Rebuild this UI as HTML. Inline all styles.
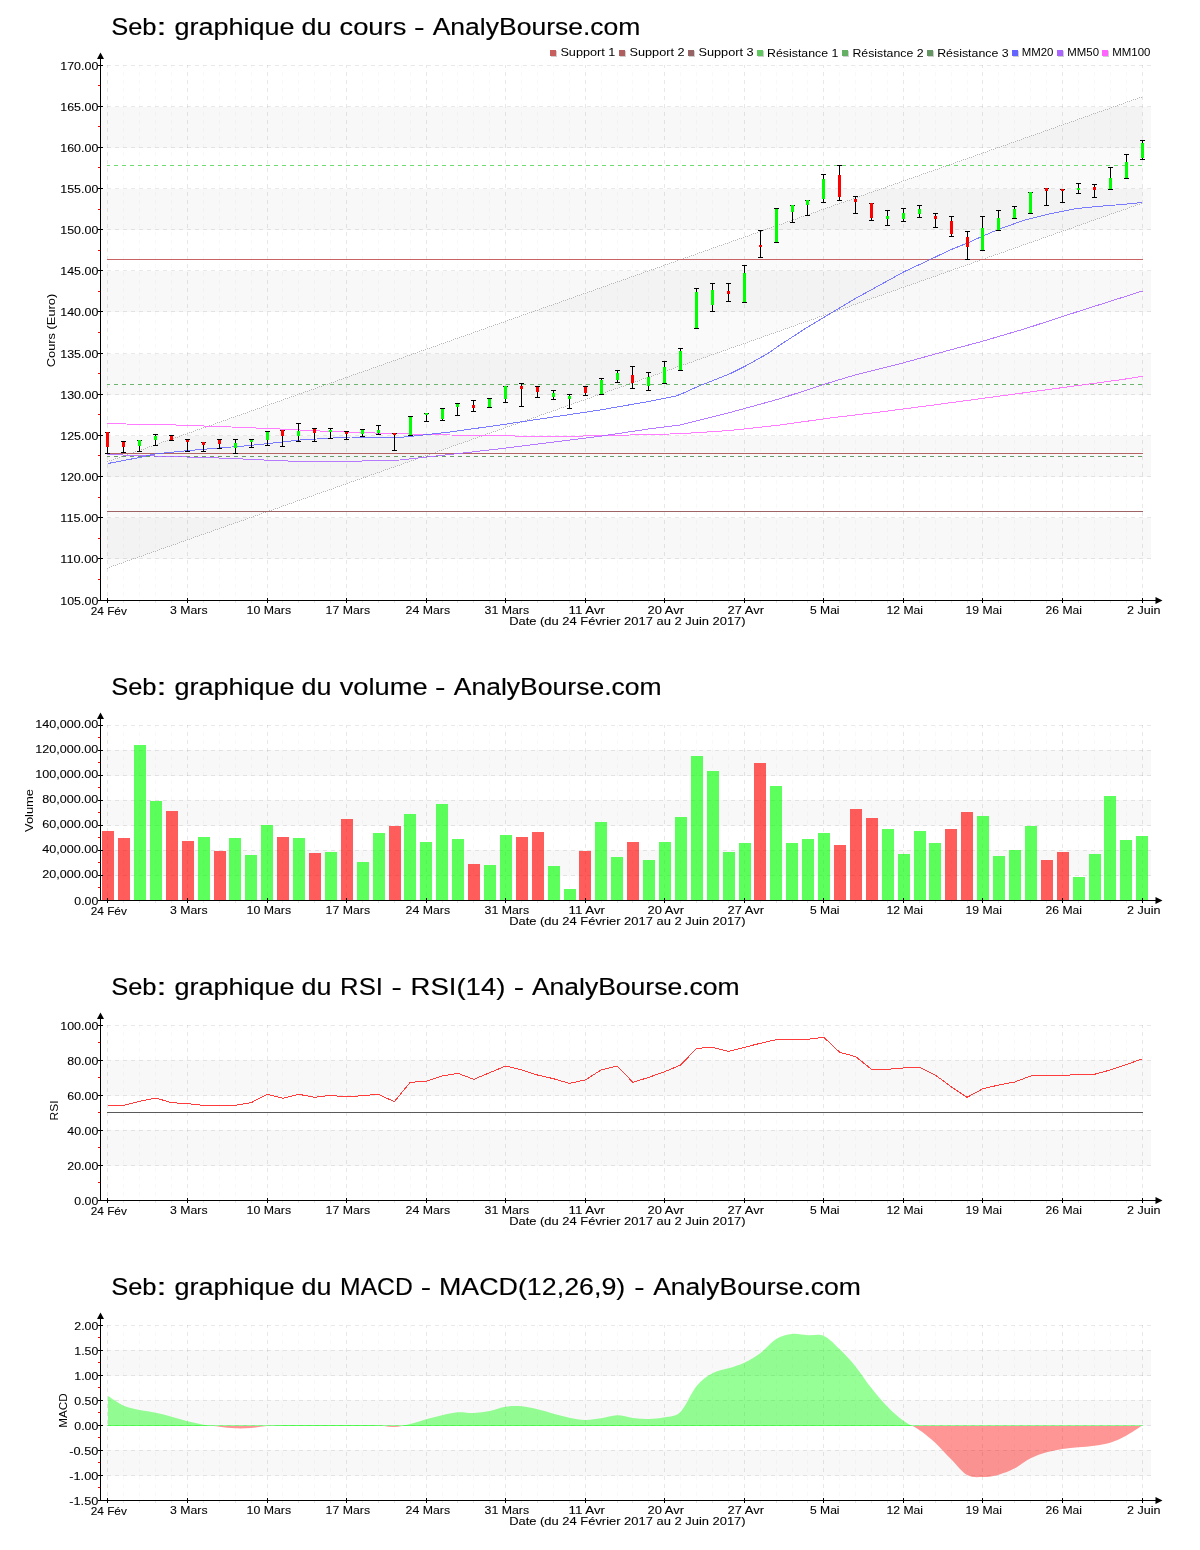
<!DOCTYPE html>
<html><head><meta charset="utf-8"><title>Seb</title>
<style>html,body{margin:0;padding:0;background:#fff}svg{display:block;will-change:transform}text{font-family:"Liberation Sans",sans-serif}</style>
</head><body>
<svg width="1200" height="1550" viewBox="0 0 1200 1550" font-family='"Liberation Sans", sans-serif'>
<rect width="1200" height="1550" fill="#fff"/>
<rect x="101" y="107" width="1050" height="41" fill="#f8f8f8" shape-rendering="crispEdges"/>
<rect x="101" y="189" width="1050" height="41" fill="#f8f8f8" shape-rendering="crispEdges"/>
<rect x="101" y="271" width="1050" height="41" fill="#f8f8f8" shape-rendering="crispEdges"/>
<rect x="101" y="354" width="1050" height="41" fill="#f8f8f8" shape-rendering="crispEdges"/>
<rect x="101" y="436" width="1050" height="41" fill="#f8f8f8" shape-rendering="crispEdges"/>
<rect x="101" y="518" width="1050" height="41" fill="#f8f8f8" shape-rendering="crispEdges"/>
<line x1="107.5" y1="65" x2="107.5" y2="600" stroke="#000" stroke-opacity="0.09" stroke-width="1" stroke-dasharray="4 4" stroke-dashoffset="1" shape-rendering="crispEdges"/>
<line x1="123.5" y1="65" x2="123.5" y2="600" stroke="#000" stroke-opacity="0.024" stroke-width="1" stroke-dasharray="4 4" stroke-dashoffset="1" shape-rendering="crispEdges"/>
<line x1="139.5" y1="65" x2="139.5" y2="600" stroke="#000" stroke-opacity="0.024" stroke-width="1" stroke-dasharray="4 4" stroke-dashoffset="1" shape-rendering="crispEdges"/>
<line x1="155.5" y1="65" x2="155.5" y2="600" stroke="#000" stroke-opacity="0.024" stroke-width="1" stroke-dasharray="4 4" stroke-dashoffset="1" shape-rendering="crispEdges"/>
<line x1="171.5" y1="65" x2="171.5" y2="600" stroke="#000" stroke-opacity="0.024" stroke-width="1" stroke-dasharray="4 4" stroke-dashoffset="1" shape-rendering="crispEdges"/>
<line x1="187.5" y1="65" x2="187.5" y2="600" stroke="#000" stroke-opacity="0.09" stroke-width="1" stroke-dasharray="4 4" stroke-dashoffset="1" shape-rendering="crispEdges"/>
<line x1="203.5" y1="65" x2="203.5" y2="600" stroke="#000" stroke-opacity="0.024" stroke-width="1" stroke-dasharray="4 4" stroke-dashoffset="1" shape-rendering="crispEdges"/>
<line x1="219.5" y1="65" x2="219.5" y2="600" stroke="#000" stroke-opacity="0.024" stroke-width="1" stroke-dasharray="4 4" stroke-dashoffset="1" shape-rendering="crispEdges"/>
<line x1="235.5" y1="65" x2="235.5" y2="600" stroke="#000" stroke-opacity="0.024" stroke-width="1" stroke-dasharray="4 4" stroke-dashoffset="1" shape-rendering="crispEdges"/>
<line x1="251.5" y1="65" x2="251.5" y2="600" stroke="#000" stroke-opacity="0.024" stroke-width="1" stroke-dasharray="4 4" stroke-dashoffset="1" shape-rendering="crispEdges"/>
<line x1="267.5" y1="65" x2="267.5" y2="600" stroke="#000" stroke-opacity="0.09" stroke-width="1" stroke-dasharray="4 4" stroke-dashoffset="1" shape-rendering="crispEdges"/>
<line x1="282.5" y1="65" x2="282.5" y2="600" stroke="#000" stroke-opacity="0.024" stroke-width="1" stroke-dasharray="4 4" stroke-dashoffset="1" shape-rendering="crispEdges"/>
<line x1="298.5" y1="65" x2="298.5" y2="600" stroke="#000" stroke-opacity="0.024" stroke-width="1" stroke-dasharray="4 4" stroke-dashoffset="1" shape-rendering="crispEdges"/>
<line x1="314.5" y1="65" x2="314.5" y2="600" stroke="#000" stroke-opacity="0.024" stroke-width="1" stroke-dasharray="4 4" stroke-dashoffset="1" shape-rendering="crispEdges"/>
<line x1="330.5" y1="65" x2="330.5" y2="600" stroke="#000" stroke-opacity="0.024" stroke-width="1" stroke-dasharray="4 4" stroke-dashoffset="1" shape-rendering="crispEdges"/>
<line x1="346.5" y1="65" x2="346.5" y2="600" stroke="#000" stroke-opacity="0.09" stroke-width="1" stroke-dasharray="4 4" stroke-dashoffset="1" shape-rendering="crispEdges"/>
<line x1="362.5" y1="65" x2="362.5" y2="600" stroke="#000" stroke-opacity="0.024" stroke-width="1" stroke-dasharray="4 4" stroke-dashoffset="1" shape-rendering="crispEdges"/>
<line x1="378.5" y1="65" x2="378.5" y2="600" stroke="#000" stroke-opacity="0.024" stroke-width="1" stroke-dasharray="4 4" stroke-dashoffset="1" shape-rendering="crispEdges"/>
<line x1="394.5" y1="65" x2="394.5" y2="600" stroke="#000" stroke-opacity="0.024" stroke-width="1" stroke-dasharray="4 4" stroke-dashoffset="1" shape-rendering="crispEdges"/>
<line x1="410.5" y1="65" x2="410.5" y2="600" stroke="#000" stroke-opacity="0.024" stroke-width="1" stroke-dasharray="4 4" stroke-dashoffset="1" shape-rendering="crispEdges"/>
<line x1="426.5" y1="65" x2="426.5" y2="600" stroke="#000" stroke-opacity="0.09" stroke-width="1" stroke-dasharray="4 4" stroke-dashoffset="1" shape-rendering="crispEdges"/>
<line x1="442.5" y1="65" x2="442.5" y2="600" stroke="#000" stroke-opacity="0.024" stroke-width="1" stroke-dasharray="4 4" stroke-dashoffset="1" shape-rendering="crispEdges"/>
<line x1="457.5" y1="65" x2="457.5" y2="600" stroke="#000" stroke-opacity="0.024" stroke-width="1" stroke-dasharray="4 4" stroke-dashoffset="1" shape-rendering="crispEdges"/>
<line x1="473.5" y1="65" x2="473.5" y2="600" stroke="#000" stroke-opacity="0.024" stroke-width="1" stroke-dasharray="4 4" stroke-dashoffset="1" shape-rendering="crispEdges"/>
<line x1="489.5" y1="65" x2="489.5" y2="600" stroke="#000" stroke-opacity="0.024" stroke-width="1" stroke-dasharray="4 4" stroke-dashoffset="1" shape-rendering="crispEdges"/>
<line x1="505.5" y1="65" x2="505.5" y2="600" stroke="#000" stroke-opacity="0.09" stroke-width="1" stroke-dasharray="4 4" stroke-dashoffset="1" shape-rendering="crispEdges"/>
<line x1="521.5" y1="65" x2="521.5" y2="600" stroke="#000" stroke-opacity="0.024" stroke-width="1" stroke-dasharray="4 4" stroke-dashoffset="1" shape-rendering="crispEdges"/>
<line x1="537.5" y1="65" x2="537.5" y2="600" stroke="#000" stroke-opacity="0.024" stroke-width="1" stroke-dasharray="4 4" stroke-dashoffset="1" shape-rendering="crispEdges"/>
<line x1="553.5" y1="65" x2="553.5" y2="600" stroke="#000" stroke-opacity="0.024" stroke-width="1" stroke-dasharray="4 4" stroke-dashoffset="1" shape-rendering="crispEdges"/>
<line x1="569.5" y1="65" x2="569.5" y2="600" stroke="#000" stroke-opacity="0.024" stroke-width="1" stroke-dasharray="4 4" stroke-dashoffset="1" shape-rendering="crispEdges"/>
<line x1="585.5" y1="65" x2="585.5" y2="600" stroke="#000" stroke-opacity="0.09" stroke-width="1" stroke-dasharray="4 4" stroke-dashoffset="1" shape-rendering="crispEdges"/>
<line x1="601.5" y1="65" x2="601.5" y2="600" stroke="#000" stroke-opacity="0.024" stroke-width="1" stroke-dasharray="4 4" stroke-dashoffset="1" shape-rendering="crispEdges"/>
<line x1="617.5" y1="65" x2="617.5" y2="600" stroke="#000" stroke-opacity="0.024" stroke-width="1" stroke-dasharray="4 4" stroke-dashoffset="1" shape-rendering="crispEdges"/>
<line x1="632.5" y1="65" x2="632.5" y2="600" stroke="#000" stroke-opacity="0.024" stroke-width="1" stroke-dasharray="4 4" stroke-dashoffset="1" shape-rendering="crispEdges"/>
<line x1="648.5" y1="65" x2="648.5" y2="600" stroke="#000" stroke-opacity="0.024" stroke-width="1" stroke-dasharray="4 4" stroke-dashoffset="1" shape-rendering="crispEdges"/>
<line x1="664.5" y1="65" x2="664.5" y2="600" stroke="#000" stroke-opacity="0.09" stroke-width="1" stroke-dasharray="4 4" stroke-dashoffset="1" shape-rendering="crispEdges"/>
<line x1="680.5" y1="65" x2="680.5" y2="600" stroke="#000" stroke-opacity="0.024" stroke-width="1" stroke-dasharray="4 4" stroke-dashoffset="1" shape-rendering="crispEdges"/>
<line x1="696.5" y1="65" x2="696.5" y2="600" stroke="#000" stroke-opacity="0.024" stroke-width="1" stroke-dasharray="4 4" stroke-dashoffset="1" shape-rendering="crispEdges"/>
<line x1="712.5" y1="65" x2="712.5" y2="600" stroke="#000" stroke-opacity="0.024" stroke-width="1" stroke-dasharray="4 4" stroke-dashoffset="1" shape-rendering="crispEdges"/>
<line x1="728.5" y1="65" x2="728.5" y2="600" stroke="#000" stroke-opacity="0.024" stroke-width="1" stroke-dasharray="4 4" stroke-dashoffset="1" shape-rendering="crispEdges"/>
<line x1="744.5" y1="65" x2="744.5" y2="600" stroke="#000" stroke-opacity="0.09" stroke-width="1" stroke-dasharray="4 4" stroke-dashoffset="1" shape-rendering="crispEdges"/>
<line x1="760.5" y1="65" x2="760.5" y2="600" stroke="#000" stroke-opacity="0.024" stroke-width="1" stroke-dasharray="4 4" stroke-dashoffset="1" shape-rendering="crispEdges"/>
<line x1="776.5" y1="65" x2="776.5" y2="600" stroke="#000" stroke-opacity="0.024" stroke-width="1" stroke-dasharray="4 4" stroke-dashoffset="1" shape-rendering="crispEdges"/>
<line x1="792.5" y1="65" x2="792.5" y2="600" stroke="#000" stroke-opacity="0.024" stroke-width="1" stroke-dasharray="4 4" stroke-dashoffset="1" shape-rendering="crispEdges"/>
<line x1="807.5" y1="65" x2="807.5" y2="600" stroke="#000" stroke-opacity="0.024" stroke-width="1" stroke-dasharray="4 4" stroke-dashoffset="1" shape-rendering="crispEdges"/>
<line x1="823.5" y1="65" x2="823.5" y2="600" stroke="#000" stroke-opacity="0.09" stroke-width="1" stroke-dasharray="4 4" stroke-dashoffset="1" shape-rendering="crispEdges"/>
<line x1="839.5" y1="65" x2="839.5" y2="600" stroke="#000" stroke-opacity="0.024" stroke-width="1" stroke-dasharray="4 4" stroke-dashoffset="1" shape-rendering="crispEdges"/>
<line x1="855.5" y1="65" x2="855.5" y2="600" stroke="#000" stroke-opacity="0.024" stroke-width="1" stroke-dasharray="4 4" stroke-dashoffset="1" shape-rendering="crispEdges"/>
<line x1="871.5" y1="65" x2="871.5" y2="600" stroke="#000" stroke-opacity="0.024" stroke-width="1" stroke-dasharray="4 4" stroke-dashoffset="1" shape-rendering="crispEdges"/>
<line x1="887.5" y1="65" x2="887.5" y2="600" stroke="#000" stroke-opacity="0.024" stroke-width="1" stroke-dasharray="4 4" stroke-dashoffset="1" shape-rendering="crispEdges"/>
<line x1="903.5" y1="65" x2="903.5" y2="600" stroke="#000" stroke-opacity="0.09" stroke-width="1" stroke-dasharray="4 4" stroke-dashoffset="1" shape-rendering="crispEdges"/>
<line x1="919.5" y1="65" x2="919.5" y2="600" stroke="#000" stroke-opacity="0.024" stroke-width="1" stroke-dasharray="4 4" stroke-dashoffset="1" shape-rendering="crispEdges"/>
<line x1="935.5" y1="65" x2="935.5" y2="600" stroke="#000" stroke-opacity="0.024" stroke-width="1" stroke-dasharray="4 4" stroke-dashoffset="1" shape-rendering="crispEdges"/>
<line x1="951.5" y1="65" x2="951.5" y2="600" stroke="#000" stroke-opacity="0.024" stroke-width="1" stroke-dasharray="4 4" stroke-dashoffset="1" shape-rendering="crispEdges"/>
<line x1="967.5" y1="65" x2="967.5" y2="600" stroke="#000" stroke-opacity="0.024" stroke-width="1" stroke-dasharray="4 4" stroke-dashoffset="1" shape-rendering="crispEdges"/>
<line x1="982.5" y1="65" x2="982.5" y2="600" stroke="#000" stroke-opacity="0.09" stroke-width="1" stroke-dasharray="4 4" stroke-dashoffset="1" shape-rendering="crispEdges"/>
<line x1="998.5" y1="65" x2="998.5" y2="600" stroke="#000" stroke-opacity="0.024" stroke-width="1" stroke-dasharray="4 4" stroke-dashoffset="1" shape-rendering="crispEdges"/>
<line x1="1014.5" y1="65" x2="1014.5" y2="600" stroke="#000" stroke-opacity="0.024" stroke-width="1" stroke-dasharray="4 4" stroke-dashoffset="1" shape-rendering="crispEdges"/>
<line x1="1030.5" y1="65" x2="1030.5" y2="600" stroke="#000" stroke-opacity="0.024" stroke-width="1" stroke-dasharray="4 4" stroke-dashoffset="1" shape-rendering="crispEdges"/>
<line x1="1046.5" y1="65" x2="1046.5" y2="600" stroke="#000" stroke-opacity="0.024" stroke-width="1" stroke-dasharray="4 4" stroke-dashoffset="1" shape-rendering="crispEdges"/>
<line x1="1062.5" y1="65" x2="1062.5" y2="600" stroke="#000" stroke-opacity="0.09" stroke-width="1" stroke-dasharray="4 4" stroke-dashoffset="1" shape-rendering="crispEdges"/>
<line x1="1078.5" y1="65" x2="1078.5" y2="600" stroke="#000" stroke-opacity="0.024" stroke-width="1" stroke-dasharray="4 4" stroke-dashoffset="1" shape-rendering="crispEdges"/>
<line x1="1094.5" y1="65" x2="1094.5" y2="600" stroke="#000" stroke-opacity="0.024" stroke-width="1" stroke-dasharray="4 4" stroke-dashoffset="1" shape-rendering="crispEdges"/>
<line x1="1110.5" y1="65" x2="1110.5" y2="600" stroke="#000" stroke-opacity="0.024" stroke-width="1" stroke-dasharray="4 4" stroke-dashoffset="1" shape-rendering="crispEdges"/>
<line x1="1126.5" y1="65" x2="1126.5" y2="600" stroke="#000" stroke-opacity="0.024" stroke-width="1" stroke-dasharray="4 4" stroke-dashoffset="1" shape-rendering="crispEdges"/>
<line x1="1142.5" y1="65" x2="1142.5" y2="600" stroke="#000" stroke-opacity="0.09" stroke-width="1" stroke-dasharray="4 4" stroke-dashoffset="1" shape-rendering="crispEdges"/>
<line x1="107" y1="65.5" x2="1151" y2="65.5" stroke="#000" stroke-opacity="0.085" stroke-width="1" stroke-dasharray="4 4" shape-rendering="crispEdges"/>
<line x1="107" y1="106.5" x2="1151" y2="106.5" stroke="#000" stroke-opacity="0.085" stroke-width="1" stroke-dasharray="4 4" shape-rendering="crispEdges"/>
<line x1="107" y1="147.5" x2="1151" y2="147.5" stroke="#000" stroke-opacity="0.085" stroke-width="1" stroke-dasharray="4 4" shape-rendering="crispEdges"/>
<line x1="107" y1="188.5" x2="1151" y2="188.5" stroke="#000" stroke-opacity="0.085" stroke-width="1" stroke-dasharray="4 4" shape-rendering="crispEdges"/>
<line x1="107" y1="229.5" x2="1151" y2="229.5" stroke="#000" stroke-opacity="0.085" stroke-width="1" stroke-dasharray="4 4" shape-rendering="crispEdges"/>
<line x1="107" y1="270.5" x2="1151" y2="270.5" stroke="#000" stroke-opacity="0.085" stroke-width="1" stroke-dasharray="4 4" shape-rendering="crispEdges"/>
<line x1="107" y1="311.5" x2="1151" y2="311.5" stroke="#000" stroke-opacity="0.085" stroke-width="1" stroke-dasharray="4 4" shape-rendering="crispEdges"/>
<line x1="107" y1="353.5" x2="1151" y2="353.5" stroke="#000" stroke-opacity="0.085" stroke-width="1" stroke-dasharray="4 4" shape-rendering="crispEdges"/>
<line x1="107" y1="394.5" x2="1151" y2="394.5" stroke="#000" stroke-opacity="0.085" stroke-width="1" stroke-dasharray="4 4" shape-rendering="crispEdges"/>
<line x1="107" y1="435.5" x2="1151" y2="435.5" stroke="#000" stroke-opacity="0.085" stroke-width="1" stroke-dasharray="4 4" shape-rendering="crispEdges"/>
<line x1="107" y1="476.5" x2="1151" y2="476.5" stroke="#000" stroke-opacity="0.085" stroke-width="1" stroke-dasharray="4 4" shape-rendering="crispEdges"/>
<line x1="107" y1="517.5" x2="1151" y2="517.5" stroke="#000" stroke-opacity="0.085" stroke-width="1" stroke-dasharray="4 4" shape-rendering="crispEdges"/>
<line x1="107" y1="558.5" x2="1151" y2="558.5" stroke="#000" stroke-opacity="0.085" stroke-width="1" stroke-dasharray="4 4" shape-rendering="crispEdges"/>
<path d="M107.5 461.70 L1142.5 96.71 L1142.5 203.01 L107.5 568.00 Z" fill="#000" fill-opacity="0.02"/>
<path d="M107 461.5h1M109 460.5h1M111 460.5h1M113 459.5h1M115 458.5h1M117 458.5h1M119 457.5h1M121 456.5h1M123 456.5h1M125 455.5h1M127 454.5h1M129 453.5h1M131 453.5h1M133 452.5h1M135 451.5h1M137 451.5h1M139 450.5h1M141 449.5h1M143 449.5h1M145 448.5h1M147 447.5h1M149 446.5h1M151 446.5h1M153 445.5h1M155 444.5h1M157 444.5h1M159 443.5h1M161 442.5h1M163 441.5h1M165 441.5h1M167 440.5h1M169 439.5h1M171 439.5h1M173 438.5h1M175 437.5h1M177 437.5h1M179 436.5h1M181 435.5h1M183 434.5h1M185 434.5h1M187 433.5h1M189 432.5h1M191 432.5h1M193 431.5h1M195 430.5h1M197 429.5h1M199 429.5h1M201 428.5h1M203 427.5h1M205 427.5h1M207 426.5h1M209 425.5h1M211 425.5h1M213 424.5h1M215 423.5h1M217 422.5h1M219 422.5h1M221 421.5h1M223 420.5h1M225 420.5h1M227 419.5h1M229 418.5h1M231 417.5h1M233 417.5h1M235 416.5h1M237 415.5h1M239 415.5h1M241 414.5h1M243 413.5h1M245 413.5h1M247 412.5h1M249 411.5h1M251 410.5h1M253 410.5h1M255 409.5h1M257 408.5h1M259 408.5h1M261 407.5h1M263 406.5h1M265 405.5h1M267 405.5h1M269 404.5h1M271 403.5h1M273 403.5h1M275 402.5h1M277 401.5h1M279 401.5h1M281 400.5h1M283 399.5h1M285 398.5h1M287 398.5h1M289 397.5h1M291 396.5h1M293 396.5h1M295 395.5h1M297 394.5h1M299 393.5h1M301 393.5h1M303 392.5h1M305 391.5h1M307 391.5h1M309 390.5h1M311 389.5h1M313 389.5h1M315 388.5h1M317 387.5h1M319 386.5h1M321 386.5h1M323 385.5h1M325 384.5h1M327 384.5h1M329 383.5h1M331 382.5h1M333 382.5h1M335 381.5h1M337 380.5h1M339 379.5h1M341 379.5h1M343 378.5h1M345 377.5h1M347 377.5h1M349 376.5h1M351 375.5h1M353 374.5h1M355 374.5h1M357 373.5h1M359 372.5h1M361 372.5h1M363 371.5h1M365 370.5h1M367 370.5h1M369 369.5h1M371 368.5h1M373 367.5h1M375 367.5h1M377 366.5h1M379 365.5h1M381 365.5h1M383 364.5h1M385 363.5h1M387 362.5h1M389 362.5h1M391 361.5h1M393 360.5h1M395 360.5h1M397 359.5h1M399 358.5h1M401 358.5h1M403 357.5h1M405 356.5h1M407 355.5h1M409 355.5h1M411 354.5h1M413 353.5h1M415 353.5h1M417 352.5h1M419 351.5h1M421 350.5h1M423 350.5h1M425 349.5h1M427 348.5h1M429 348.5h1M431 347.5h1M433 346.5h1M435 346.5h1M437 345.5h1M439 344.5h1M441 343.5h1M443 343.5h1M445 342.5h1M447 341.5h1M449 341.5h1M451 340.5h1M453 339.5h1M455 338.5h1M457 338.5h1M459 337.5h1M461 336.5h1M463 336.5h1M465 335.5h1M467 334.5h1M469 334.5h1M471 333.5h1M473 332.5h1M475 331.5h1M477 331.5h1M479 330.5h1M481 329.5h1M483 329.5h1M485 328.5h1M487 327.5h1M489 326.5h1M491 326.5h1M493 325.5h1M495 324.5h1M497 324.5h1M499 323.5h1M501 322.5h1M503 322.5h1M505 321.5h1M507 320.5h1M509 319.5h1M511 319.5h1M513 318.5h1M515 317.5h1M517 317.5h1M519 316.5h1M521 315.5h1M523 314.5h1M525 314.5h1M527 313.5h1M529 312.5h1M531 312.5h1M533 311.5h1M535 310.5h1M537 310.5h1M539 309.5h1M541 308.5h1M543 307.5h1M545 307.5h1M547 306.5h1M549 305.5h1M551 305.5h1M553 304.5h1M555 303.5h1M557 303.5h1M559 302.5h1M561 301.5h1M563 300.5h1M565 300.5h1M567 299.5h1M569 298.5h1M571 298.5h1M573 297.5h1M575 296.5h1M577 295.5h1M579 295.5h1M581 294.5h1M583 293.5h1M585 293.5h1M587 292.5h1M589 291.5h1M591 291.5h1M593 290.5h1M595 289.5h1M597 288.5h1M599 288.5h1M601 287.5h1M603 286.5h1M605 286.5h1M607 285.5h1M609 284.5h1M611 283.5h1M613 283.5h1M615 282.5h1M617 281.5h1M619 281.5h1M621 280.5h1M623 279.5h1M625 279.5h1M627 278.5h1M629 277.5h1M631 276.5h1M633 276.5h1M635 275.5h1M637 274.5h1M639 274.5h1M641 273.5h1M643 272.5h1M645 271.5h1M647 271.5h1M649 270.5h1M651 269.5h1M653 269.5h1M655 268.5h1M657 267.5h1M659 267.5h1M661 266.5h1M663 265.5h1M665 264.5h1M667 264.5h1M669 263.5h1M671 262.5h1M673 262.5h1M675 261.5h1M677 260.5h1M679 259.5h1M681 259.5h1M683 258.5h1M685 257.5h1M687 257.5h1M689 256.5h1M691 255.5h1M693 255.5h1M695 254.5h1M697 253.5h1M699 252.5h1M701 252.5h1M703 251.5h1M705 250.5h1M707 250.5h1M709 249.5h1M711 248.5h1M713 247.5h1M715 247.5h1M717 246.5h1M719 245.5h1M721 245.5h1M723 244.5h1M725 243.5h1M727 243.5h1M729 242.5h1M731 241.5h1M733 240.5h1M735 240.5h1M737 239.5h1M739 238.5h1M741 238.5h1M743 237.5h1M745 236.5h1M747 236.5h1M749 235.5h1M751 234.5h1M753 233.5h1M755 233.5h1M757 232.5h1M759 231.5h1M761 231.5h1M763 230.5h1M765 229.5h1M767 228.5h1M769 228.5h1M771 227.5h1M773 226.5h1M775 226.5h1M777 225.5h1M779 224.5h1M781 224.5h1M783 223.5h1M785 222.5h1M787 221.5h1M789 221.5h1M791 220.5h1M793 219.5h1M795 219.5h1M797 218.5h1M799 217.5h1M801 216.5h1M803 216.5h1M805 215.5h1M807 214.5h1M809 214.5h1M811 213.5h1M813 212.5h1M815 212.5h1M817 211.5h1M819 210.5h1M821 209.5h1M823 209.5h1M825 208.5h1M827 207.5h1M829 207.5h1M831 206.5h1M833 205.5h1M835 204.5h1M837 204.5h1M839 203.5h1M841 202.5h1M843 202.5h1M845 201.5h1M847 200.5h1M849 200.5h1M851 199.5h1M853 198.5h1M855 197.5h1M857 197.5h1M859 196.5h1M861 195.5h1M863 195.5h1M865 194.5h1M867 193.5h1M869 192.5h1M871 192.5h1M873 191.5h1M875 190.5h1M877 190.5h1M879 189.5h1M881 188.5h1M883 188.5h1M885 187.5h1M887 186.5h1M889 185.5h1M891 185.5h1M893 184.5h1M895 183.5h1M897 183.5h1M899 182.5h1M901 181.5h1M903 180.5h1M905 180.5h1M907 179.5h1M909 178.5h1M911 178.5h1M913 177.5h1M915 176.5h1M917 176.5h1M919 175.5h1M921 174.5h1M923 173.5h1M925 173.5h1M927 172.5h1M929 171.5h1M931 171.5h1M933 170.5h1M935 169.5h1M937 169.5h1M939 168.5h1M941 167.5h1M943 166.5h1M945 166.5h1M947 165.5h1M949 164.5h1M951 164.5h1M953 163.5h1M955 162.5h1M957 161.5h1M959 161.5h1M961 160.5h1M963 159.5h1M965 159.5h1M967 158.5h1M969 157.5h1M971 157.5h1M973 156.5h1M975 155.5h1M977 154.5h1M979 154.5h1M981 153.5h1M983 152.5h1M985 152.5h1M987 151.5h1M989 150.5h1M991 149.5h1M993 149.5h1M995 148.5h1M997 147.5h1M999 147.5h1M1001 146.5h1M1003 145.5h1M1005 145.5h1M1007 144.5h1M1009 143.5h1M1011 142.5h1M1013 142.5h1M1015 141.5h1M1017 140.5h1M1019 140.5h1M1021 139.5h1M1023 138.5h1M1025 137.5h1M1027 137.5h1M1029 136.5h1M1031 135.5h1M1033 135.5h1M1035 134.5h1M1037 133.5h1M1039 133.5h1M1041 132.5h1M1043 131.5h1M1045 130.5h1M1047 130.5h1M1049 129.5h1M1051 128.5h1M1053 128.5h1M1055 127.5h1M1057 126.5h1M1059 125.5h1M1061 125.5h1M1063 124.5h1M1065 123.5h1M1067 123.5h1M1069 122.5h1M1071 121.5h1M1073 121.5h1M1075 120.5h1M1077 119.5h1M1079 118.5h1M1081 118.5h1M1083 117.5h1M1085 116.5h1M1087 116.5h1M1089 115.5h1M1091 114.5h1M1093 113.5h1M1095 113.5h1M1097 112.5h1M1099 111.5h1M1101 111.5h1M1103 110.5h1M1105 109.5h1M1107 109.5h1M1109 108.5h1M1111 107.5h1M1113 106.5h1M1115 106.5h1M1117 105.5h1M1119 104.5h1M1121 104.5h1M1123 103.5h1M1125 102.5h1M1127 101.5h1M1129 101.5h1M1131 100.5h1M1133 99.5h1M1135 99.5h1M1137 98.5h1M1139 97.5h1M1141 97.5h1" stroke="#b6b6b6" stroke-width="1" fill="none" shape-rendering="crispEdges"/>
<path d="M107 568.5h1M109 567.5h1M111 566.5h1M113 565.5h1M115 565.5h1M117 564.5h1M119 563.5h1M121 563.5h1M123 562.5h1M125 561.5h1M127 560.5h1M129 560.5h1M131 559.5h1M133 558.5h1M135 558.5h1M137 557.5h1M139 556.5h1M141 556.5h1M143 555.5h1M145 554.5h1M147 553.5h1M149 553.5h1M151 552.5h1M153 551.5h1M155 551.5h1M157 550.5h1M159 549.5h1M161 548.5h1M163 548.5h1M165 547.5h1M167 546.5h1M169 546.5h1M171 545.5h1M173 544.5h1M175 544.5h1M177 543.5h1M179 542.5h1M181 541.5h1M183 541.5h1M185 540.5h1M187 539.5h1M189 539.5h1M191 538.5h1M193 537.5h1M195 536.5h1M197 536.5h1M199 535.5h1M201 534.5h1M203 534.5h1M205 533.5h1M207 532.5h1M209 532.5h1M211 531.5h1M213 530.5h1M215 529.5h1M217 529.5h1M219 528.5h1M221 527.5h1M223 527.5h1M225 526.5h1M227 525.5h1M229 524.5h1M231 524.5h1M233 523.5h1M235 522.5h1M237 522.5h1M239 521.5h1M241 520.5h1M243 520.5h1M245 519.5h1M247 518.5h1M249 517.5h1M251 517.5h1M253 516.5h1M255 515.5h1M257 515.5h1M259 514.5h1M261 513.5h1M263 512.5h1M265 512.5h1M267 511.5h1M269 510.5h1M271 510.5h1M273 509.5h1M275 508.5h1M277 508.5h1M279 507.5h1M281 506.5h1M283 505.5h1M285 505.5h1M287 504.5h1M289 503.5h1M291 503.5h1M293 502.5h1M295 501.5h1M297 500.5h1M299 500.5h1M301 499.5h1M303 498.5h1M305 498.5h1M307 497.5h1M309 496.5h1M311 496.5h1M313 495.5h1M315 494.5h1M317 493.5h1M319 493.5h1M321 492.5h1M323 491.5h1M325 491.5h1M327 490.5h1M329 489.5h1M331 489.5h1M333 488.5h1M335 487.5h1M337 486.5h1M339 486.5h1M341 485.5h1M343 484.5h1M345 484.5h1M347 483.5h1M349 482.5h1M351 481.5h1M353 481.5h1M355 480.5h1M357 479.5h1M359 479.5h1M361 478.5h1M363 477.5h1M365 477.5h1M367 476.5h1M369 475.5h1M371 474.5h1M373 474.5h1M375 473.5h1M377 472.5h1M379 472.5h1M381 471.5h1M383 470.5h1M385 469.5h1M387 469.5h1M389 468.5h1M391 467.5h1M393 467.5h1M395 466.5h1M397 465.5h1M399 465.5h1M401 464.5h1M403 463.5h1M405 462.5h1M407 462.5h1M409 461.5h1M411 460.5h1M413 460.5h1M415 459.5h1M417 458.5h1M419 457.5h1M421 457.5h1M423 456.5h1M425 455.5h1M427 455.5h1M429 454.5h1M431 453.5h1M433 453.5h1M435 452.5h1M437 451.5h1M439 450.5h1M441 450.5h1M443 449.5h1M445 448.5h1M447 448.5h1M449 447.5h1M451 446.5h1M453 445.5h1M455 445.5h1M457 444.5h1M459 443.5h1M461 443.5h1M463 442.5h1M465 441.5h1M467 441.5h1M469 440.5h1M471 439.5h1M473 438.5h1M475 438.5h1M477 437.5h1M479 436.5h1M481 436.5h1M483 435.5h1M485 434.5h1M487 433.5h1M489 433.5h1M491 432.5h1M493 431.5h1M495 431.5h1M497 430.5h1M499 429.5h1M501 429.5h1M503 428.5h1M505 427.5h1M507 426.5h1M509 426.5h1M511 425.5h1M513 424.5h1M515 424.5h1M517 423.5h1M519 422.5h1M521 422.5h1M523 421.5h1M525 420.5h1M527 419.5h1M529 419.5h1M531 418.5h1M533 417.5h1M535 417.5h1M537 416.5h1M539 415.5h1M541 414.5h1M543 414.5h1M545 413.5h1M547 412.5h1M549 412.5h1M551 411.5h1M553 410.5h1M555 410.5h1M557 409.5h1M559 408.5h1M561 407.5h1M563 407.5h1M565 406.5h1M567 405.5h1M569 405.5h1M571 404.5h1M573 403.5h1M575 402.5h1M577 402.5h1M579 401.5h1M581 400.5h1M583 400.5h1M585 399.5h1M587 398.5h1M589 398.5h1M591 397.5h1M593 396.5h1M595 395.5h1M597 395.5h1M599 394.5h1M601 393.5h1M603 393.5h1M605 392.5h1M607 391.5h1M609 390.5h1M611 390.5h1M613 389.5h1M615 388.5h1M617 388.5h1M619 387.5h1M621 386.5h1M623 386.5h1M625 385.5h1M627 384.5h1M629 383.5h1M631 383.5h1M633 382.5h1M635 381.5h1M637 381.5h1M639 380.5h1M641 379.5h1M643 378.5h1M645 378.5h1M647 377.5h1M649 376.5h1M651 376.5h1M653 375.5h1M655 374.5h1M657 374.5h1M659 373.5h1M661 372.5h1M663 371.5h1M665 371.5h1M667 370.5h1M669 369.5h1M671 369.5h1M673 368.5h1M675 367.5h1M677 366.5h1M679 366.5h1M681 365.5h1M683 364.5h1M685 364.5h1M687 363.5h1M689 362.5h1M691 362.5h1M693 361.5h1M695 360.5h1M697 359.5h1M699 359.5h1M701 358.5h1M703 357.5h1M705 357.5h1M707 356.5h1M709 355.5h1M711 354.5h1M713 354.5h1M715 353.5h1M717 352.5h1M719 352.5h1M721 351.5h1M723 350.5h1M725 350.5h1M727 349.5h1M729 348.5h1M731 347.5h1M733 347.5h1M735 346.5h1M737 345.5h1M739 345.5h1M741 344.5h1M743 343.5h1M745 343.5h1M747 342.5h1M749 341.5h1M751 340.5h1M753 340.5h1M755 339.5h1M757 338.5h1M759 338.5h1M761 337.5h1M763 336.5h1M765 335.5h1M767 335.5h1M769 334.5h1M771 333.5h1M773 333.5h1M775 332.5h1M777 331.5h1M779 331.5h1M781 330.5h1M783 329.5h1M785 328.5h1M787 328.5h1M789 327.5h1M791 326.5h1M793 326.5h1M795 325.5h1M797 324.5h1M799 323.5h1M801 323.5h1M803 322.5h1M805 321.5h1M807 321.5h1M809 320.5h1M811 319.5h1M813 319.5h1M815 318.5h1M817 317.5h1M819 316.5h1M821 316.5h1M823 315.5h1M825 314.5h1M827 314.5h1M829 313.5h1M831 312.5h1M833 311.5h1M835 311.5h1M837 310.5h1M839 309.5h1M841 309.5h1M843 308.5h1M845 307.5h1M847 307.5h1M849 306.5h1M851 305.5h1M853 304.5h1M855 304.5h1M857 303.5h1M859 302.5h1M861 302.5h1M863 301.5h1M865 300.5h1M867 299.5h1M869 299.5h1M871 298.5h1M873 297.5h1M875 297.5h1M877 296.5h1M879 295.5h1M881 295.5h1M883 294.5h1M885 293.5h1M887 292.5h1M889 292.5h1M891 291.5h1M893 290.5h1M895 290.5h1M897 289.5h1M899 288.5h1M901 287.5h1M903 287.5h1M905 286.5h1M907 285.5h1M909 285.5h1M911 284.5h1M913 283.5h1M915 283.5h1M917 282.5h1M919 281.5h1M921 280.5h1M923 280.5h1M925 279.5h1M927 278.5h1M929 278.5h1M931 277.5h1M933 276.5h1M935 276.5h1M937 275.5h1M939 274.5h1M941 273.5h1M943 273.5h1M945 272.5h1M947 271.5h1M949 271.5h1M951 270.5h1M953 269.5h1M955 268.5h1M957 268.5h1M959 267.5h1M961 266.5h1M963 266.5h1M965 265.5h1M967 264.5h1M969 264.5h1M971 263.5h1M973 262.5h1M975 261.5h1M977 261.5h1M979 260.5h1M981 259.5h1M983 259.5h1M985 258.5h1M987 257.5h1M989 256.5h1M991 256.5h1M993 255.5h1M995 254.5h1M997 254.5h1M999 253.5h1M1001 252.5h1M1003 252.5h1M1005 251.5h1M1007 250.5h1M1009 249.5h1M1011 249.5h1M1013 248.5h1M1015 247.5h1M1017 247.5h1M1019 246.5h1M1021 245.5h1M1023 244.5h1M1025 244.5h1M1027 243.5h1M1029 242.5h1M1031 242.5h1M1033 241.5h1M1035 240.5h1M1037 240.5h1M1039 239.5h1M1041 238.5h1M1043 237.5h1M1045 237.5h1M1047 236.5h1M1049 235.5h1M1051 235.5h1M1053 234.5h1M1055 233.5h1M1057 232.5h1M1059 232.5h1M1061 231.5h1M1063 230.5h1M1065 230.5h1M1067 229.5h1M1069 228.5h1M1071 228.5h1M1073 227.5h1M1075 226.5h1M1077 225.5h1M1079 225.5h1M1081 224.5h1M1083 223.5h1M1085 223.5h1M1087 222.5h1M1089 221.5h1M1091 220.5h1M1093 220.5h1M1095 219.5h1M1097 218.5h1M1099 218.5h1M1101 217.5h1M1103 216.5h1M1105 216.5h1M1107 215.5h1M1109 214.5h1M1111 213.5h1M1113 213.5h1M1115 212.5h1M1117 211.5h1M1119 211.5h1M1121 210.5h1M1123 209.5h1M1125 209.5h1M1127 208.5h1M1129 207.5h1M1131 206.5h1M1133 206.5h1M1135 205.5h1M1137 204.5h1M1139 204.5h1M1141 203.5h1" stroke="#b6b6b6" stroke-width="1" fill="none" shape-rendering="crispEdges"/>
<line x1="107" y1="259.5" x2="1143" y2="259.5" stroke="#c86464" stroke-width="1" shape-rendering="crispEdges"/>
<line x1="107" y1="453.5" x2="1143" y2="453.5" stroke="#b46464" stroke-width="1" shape-rendering="crispEdges"/>
<line x1="107" y1="511.5" x2="1143" y2="511.5" stroke="#9c6464" stroke-width="1" shape-rendering="crispEdges"/>
<line x1="107" y1="165.5" x2="1143" y2="165.5" stroke="#6edc6e" stroke-width="1" stroke-dasharray="4 4" stroke-dashoffset="1" shape-rendering="crispEdges"/>
<line x1="107" y1="384.5" x2="1143" y2="384.5" stroke="#6eb46e" stroke-width="1" stroke-dasharray="4 4" stroke-dashoffset="1" shape-rendering="crispEdges"/>
<line x1="107" y1="456.5" x2="1143" y2="456.5" stroke="#6a9c6a" stroke-width="1" stroke-dasharray="4 4" stroke-dashoffset="1" shape-rendering="crispEdges"/>
<path d="M107.50 423.75 L162.00 424.50 L225.00 426.75 L275.00 428.75 L325.00 431.25 L375.00 433.00 L400.00 433.75 L450.00 435.00 L500.00 435.50 L530.00 436.50 L550.00 436.50 L600.00 435.75 L650.00 434.50 L680.00 433.75 L730.00 430.50 L780.00 425.00 L830.00 418.00 L880.00 412.00 L930.00 405.50 L980.00 398.75 L1122.50 379.50 L1142.50 376.25" fill="none" stroke="#ff64ff" stroke-width="1" stroke-opacity="0.85" stroke-linejoin="round" shape-rendering="crispEdges"/>
<path d="M107.50 454.40 L130.00 455.30 L162.00 456.20 L196.00 457.30 L225.00 458.20 L275.00 460.50 L300.00 461.50 L350.00 461.50 L375.00 460.50 L400.00 460.00 L450.00 454.50 L500.00 448.75 L550.00 442.50 L600.00 436.25 L650.00 428.75 L680.00 425.00 L730.00 412.50 L780.00 398.75 L830.00 382.50 L855.00 375.00 L880.00 368.75 L900.00 363.75 L950.00 350.00 L982.50 341.25 L1025.00 328.75 L1075.00 312.50 L1142.50 291.00" fill="none" stroke="#aa64ff" stroke-width="1" stroke-opacity="0.85" stroke-linejoin="round" shape-rendering="crispEdges"/>
<path d="M107.95 463.50 L123.90 460.40 L139.80 457.50 L155.70 453.80 L171.60 452.30 L187.50 450.60 L203.40 449.30 L250.00 445.50 L300.00 440.00 L350.00 437.00 L400.00 437.50 L450.00 432.00 L500.00 425.00 L550.00 417.50 L600.00 410.00 L650.00 401.25 L675.00 396.25 L682.00 393.75 L700.00 385.50 L705.00 383.75 L730.00 373.75 L745.00 366.25 L767.50 353.75 L780.00 345.00 L805.00 328.75 L830.00 313.75 L855.00 298.75 L880.00 285.00 L905.00 271.25 L925.00 262.00 L950.00 250.00 L967.50 243.00 L982.50 236.25 L1000.00 228.75 L1025.00 220.00 L1050.00 213.75 L1075.00 208.75 L1100.00 206.25 L1125.00 204.25 L1142.50 202.50" fill="none" stroke="#6464ff" stroke-width="1" stroke-opacity="0.85" stroke-linejoin="round" shape-rendering="crispEdges"/>
<rect x="107" y="432" width="1" height="22" fill="#000" shape-rendering="crispEdges"/>
<rect x="105" y="432" width="5" height="1" fill="#000" shape-rendering="crispEdges"/>
<rect x="105" y="453" width="5" height="1" fill="#000" shape-rendering="crispEdges"/>
<rect x="106" y="432" width="3" height="15" fill="#ff0000" shape-rendering="crispEdges"/>
<rect x="123" y="441" width="1" height="12" fill="#000" shape-rendering="crispEdges"/>
<rect x="121" y="441" width="5" height="1" fill="#000" shape-rendering="crispEdges"/>
<rect x="121" y="452" width="5" height="1" fill="#000" shape-rendering="crispEdges"/>
<rect x="122" y="442" width="3" height="5" fill="#ff0000" shape-rendering="crispEdges"/>
<rect x="139" y="440" width="1" height="12" fill="#000" shape-rendering="crispEdges"/>
<rect x="137" y="440" width="5" height="1" fill="#000" shape-rendering="crispEdges"/>
<rect x="137" y="451" width="5" height="1" fill="#000" shape-rendering="crispEdges"/>
<rect x="138" y="440" width="3" height="6" fill="#00ff00" shape-rendering="crispEdges"/>
<rect x="155" y="434" width="1" height="12" fill="#000" shape-rendering="crispEdges"/>
<rect x="153" y="434" width="5" height="1" fill="#000" shape-rendering="crispEdges"/>
<rect x="153" y="445" width="5" height="1" fill="#000" shape-rendering="crispEdges"/>
<rect x="154" y="436" width="3" height="4" fill="#00ff00" shape-rendering="crispEdges"/>
<rect x="171" y="435" width="1" height="6" fill="#000" shape-rendering="crispEdges"/>
<rect x="169" y="435" width="5" height="1" fill="#000" shape-rendering="crispEdges"/>
<rect x="169" y="440" width="5" height="1" fill="#000" shape-rendering="crispEdges"/>
<rect x="170" y="436" width="3" height="4" fill="#ff0000" shape-rendering="crispEdges"/>
<rect x="187" y="439" width="1" height="13" fill="#000" shape-rendering="crispEdges"/>
<rect x="185" y="439" width="5" height="1" fill="#000" shape-rendering="crispEdges"/>
<rect x="185" y="451" width="5" height="1" fill="#000" shape-rendering="crispEdges"/>
<rect x="186" y="440" width="3" height="2" fill="#ff0000" shape-rendering="crispEdges"/>
<rect x="203" y="442" width="1" height="10" fill="#000" shape-rendering="crispEdges"/>
<rect x="201" y="442" width="5" height="1" fill="#000" shape-rendering="crispEdges"/>
<rect x="201" y="451" width="5" height="1" fill="#000" shape-rendering="crispEdges"/>
<rect x="202" y="442" width="3" height="3" fill="#ff0000" shape-rendering="crispEdges"/>
<rect x="219" y="439" width="1" height="10" fill="#000" shape-rendering="crispEdges"/>
<rect x="217" y="439" width="5" height="1" fill="#000" shape-rendering="crispEdges"/>
<rect x="217" y="448" width="5" height="1" fill="#000" shape-rendering="crispEdges"/>
<rect x="218" y="440" width="3" height="4" fill="#ff0000" shape-rendering="crispEdges"/>
<rect x="235" y="439" width="1" height="15" fill="#000" shape-rendering="crispEdges"/>
<rect x="233" y="439" width="5" height="1" fill="#000" shape-rendering="crispEdges"/>
<rect x="233" y="453" width="5" height="1" fill="#000" shape-rendering="crispEdges"/>
<rect x="234" y="443" width="3" height="5" fill="#00ff00" shape-rendering="crispEdges"/>
<rect x="251" y="439" width="1" height="9" fill="#000" shape-rendering="crispEdges"/>
<rect x="249" y="439" width="5" height="1" fill="#000" shape-rendering="crispEdges"/>
<rect x="249" y="447" width="5" height="1" fill="#000" shape-rendering="crispEdges"/>
<rect x="250" y="440" width="3" height="2" fill="#00ff00" shape-rendering="crispEdges"/>
<rect x="267" y="431" width="1" height="15" fill="#000" shape-rendering="crispEdges"/>
<rect x="265" y="431" width="5" height="1" fill="#000" shape-rendering="crispEdges"/>
<rect x="265" y="445" width="5" height="1" fill="#000" shape-rendering="crispEdges"/>
<rect x="266" y="432" width="3" height="8" fill="#00ff00" shape-rendering="crispEdges"/>
<rect x="282" y="430" width="1" height="17" fill="#000" shape-rendering="crispEdges"/>
<rect x="280" y="430" width="5" height="1" fill="#000" shape-rendering="crispEdges"/>
<rect x="280" y="446" width="5" height="1" fill="#000" shape-rendering="crispEdges"/>
<rect x="281" y="430" width="3" height="6" fill="#ff0000" shape-rendering="crispEdges"/>
<rect x="298" y="423" width="1" height="19" fill="#000" shape-rendering="crispEdges"/>
<rect x="296" y="423" width="5" height="1" fill="#000" shape-rendering="crispEdges"/>
<rect x="296" y="441" width="5" height="1" fill="#000" shape-rendering="crispEdges"/>
<rect x="297" y="431" width="3" height="5" fill="#00ff00" shape-rendering="crispEdges"/>
<rect x="314" y="428" width="1" height="14" fill="#000" shape-rendering="crispEdges"/>
<rect x="312" y="428" width="5" height="1" fill="#000" shape-rendering="crispEdges"/>
<rect x="312" y="441" width="5" height="1" fill="#000" shape-rendering="crispEdges"/>
<rect x="313" y="429" width="3" height="4" fill="#ff0000" shape-rendering="crispEdges"/>
<rect x="330" y="428" width="1" height="11" fill="#000" shape-rendering="crispEdges"/>
<rect x="328" y="428" width="5" height="1" fill="#000" shape-rendering="crispEdges"/>
<rect x="328" y="438" width="5" height="1" fill="#000" shape-rendering="crispEdges"/>
<rect x="329" y="430" width="3" height="2" fill="#00ff00" shape-rendering="crispEdges"/>
<rect x="346" y="431" width="1" height="9" fill="#000" shape-rendering="crispEdges"/>
<rect x="344" y="431" width="5" height="1" fill="#000" shape-rendering="crispEdges"/>
<rect x="344" y="439" width="5" height="1" fill="#000" shape-rendering="crispEdges"/>
<rect x="345" y="432" width="3" height="2" fill="#ff0000" shape-rendering="crispEdges"/>
<rect x="362" y="429" width="1" height="8" fill="#000" shape-rendering="crispEdges"/>
<rect x="360" y="429" width="5" height="1" fill="#000" shape-rendering="crispEdges"/>
<rect x="360" y="436" width="5" height="1" fill="#000" shape-rendering="crispEdges"/>
<rect x="361" y="430" width="3" height="4" fill="#00ff00" shape-rendering="crispEdges"/>
<rect x="378" y="425" width="1" height="10" fill="#000" shape-rendering="crispEdges"/>
<rect x="376" y="425" width="5" height="1" fill="#000" shape-rendering="crispEdges"/>
<rect x="376" y="434" width="5" height="1" fill="#000" shape-rendering="crispEdges"/>
<rect x="377" y="430" width="3" height="3" fill="#00ff00" shape-rendering="crispEdges"/>
<rect x="394" y="433" width="1" height="18" fill="#000" shape-rendering="crispEdges"/>
<rect x="392" y="433" width="5" height="1" fill="#000" shape-rendering="crispEdges"/>
<rect x="392" y="450" width="5" height="1" fill="#000" shape-rendering="crispEdges"/>
<rect x="393" y="433" width="3" height="2" fill="#ff0000" shape-rendering="crispEdges"/>
<rect x="410" y="416" width="1" height="20" fill="#000" shape-rendering="crispEdges"/>
<rect x="408" y="416" width="5" height="1" fill="#000" shape-rendering="crispEdges"/>
<rect x="408" y="435" width="5" height="1" fill="#000" shape-rendering="crispEdges"/>
<rect x="409" y="417" width="3" height="18" fill="#00ff00" shape-rendering="crispEdges"/>
<rect x="426" y="413" width="1" height="9" fill="#000" shape-rendering="crispEdges"/>
<rect x="424" y="413" width="5" height="1" fill="#000" shape-rendering="crispEdges"/>
<rect x="424" y="421" width="5" height="1" fill="#000" shape-rendering="crispEdges"/>
<rect x="425" y="413" width="3" height="2" fill="#00ff00" shape-rendering="crispEdges"/>
<rect x="442" y="408" width="1" height="13" fill="#000" shape-rendering="crispEdges"/>
<rect x="440" y="408" width="5" height="1" fill="#000" shape-rendering="crispEdges"/>
<rect x="440" y="420" width="5" height="1" fill="#000" shape-rendering="crispEdges"/>
<rect x="441" y="409" width="3" height="10" fill="#00ff00" shape-rendering="crispEdges"/>
<rect x="457" y="403" width="1" height="13" fill="#000" shape-rendering="crispEdges"/>
<rect x="455" y="403" width="5" height="1" fill="#000" shape-rendering="crispEdges"/>
<rect x="455" y="415" width="5" height="1" fill="#000" shape-rendering="crispEdges"/>
<rect x="456" y="404" width="3" height="3" fill="#00ff00" shape-rendering="crispEdges"/>
<rect x="473" y="400" width="1" height="12" fill="#000" shape-rendering="crispEdges"/>
<rect x="471" y="400" width="5" height="1" fill="#000" shape-rendering="crispEdges"/>
<rect x="471" y="411" width="5" height="1" fill="#000" shape-rendering="crispEdges"/>
<rect x="472" y="405" width="3" height="3" fill="#ff0000" shape-rendering="crispEdges"/>
<rect x="489" y="398" width="1" height="10" fill="#000" shape-rendering="crispEdges"/>
<rect x="487" y="398" width="5" height="1" fill="#000" shape-rendering="crispEdges"/>
<rect x="487" y="407" width="5" height="1" fill="#000" shape-rendering="crispEdges"/>
<rect x="488" y="399" width="3" height="8" fill="#00ff00" shape-rendering="crispEdges"/>
<rect x="505" y="386" width="1" height="17" fill="#000" shape-rendering="crispEdges"/>
<rect x="503" y="386" width="5" height="1" fill="#000" shape-rendering="crispEdges"/>
<rect x="503" y="402" width="5" height="1" fill="#000" shape-rendering="crispEdges"/>
<rect x="504" y="386" width="3" height="13" fill="#00ff00" shape-rendering="crispEdges"/>
<rect x="521" y="383" width="1" height="24" fill="#000" shape-rendering="crispEdges"/>
<rect x="519" y="383" width="5" height="1" fill="#000" shape-rendering="crispEdges"/>
<rect x="519" y="406" width="5" height="1" fill="#000" shape-rendering="crispEdges"/>
<rect x="520" y="386" width="3" height="3" fill="#ff0000" shape-rendering="crispEdges"/>
<rect x="537" y="386" width="1" height="12" fill="#000" shape-rendering="crispEdges"/>
<rect x="535" y="386" width="5" height="1" fill="#000" shape-rendering="crispEdges"/>
<rect x="535" y="397" width="5" height="1" fill="#000" shape-rendering="crispEdges"/>
<rect x="536" y="387" width="3" height="5" fill="#ff0000" shape-rendering="crispEdges"/>
<rect x="553" y="390" width="1" height="10" fill="#000" shape-rendering="crispEdges"/>
<rect x="551" y="390" width="5" height="1" fill="#000" shape-rendering="crispEdges"/>
<rect x="551" y="399" width="5" height="1" fill="#000" shape-rendering="crispEdges"/>
<rect x="552" y="393" width="3" height="4" fill="#00ff00" shape-rendering="crispEdges"/>
<rect x="569" y="394" width="1" height="15" fill="#000" shape-rendering="crispEdges"/>
<rect x="567" y="394" width="5" height="1" fill="#000" shape-rendering="crispEdges"/>
<rect x="567" y="408" width="5" height="1" fill="#000" shape-rendering="crispEdges"/>
<rect x="568" y="396" width="3" height="3" fill="#00ff00" shape-rendering="crispEdges"/>
<rect x="585" y="386" width="1" height="10" fill="#000" shape-rendering="crispEdges"/>
<rect x="583" y="386" width="5" height="1" fill="#000" shape-rendering="crispEdges"/>
<rect x="583" y="395" width="5" height="1" fill="#000" shape-rendering="crispEdges"/>
<rect x="584" y="387" width="3" height="6" fill="#ff0000" shape-rendering="crispEdges"/>
<rect x="601" y="378" width="1" height="17" fill="#000" shape-rendering="crispEdges"/>
<rect x="599" y="378" width="5" height="1" fill="#000" shape-rendering="crispEdges"/>
<rect x="599" y="394" width="5" height="1" fill="#000" shape-rendering="crispEdges"/>
<rect x="600" y="380" width="3" height="14" fill="#00ff00" shape-rendering="crispEdges"/>
<rect x="617" y="370" width="1" height="13" fill="#000" shape-rendering="crispEdges"/>
<rect x="615" y="370" width="5" height="1" fill="#000" shape-rendering="crispEdges"/>
<rect x="615" y="382" width="5" height="1" fill="#000" shape-rendering="crispEdges"/>
<rect x="616" y="373" width="3" height="7" fill="#00ff00" shape-rendering="crispEdges"/>
<rect x="632" y="366" width="1" height="23" fill="#000" shape-rendering="crispEdges"/>
<rect x="630" y="366" width="5" height="1" fill="#000" shape-rendering="crispEdges"/>
<rect x="630" y="388" width="5" height="1" fill="#000" shape-rendering="crispEdges"/>
<rect x="631" y="375" width="3" height="8" fill="#ff0000" shape-rendering="crispEdges"/>
<rect x="648" y="372" width="1" height="19" fill="#000" shape-rendering="crispEdges"/>
<rect x="646" y="372" width="5" height="1" fill="#000" shape-rendering="crispEdges"/>
<rect x="646" y="390" width="5" height="1" fill="#000" shape-rendering="crispEdges"/>
<rect x="647" y="377" width="3" height="9" fill="#00ff00" shape-rendering="crispEdges"/>
<rect x="664" y="361" width="1" height="23" fill="#000" shape-rendering="crispEdges"/>
<rect x="662" y="361" width="5" height="1" fill="#000" shape-rendering="crispEdges"/>
<rect x="662" y="383" width="5" height="1" fill="#000" shape-rendering="crispEdges"/>
<rect x="663" y="367" width="3" height="16" fill="#00ff00" shape-rendering="crispEdges"/>
<rect x="680" y="348" width="1" height="23" fill="#000" shape-rendering="crispEdges"/>
<rect x="678" y="348" width="5" height="1" fill="#000" shape-rendering="crispEdges"/>
<rect x="678" y="370" width="5" height="1" fill="#000" shape-rendering="crispEdges"/>
<rect x="679" y="351" width="3" height="19" fill="#00ff00" shape-rendering="crispEdges"/>
<rect x="696" y="288" width="1" height="41" fill="#000" shape-rendering="crispEdges"/>
<rect x="694" y="288" width="5" height="1" fill="#000" shape-rendering="crispEdges"/>
<rect x="694" y="328" width="5" height="1" fill="#000" shape-rendering="crispEdges"/>
<rect x="695" y="292" width="3" height="36" fill="#00ff00" shape-rendering="crispEdges"/>
<rect x="712" y="283" width="1" height="29" fill="#000" shape-rendering="crispEdges"/>
<rect x="710" y="283" width="5" height="1" fill="#000" shape-rendering="crispEdges"/>
<rect x="710" y="311" width="5" height="1" fill="#000" shape-rendering="crispEdges"/>
<rect x="711" y="290" width="3" height="15" fill="#00ff00" shape-rendering="crispEdges"/>
<rect x="728" y="283" width="1" height="19" fill="#000" shape-rendering="crispEdges"/>
<rect x="726" y="283" width="5" height="1" fill="#000" shape-rendering="crispEdges"/>
<rect x="726" y="301" width="5" height="1" fill="#000" shape-rendering="crispEdges"/>
<rect x="727" y="291" width="3" height="3" fill="#ff0000" shape-rendering="crispEdges"/>
<rect x="744" y="265" width="1" height="38" fill="#000" shape-rendering="crispEdges"/>
<rect x="742" y="265" width="5" height="1" fill="#000" shape-rendering="crispEdges"/>
<rect x="742" y="302" width="5" height="1" fill="#000" shape-rendering="crispEdges"/>
<rect x="743" y="273" width="3" height="29" fill="#00ff00" shape-rendering="crispEdges"/>
<rect x="760" y="230" width="1" height="28" fill="#000" shape-rendering="crispEdges"/>
<rect x="758" y="230" width="5" height="1" fill="#000" shape-rendering="crispEdges"/>
<rect x="758" y="257" width="5" height="1" fill="#000" shape-rendering="crispEdges"/>
<rect x="759" y="245" width="3" height="2" fill="#ff0000" shape-rendering="crispEdges"/>
<rect x="776" y="208" width="1" height="35" fill="#000" shape-rendering="crispEdges"/>
<rect x="774" y="208" width="5" height="1" fill="#000" shape-rendering="crispEdges"/>
<rect x="774" y="242" width="5" height="1" fill="#000" shape-rendering="crispEdges"/>
<rect x="775" y="209" width="3" height="33" fill="#00ff00" shape-rendering="crispEdges"/>
<rect x="792" y="205" width="1" height="18" fill="#000" shape-rendering="crispEdges"/>
<rect x="790" y="205" width="5" height="1" fill="#000" shape-rendering="crispEdges"/>
<rect x="790" y="222" width="5" height="1" fill="#000" shape-rendering="crispEdges"/>
<rect x="791" y="205" width="3" height="7" fill="#00ff00" shape-rendering="crispEdges"/>
<rect x="807" y="200" width="1" height="16" fill="#000" shape-rendering="crispEdges"/>
<rect x="805" y="200" width="5" height="1" fill="#000" shape-rendering="crispEdges"/>
<rect x="805" y="215" width="5" height="1" fill="#000" shape-rendering="crispEdges"/>
<rect x="806" y="200" width="3" height="5" fill="#00ff00" shape-rendering="crispEdges"/>
<rect x="823" y="174" width="1" height="29" fill="#000" shape-rendering="crispEdges"/>
<rect x="821" y="174" width="5" height="1" fill="#000" shape-rendering="crispEdges"/>
<rect x="821" y="202" width="5" height="1" fill="#000" shape-rendering="crispEdges"/>
<rect x="822" y="179" width="3" height="20" fill="#00ff00" shape-rendering="crispEdges"/>
<rect x="839" y="165" width="1" height="36" fill="#000" shape-rendering="crispEdges"/>
<rect x="837" y="165" width="5" height="1" fill="#000" shape-rendering="crispEdges"/>
<rect x="837" y="200" width="5" height="1" fill="#000" shape-rendering="crispEdges"/>
<rect x="838" y="175" width="3" height="22" fill="#ff0000" shape-rendering="crispEdges"/>
<rect x="855" y="196" width="1" height="18" fill="#000" shape-rendering="crispEdges"/>
<rect x="853" y="196" width="5" height="1" fill="#000" shape-rendering="crispEdges"/>
<rect x="853" y="213" width="5" height="1" fill="#000" shape-rendering="crispEdges"/>
<rect x="854" y="199" width="3" height="3" fill="#ff0000" shape-rendering="crispEdges"/>
<rect x="871" y="203" width="1" height="18" fill="#000" shape-rendering="crispEdges"/>
<rect x="869" y="203" width="5" height="1" fill="#000" shape-rendering="crispEdges"/>
<rect x="869" y="220" width="5" height="1" fill="#000" shape-rendering="crispEdges"/>
<rect x="870" y="203" width="3" height="15" fill="#ff0000" shape-rendering="crispEdges"/>
<rect x="887" y="210" width="1" height="16" fill="#000" shape-rendering="crispEdges"/>
<rect x="885" y="210" width="5" height="1" fill="#000" shape-rendering="crispEdges"/>
<rect x="885" y="225" width="5" height="1" fill="#000" shape-rendering="crispEdges"/>
<rect x="886" y="216" width="3" height="3" fill="#00ff00" shape-rendering="crispEdges"/>
<rect x="903" y="208" width="1" height="14" fill="#000" shape-rendering="crispEdges"/>
<rect x="901" y="208" width="5" height="1" fill="#000" shape-rendering="crispEdges"/>
<rect x="901" y="221" width="5" height="1" fill="#000" shape-rendering="crispEdges"/>
<rect x="902" y="213" width="3" height="6" fill="#00ff00" shape-rendering="crispEdges"/>
<rect x="919" y="205" width="1" height="13" fill="#000" shape-rendering="crispEdges"/>
<rect x="917" y="205" width="5" height="1" fill="#000" shape-rendering="crispEdges"/>
<rect x="917" y="217" width="5" height="1" fill="#000" shape-rendering="crispEdges"/>
<rect x="918" y="209" width="3" height="5" fill="#00ff00" shape-rendering="crispEdges"/>
<rect x="935" y="213" width="1" height="15" fill="#000" shape-rendering="crispEdges"/>
<rect x="933" y="213" width="5" height="1" fill="#000" shape-rendering="crispEdges"/>
<rect x="933" y="227" width="5" height="1" fill="#000" shape-rendering="crispEdges"/>
<rect x="934" y="216" width="3" height="3" fill="#ff0000" shape-rendering="crispEdges"/>
<rect x="951" y="216" width="1" height="21" fill="#000" shape-rendering="crispEdges"/>
<rect x="949" y="216" width="5" height="1" fill="#000" shape-rendering="crispEdges"/>
<rect x="949" y="236" width="5" height="1" fill="#000" shape-rendering="crispEdges"/>
<rect x="950" y="221" width="3" height="13" fill="#ff0000" shape-rendering="crispEdges"/>
<rect x="967" y="231" width="1" height="29" fill="#000" shape-rendering="crispEdges"/>
<rect x="965" y="231" width="5" height="1" fill="#000" shape-rendering="crispEdges"/>
<rect x="965" y="259" width="5" height="1" fill="#000" shape-rendering="crispEdges"/>
<rect x="966" y="237" width="3" height="10" fill="#ff0000" shape-rendering="crispEdges"/>
<rect x="982" y="216" width="1" height="35" fill="#000" shape-rendering="crispEdges"/>
<rect x="980" y="216" width="5" height="1" fill="#000" shape-rendering="crispEdges"/>
<rect x="980" y="250" width="5" height="1" fill="#000" shape-rendering="crispEdges"/>
<rect x="981" y="228" width="3" height="22" fill="#00ff00" shape-rendering="crispEdges"/>
<rect x="998" y="210" width="1" height="21" fill="#000" shape-rendering="crispEdges"/>
<rect x="996" y="210" width="5" height="1" fill="#000" shape-rendering="crispEdges"/>
<rect x="996" y="230" width="5" height="1" fill="#000" shape-rendering="crispEdges"/>
<rect x="997" y="218" width="3" height="12" fill="#00ff00" shape-rendering="crispEdges"/>
<rect x="1014" y="206" width="1" height="13" fill="#000" shape-rendering="crispEdges"/>
<rect x="1012" y="206" width="5" height="1" fill="#000" shape-rendering="crispEdges"/>
<rect x="1012" y="218" width="5" height="1" fill="#000" shape-rendering="crispEdges"/>
<rect x="1013" y="209" width="3" height="9" fill="#00ff00" shape-rendering="crispEdges"/>
<rect x="1030" y="192" width="1" height="22" fill="#000" shape-rendering="crispEdges"/>
<rect x="1028" y="192" width="5" height="1" fill="#000" shape-rendering="crispEdges"/>
<rect x="1028" y="213" width="5" height="1" fill="#000" shape-rendering="crispEdges"/>
<rect x="1029" y="192" width="3" height="21" fill="#00ff00" shape-rendering="crispEdges"/>
<rect x="1046" y="188" width="1" height="18" fill="#000" shape-rendering="crispEdges"/>
<rect x="1044" y="188" width="5" height="1" fill="#000" shape-rendering="crispEdges"/>
<rect x="1044" y="205" width="5" height="1" fill="#000" shape-rendering="crispEdges"/>
<rect x="1045" y="188" width="3" height="3" fill="#ff0000" shape-rendering="crispEdges"/>
<rect x="1062" y="189" width="1" height="14" fill="#000" shape-rendering="crispEdges"/>
<rect x="1060" y="189" width="5" height="1" fill="#000" shape-rendering="crispEdges"/>
<rect x="1060" y="202" width="5" height="1" fill="#000" shape-rendering="crispEdges"/>
<rect x="1061" y="189" width="3" height="2" fill="#ff0000" shape-rendering="crispEdges"/>
<rect x="1078" y="183" width="1" height="11" fill="#000" shape-rendering="crispEdges"/>
<rect x="1076" y="183" width="5" height="1" fill="#000" shape-rendering="crispEdges"/>
<rect x="1076" y="193" width="5" height="1" fill="#000" shape-rendering="crispEdges"/>
<rect x="1077" y="188" width="3" height="2" fill="#00ff00" shape-rendering="crispEdges"/>
<rect x="1094" y="184" width="1" height="14" fill="#000" shape-rendering="crispEdges"/>
<rect x="1092" y="184" width="5" height="1" fill="#000" shape-rendering="crispEdges"/>
<rect x="1092" y="197" width="5" height="1" fill="#000" shape-rendering="crispEdges"/>
<rect x="1093" y="187" width="3" height="3" fill="#ff0000" shape-rendering="crispEdges"/>
<rect x="1110" y="167" width="1" height="23" fill="#000" shape-rendering="crispEdges"/>
<rect x="1108" y="167" width="5" height="1" fill="#000" shape-rendering="crispEdges"/>
<rect x="1108" y="189" width="5" height="1" fill="#000" shape-rendering="crispEdges"/>
<rect x="1109" y="178" width="3" height="11" fill="#00ff00" shape-rendering="crispEdges"/>
<rect x="1126" y="154" width="1" height="25" fill="#000" shape-rendering="crispEdges"/>
<rect x="1124" y="154" width="5" height="1" fill="#000" shape-rendering="crispEdges"/>
<rect x="1124" y="178" width="5" height="1" fill="#000" shape-rendering="crispEdges"/>
<rect x="1125" y="162" width="3" height="16" fill="#00ff00" shape-rendering="crispEdges"/>
<rect x="1142" y="140" width="1" height="20" fill="#000" shape-rendering="crispEdges"/>
<rect x="1140" y="140" width="5" height="1" fill="#000" shape-rendering="crispEdges"/>
<rect x="1140" y="159" width="5" height="1" fill="#000" shape-rendering="crispEdges"/>
<rect x="1141" y="143" width="3" height="15" fill="#00ff00" shape-rendering="crispEdges"/>
<rect x="100" y="58" width="1" height="543" fill="#000" shape-rendering="crispEdges"/>
<rect x="98" y="600" width="1059" height="1" fill="#000" shape-rendering="crispEdges"/>
<path d="M100.5 52.5 L104 59 L97 59 Z" fill="#000"/>
<path d="M1162.5 600.5 L1155.5 597 L1155.5 604 Z" fill="#000"/>
<rect x="98" y="65" width="5" height="1" fill="#000" shape-rendering="crispEdges"/>
<rect x="98" y="85" width="2" height="1" fill="#f00" shape-rendering="crispEdges"/>
<text x="98.30" y="70.00" font-size="11.3" text-anchor="end" textLength="38.00" lengthAdjust="spacingAndGlyphs" fill="#000" stroke="#000" stroke-width="0.09">170.00</text>
<rect x="98" y="106" width="5" height="1" fill="#000" shape-rendering="crispEdges"/>
<rect x="98" y="126" width="2" height="1" fill="#f00" shape-rendering="crispEdges"/>
<text x="98.30" y="111.00" font-size="11.3" text-anchor="end" textLength="38.00" lengthAdjust="spacingAndGlyphs" fill="#000" stroke="#000" stroke-width="0.09">165.00</text>
<rect x="98" y="147" width="5" height="1" fill="#000" shape-rendering="crispEdges"/>
<rect x="98" y="167" width="2" height="1" fill="#f00" shape-rendering="crispEdges"/>
<text x="98.30" y="152.00" font-size="11.3" text-anchor="end" textLength="38.00" lengthAdjust="spacingAndGlyphs" fill="#000" stroke="#000" stroke-width="0.09">160.00</text>
<rect x="98" y="188" width="5" height="1" fill="#000" shape-rendering="crispEdges"/>
<rect x="98" y="209" width="2" height="1" fill="#f00" shape-rendering="crispEdges"/>
<text x="98.30" y="193.00" font-size="11.3" text-anchor="end" textLength="38.00" lengthAdjust="spacingAndGlyphs" fill="#000" stroke="#000" stroke-width="0.09">155.00</text>
<rect x="98" y="229" width="5" height="1" fill="#000" shape-rendering="crispEdges"/>
<rect x="98" y="250" width="2" height="1" fill="#f00" shape-rendering="crispEdges"/>
<text x="98.30" y="234.00" font-size="11.3" text-anchor="end" textLength="38.00" lengthAdjust="spacingAndGlyphs" fill="#000" stroke="#000" stroke-width="0.09">150.00</text>
<rect x="98" y="270" width="5" height="1" fill="#000" shape-rendering="crispEdges"/>
<rect x="98" y="291" width="2" height="1" fill="#f00" shape-rendering="crispEdges"/>
<text x="98.30" y="275.00" font-size="11.3" text-anchor="end" textLength="38.00" lengthAdjust="spacingAndGlyphs" fill="#000" stroke="#000" stroke-width="0.09">145.00</text>
<rect x="98" y="311" width="5" height="1" fill="#000" shape-rendering="crispEdges"/>
<rect x="98" y="332" width="2" height="1" fill="#f00" shape-rendering="crispEdges"/>
<text x="98.30" y="316.00" font-size="11.3" text-anchor="end" textLength="38.00" lengthAdjust="spacingAndGlyphs" fill="#000" stroke="#000" stroke-width="0.09">140.00</text>
<rect x="98" y="353" width="5" height="1" fill="#000" shape-rendering="crispEdges"/>
<rect x="98" y="373" width="2" height="1" fill="#f00" shape-rendering="crispEdges"/>
<text x="98.30" y="358.00" font-size="11.3" text-anchor="end" textLength="38.00" lengthAdjust="spacingAndGlyphs" fill="#000" stroke="#000" stroke-width="0.09">135.00</text>
<rect x="98" y="394" width="5" height="1" fill="#000" shape-rendering="crispEdges"/>
<rect x="98" y="414" width="2" height="1" fill="#f00" shape-rendering="crispEdges"/>
<text x="98.30" y="399.00" font-size="11.3" text-anchor="end" textLength="38.00" lengthAdjust="spacingAndGlyphs" fill="#000" stroke="#000" stroke-width="0.09">130.00</text>
<rect x="98" y="435" width="5" height="1" fill="#000" shape-rendering="crispEdges"/>
<rect x="98" y="455" width="2" height="1" fill="#f00" shape-rendering="crispEdges"/>
<text x="98.30" y="440.00" font-size="11.3" text-anchor="end" textLength="38.00" lengthAdjust="spacingAndGlyphs" fill="#000" stroke="#000" stroke-width="0.09">125.00</text>
<rect x="98" y="476" width="5" height="1" fill="#000" shape-rendering="crispEdges"/>
<rect x="98" y="497" width="2" height="1" fill="#f00" shape-rendering="crispEdges"/>
<text x="98.30" y="481.00" font-size="11.3" text-anchor="end" textLength="38.00" lengthAdjust="spacingAndGlyphs" fill="#000" stroke="#000" stroke-width="0.09">120.00</text>
<rect x="98" y="517" width="5" height="1" fill="#000" shape-rendering="crispEdges"/>
<rect x="98" y="538" width="2" height="1" fill="#f00" shape-rendering="crispEdges"/>
<text x="98.30" y="522.00" font-size="11.3" text-anchor="end" textLength="38.00" lengthAdjust="spacingAndGlyphs" fill="#000" stroke="#000" stroke-width="0.09">115.00</text>
<rect x="98" y="558" width="5" height="1" fill="#000" shape-rendering="crispEdges"/>
<rect x="98" y="579" width="2" height="1" fill="#f00" shape-rendering="crispEdges"/>
<text x="98.30" y="563.00" font-size="11.3" text-anchor="end" textLength="38.00" lengthAdjust="spacingAndGlyphs" fill="#000" stroke="#000" stroke-width="0.09">110.00</text>
<rect x="98" y="600" width="5" height="1" fill="#000" shape-rendering="crispEdges"/>
<text x="98.30" y="605.00" font-size="11.3" text-anchor="end" textLength="38.00" lengthAdjust="spacingAndGlyphs" fill="#000" stroke="#000" stroke-width="0.09">105.00</text>
<rect x="107" y="598" width="1" height="5" fill="#000" shape-rendering="crispEdges"/>
<text x="108.80" y="615.00" font-size="11.3" text-anchor="middle" textLength="36.20" lengthAdjust="spacingAndGlyphs" fill="#000" stroke="#000" stroke-width="0.09">24 Fév</text>
<rect x="123" y="601" width="1" height="2" fill="#e6e6e6" shape-rendering="crispEdges"/>
<rect x="139" y="601" width="1" height="2" fill="#e6e6e6" shape-rendering="crispEdges"/>
<rect x="155" y="601" width="1" height="2" fill="#e6e6e6" shape-rendering="crispEdges"/>
<rect x="171" y="601" width="1" height="2" fill="#e6e6e6" shape-rendering="crispEdges"/>
<rect x="187" y="598" width="1" height="5" fill="#000" shape-rendering="crispEdges"/>
<text x="188.80" y="613.60" font-size="11.3" text-anchor="middle" textLength="37.50" lengthAdjust="spacingAndGlyphs" fill="#000" stroke="#000" stroke-width="0.09">3 Mars</text>
<rect x="203" y="601" width="1" height="2" fill="#e6e6e6" shape-rendering="crispEdges"/>
<rect x="219" y="601" width="1" height="2" fill="#e6e6e6" shape-rendering="crispEdges"/>
<rect x="235" y="601" width="1" height="2" fill="#e6e6e6" shape-rendering="crispEdges"/>
<rect x="251" y="601" width="1" height="2" fill="#e6e6e6" shape-rendering="crispEdges"/>
<rect x="267" y="598" width="1" height="5" fill="#000" shape-rendering="crispEdges"/>
<text x="268.80" y="613.60" font-size="11.3" text-anchor="middle" textLength="44.50" lengthAdjust="spacingAndGlyphs" fill="#000" stroke="#000" stroke-width="0.09">10 Mars</text>
<rect x="282" y="601" width="1" height="2" fill="#e6e6e6" shape-rendering="crispEdges"/>
<rect x="298" y="601" width="1" height="2" fill="#e6e6e6" shape-rendering="crispEdges"/>
<rect x="314" y="601" width="1" height="2" fill="#e6e6e6" shape-rendering="crispEdges"/>
<rect x="330" y="601" width="1" height="2" fill="#e6e6e6" shape-rendering="crispEdges"/>
<rect x="346" y="598" width="1" height="5" fill="#000" shape-rendering="crispEdges"/>
<text x="347.80" y="613.60" font-size="11.3" text-anchor="middle" textLength="44.50" lengthAdjust="spacingAndGlyphs" fill="#000" stroke="#000" stroke-width="0.09">17 Mars</text>
<rect x="362" y="601" width="1" height="2" fill="#e6e6e6" shape-rendering="crispEdges"/>
<rect x="378" y="601" width="1" height="2" fill="#e6e6e6" shape-rendering="crispEdges"/>
<rect x="394" y="601" width="1" height="2" fill="#e6e6e6" shape-rendering="crispEdges"/>
<rect x="410" y="601" width="1" height="2" fill="#e6e6e6" shape-rendering="crispEdges"/>
<rect x="426" y="598" width="1" height="5" fill="#000" shape-rendering="crispEdges"/>
<text x="427.80" y="613.60" font-size="11.3" text-anchor="middle" textLength="44.50" lengthAdjust="spacingAndGlyphs" fill="#000" stroke="#000" stroke-width="0.09">24 Mars</text>
<rect x="442" y="601" width="1" height="2" fill="#e6e6e6" shape-rendering="crispEdges"/>
<rect x="457" y="601" width="1" height="2" fill="#e6e6e6" shape-rendering="crispEdges"/>
<rect x="473" y="601" width="1" height="2" fill="#e6e6e6" shape-rendering="crispEdges"/>
<rect x="489" y="601" width="1" height="2" fill="#e6e6e6" shape-rendering="crispEdges"/>
<rect x="505" y="598" width="1" height="5" fill="#000" shape-rendering="crispEdges"/>
<text x="506.80" y="613.60" font-size="11.3" text-anchor="middle" textLength="44.50" lengthAdjust="spacingAndGlyphs" fill="#000" stroke="#000" stroke-width="0.09">31 Mars</text>
<rect x="521" y="601" width="1" height="2" fill="#e6e6e6" shape-rendering="crispEdges"/>
<rect x="537" y="601" width="1" height="2" fill="#e6e6e6" shape-rendering="crispEdges"/>
<rect x="553" y="601" width="1" height="2" fill="#e6e6e6" shape-rendering="crispEdges"/>
<rect x="569" y="601" width="1" height="2" fill="#e6e6e6" shape-rendering="crispEdges"/>
<rect x="585" y="598" width="1" height="5" fill="#000" shape-rendering="crispEdges"/>
<text x="586.80" y="613.60" font-size="11.3" text-anchor="middle" textLength="36.50" lengthAdjust="spacingAndGlyphs" fill="#000" stroke="#000" stroke-width="0.09">11 Avr</text>
<rect x="601" y="601" width="1" height="2" fill="#e6e6e6" shape-rendering="crispEdges"/>
<rect x="617" y="601" width="1" height="2" fill="#e6e6e6" shape-rendering="crispEdges"/>
<rect x="632" y="601" width="1" height="2" fill="#e6e6e6" shape-rendering="crispEdges"/>
<rect x="648" y="601" width="1" height="2" fill="#e6e6e6" shape-rendering="crispEdges"/>
<rect x="664" y="598" width="1" height="5" fill="#000" shape-rendering="crispEdges"/>
<text x="665.80" y="613.60" font-size="11.3" text-anchor="middle" textLength="36.50" lengthAdjust="spacingAndGlyphs" fill="#000" stroke="#000" stroke-width="0.09">20 Avr</text>
<rect x="680" y="601" width="1" height="2" fill="#e6e6e6" shape-rendering="crispEdges"/>
<rect x="696" y="601" width="1" height="2" fill="#e6e6e6" shape-rendering="crispEdges"/>
<rect x="712" y="601" width="1" height="2" fill="#e6e6e6" shape-rendering="crispEdges"/>
<rect x="728" y="601" width="1" height="2" fill="#e6e6e6" shape-rendering="crispEdges"/>
<rect x="744" y="598" width="1" height="5" fill="#000" shape-rendering="crispEdges"/>
<text x="745.80" y="613.60" font-size="11.3" text-anchor="middle" textLength="36.50" lengthAdjust="spacingAndGlyphs" fill="#000" stroke="#000" stroke-width="0.09">27 Avr</text>
<rect x="760" y="601" width="1" height="2" fill="#e6e6e6" shape-rendering="crispEdges"/>
<rect x="776" y="601" width="1" height="2" fill="#e6e6e6" shape-rendering="crispEdges"/>
<rect x="792" y="601" width="1" height="2" fill="#e6e6e6" shape-rendering="crispEdges"/>
<rect x="807" y="601" width="1" height="2" fill="#e6e6e6" shape-rendering="crispEdges"/>
<rect x="823" y="598" width="1" height="5" fill="#000" shape-rendering="crispEdges"/>
<text x="824.80" y="613.60" font-size="11.3" text-anchor="middle" textLength="29.50" lengthAdjust="spacingAndGlyphs" fill="#000" stroke="#000" stroke-width="0.09">5 Mai</text>
<rect x="839" y="601" width="1" height="2" fill="#e6e6e6" shape-rendering="crispEdges"/>
<rect x="855" y="601" width="1" height="2" fill="#e6e6e6" shape-rendering="crispEdges"/>
<rect x="871" y="601" width="1" height="2" fill="#e6e6e6" shape-rendering="crispEdges"/>
<rect x="887" y="601" width="1" height="2" fill="#e6e6e6" shape-rendering="crispEdges"/>
<rect x="903" y="598" width="1" height="5" fill="#000" shape-rendering="crispEdges"/>
<text x="904.80" y="613.60" font-size="11.3" text-anchor="middle" textLength="36.50" lengthAdjust="spacingAndGlyphs" fill="#000" stroke="#000" stroke-width="0.09">12 Mai</text>
<rect x="919" y="601" width="1" height="2" fill="#e6e6e6" shape-rendering="crispEdges"/>
<rect x="935" y="601" width="1" height="2" fill="#e6e6e6" shape-rendering="crispEdges"/>
<rect x="951" y="601" width="1" height="2" fill="#e6e6e6" shape-rendering="crispEdges"/>
<rect x="967" y="601" width="1" height="2" fill="#e6e6e6" shape-rendering="crispEdges"/>
<rect x="982" y="598" width="1" height="5" fill="#000" shape-rendering="crispEdges"/>
<text x="983.80" y="613.60" font-size="11.3" text-anchor="middle" textLength="36.50" lengthAdjust="spacingAndGlyphs" fill="#000" stroke="#000" stroke-width="0.09">19 Mai</text>
<rect x="998" y="601" width="1" height="2" fill="#e6e6e6" shape-rendering="crispEdges"/>
<rect x="1014" y="601" width="1" height="2" fill="#e6e6e6" shape-rendering="crispEdges"/>
<rect x="1030" y="601" width="1" height="2" fill="#e6e6e6" shape-rendering="crispEdges"/>
<rect x="1046" y="601" width="1" height="2" fill="#e6e6e6" shape-rendering="crispEdges"/>
<rect x="1062" y="598" width="1" height="5" fill="#000" shape-rendering="crispEdges"/>
<text x="1063.80" y="613.60" font-size="11.3" text-anchor="middle" textLength="36.50" lengthAdjust="spacingAndGlyphs" fill="#000" stroke="#000" stroke-width="0.09">26 Mai</text>
<rect x="1078" y="601" width="1" height="2" fill="#e6e6e6" shape-rendering="crispEdges"/>
<rect x="1094" y="601" width="1" height="2" fill="#e6e6e6" shape-rendering="crispEdges"/>
<rect x="1110" y="601" width="1" height="2" fill="#e6e6e6" shape-rendering="crispEdges"/>
<rect x="1126" y="601" width="1" height="2" fill="#e6e6e6" shape-rendering="crispEdges"/>
<rect x="1142" y="598" width="1" height="5" fill="#000" shape-rendering="crispEdges"/>
<text x="1143.80" y="613.60" font-size="11.3" text-anchor="middle" textLength="33.50" lengthAdjust="spacingAndGlyphs" fill="#000" stroke="#000" stroke-width="0.09">2 Juin</text>
<text x="627.40" y="625.00" font-size="11.3" text-anchor="middle" textLength="236.50" lengthAdjust="spacingAndGlyphs" fill="#000" stroke="#000" stroke-width="0.09">Date (du 24 Février 2017 au 2 Juin 2017)</text>
<text transform="translate(55,330.5) rotate(-90)" font-size="11.3" text-anchor="middle" textLength="73.5" lengthAdjust="spacingAndGlyphs">Cours (Euro)</text>
<text x="111.20" y="34.7" font-size="24.3" textLength="45.30" lengthAdjust="spacingAndGlyphs" stroke="#000" stroke-width="0.15">Seb</text>
<text x="156.22" y="34.7" font-size="24.3" textLength="10.56" lengthAdjust="spacingAndGlyphs" stroke="#000" stroke-width="0.15">:</text>
<text x="174.50" y="34.7" font-size="24.3" textLength="120.00" lengthAdjust="spacingAndGlyphs" stroke="#000" stroke-width="0.15">graphique</text>
<text x="301.60" y="34.7" font-size="24.3" textLength="29.90" lengthAdjust="spacingAndGlyphs" stroke="#000" stroke-width="0.15">du</text>
<text x="339.50" y="34.7" font-size="24.3" textLength="66.80" lengthAdjust="spacingAndGlyphs" stroke="#000" stroke-width="0.15">cours</text>
<text x="414.11" y="34.7" font-size="24.3" textLength="10.57" lengthAdjust="spacingAndGlyphs" stroke="#000" stroke-width="0.15">-</text>
<text x="432.70" y="34.7" font-size="24.3" textLength="207.70" lengthAdjust="spacingAndGlyphs" stroke="#000" stroke-width="0.15">AnalyBourse.com</text>
<rect x="551" y="51" width="6" height="6" fill="#d0d0d0" shape-rendering="crispEdges"/>
<rect x="550" y="50" width="6" height="6" fill="#c85f5f" shape-rendering="crispEdges"/>
<text x="560.40" y="55.8" font-size="11.3" textLength="55.00" lengthAdjust="spacingAndGlyphs">Support 1</text>
<rect x="620" y="51" width="6" height="6" fill="#d0d0d0" shape-rendering="crispEdges"/>
<rect x="619" y="50" width="6" height="6" fill="#af5f5f" shape-rendering="crispEdges"/>
<text x="629.50" y="55.8" font-size="11.3" textLength="55.10" lengthAdjust="spacingAndGlyphs">Support 2</text>
<rect x="689" y="51" width="6" height="6" fill="#d0d0d0" shape-rendering="crispEdges"/>
<rect x="688" y="50" width="6" height="6" fill="#966464" shape-rendering="crispEdges"/>
<text x="698.45" y="55.8" font-size="11.3" textLength="55.25" lengthAdjust="spacingAndGlyphs">Support 3</text>
<rect x="758" y="51" width="6" height="6" fill="#d0d0d0" shape-rendering="crispEdges"/>
<rect x="757" y="50" width="6" height="6" fill="#5fc85f" shape-rendering="crispEdges"/>
<text x="767.10" y="57.4" font-size="11.3" textLength="71.30" lengthAdjust="spacingAndGlyphs">Résistance 1</text>
<rect x="843" y="51" width="6" height="6" fill="#d0d0d0" shape-rendering="crispEdges"/>
<rect x="842" y="50" width="6" height="6" fill="#64af64" shape-rendering="crispEdges"/>
<text x="852.40" y="57.4" font-size="11.3" textLength="71.20" lengthAdjust="spacingAndGlyphs">Résistance 2</text>
<rect x="928" y="51" width="6" height="6" fill="#d0d0d0" shape-rendering="crispEdges"/>
<rect x="927" y="50" width="6" height="6" fill="#649664" shape-rendering="crispEdges"/>
<text x="937.20" y="57.4" font-size="11.3" textLength="71.50" lengthAdjust="spacingAndGlyphs">Résistance 3</text>
<rect x="1013" y="51" width="6" height="6" fill="#d0d0d0" shape-rendering="crispEdges"/>
<rect x="1012" y="50" width="6" height="6" fill="#6464ff" shape-rendering="crispEdges"/>
<text x="1021.70" y="55.8" font-size="11.3" textLength="31.70" lengthAdjust="spacingAndGlyphs">MM20</text>
<rect x="1058" y="51" width="6" height="6" fill="#d0d0d0" shape-rendering="crispEdges"/>
<rect x="1057" y="50" width="6" height="6" fill="#aa64ff" shape-rendering="crispEdges"/>
<text x="1067.30" y="55.8" font-size="11.3" textLength="31.70" lengthAdjust="spacingAndGlyphs">MM50</text>
<rect x="1103" y="51" width="6" height="6" fill="#d0d0d0" shape-rendering="crispEdges"/>
<rect x="1102" y="50" width="6" height="6" fill="#ff64ff" shape-rendering="crispEdges"/>
<text x="1112.20" y="55.8" font-size="11.3" textLength="38.20" lengthAdjust="spacingAndGlyphs">MM100</text>
<rect x="101" y="750" width="1050" height="26" fill="#f8f8f8" shape-rendering="crispEdges"/>
<rect x="101" y="800" width="1050" height="26" fill="#f8f8f8" shape-rendering="crispEdges"/>
<rect x="101" y="850" width="1050" height="26" fill="#f8f8f8" shape-rendering="crispEdges"/>
<line x1="107.5" y1="725" x2="107.5" y2="900" stroke="#000" stroke-opacity="0.09" stroke-width="1" stroke-dasharray="4 4" stroke-dashoffset="1" shape-rendering="crispEdges"/>
<line x1="123.5" y1="725" x2="123.5" y2="900" stroke="#000" stroke-opacity="0.024" stroke-width="1" stroke-dasharray="4 4" stroke-dashoffset="1" shape-rendering="crispEdges"/>
<line x1="139.5" y1="725" x2="139.5" y2="900" stroke="#000" stroke-opacity="0.024" stroke-width="1" stroke-dasharray="4 4" stroke-dashoffset="1" shape-rendering="crispEdges"/>
<line x1="155.5" y1="725" x2="155.5" y2="900" stroke="#000" stroke-opacity="0.024" stroke-width="1" stroke-dasharray="4 4" stroke-dashoffset="1" shape-rendering="crispEdges"/>
<line x1="171.5" y1="725" x2="171.5" y2="900" stroke="#000" stroke-opacity="0.024" stroke-width="1" stroke-dasharray="4 4" stroke-dashoffset="1" shape-rendering="crispEdges"/>
<line x1="187.5" y1="725" x2="187.5" y2="900" stroke="#000" stroke-opacity="0.09" stroke-width="1" stroke-dasharray="4 4" stroke-dashoffset="1" shape-rendering="crispEdges"/>
<line x1="203.5" y1="725" x2="203.5" y2="900" stroke="#000" stroke-opacity="0.024" stroke-width="1" stroke-dasharray="4 4" stroke-dashoffset="1" shape-rendering="crispEdges"/>
<line x1="219.5" y1="725" x2="219.5" y2="900" stroke="#000" stroke-opacity="0.024" stroke-width="1" stroke-dasharray="4 4" stroke-dashoffset="1" shape-rendering="crispEdges"/>
<line x1="235.5" y1="725" x2="235.5" y2="900" stroke="#000" stroke-opacity="0.024" stroke-width="1" stroke-dasharray="4 4" stroke-dashoffset="1" shape-rendering="crispEdges"/>
<line x1="251.5" y1="725" x2="251.5" y2="900" stroke="#000" stroke-opacity="0.024" stroke-width="1" stroke-dasharray="4 4" stroke-dashoffset="1" shape-rendering="crispEdges"/>
<line x1="267.5" y1="725" x2="267.5" y2="900" stroke="#000" stroke-opacity="0.09" stroke-width="1" stroke-dasharray="4 4" stroke-dashoffset="1" shape-rendering="crispEdges"/>
<line x1="282.5" y1="725" x2="282.5" y2="900" stroke="#000" stroke-opacity="0.024" stroke-width="1" stroke-dasharray="4 4" stroke-dashoffset="1" shape-rendering="crispEdges"/>
<line x1="298.5" y1="725" x2="298.5" y2="900" stroke="#000" stroke-opacity="0.024" stroke-width="1" stroke-dasharray="4 4" stroke-dashoffset="1" shape-rendering="crispEdges"/>
<line x1="314.5" y1="725" x2="314.5" y2="900" stroke="#000" stroke-opacity="0.024" stroke-width="1" stroke-dasharray="4 4" stroke-dashoffset="1" shape-rendering="crispEdges"/>
<line x1="330.5" y1="725" x2="330.5" y2="900" stroke="#000" stroke-opacity="0.024" stroke-width="1" stroke-dasharray="4 4" stroke-dashoffset="1" shape-rendering="crispEdges"/>
<line x1="346.5" y1="725" x2="346.5" y2="900" stroke="#000" stroke-opacity="0.09" stroke-width="1" stroke-dasharray="4 4" stroke-dashoffset="1" shape-rendering="crispEdges"/>
<line x1="362.5" y1="725" x2="362.5" y2="900" stroke="#000" stroke-opacity="0.024" stroke-width="1" stroke-dasharray="4 4" stroke-dashoffset="1" shape-rendering="crispEdges"/>
<line x1="378.5" y1="725" x2="378.5" y2="900" stroke="#000" stroke-opacity="0.024" stroke-width="1" stroke-dasharray="4 4" stroke-dashoffset="1" shape-rendering="crispEdges"/>
<line x1="394.5" y1="725" x2="394.5" y2="900" stroke="#000" stroke-opacity="0.024" stroke-width="1" stroke-dasharray="4 4" stroke-dashoffset="1" shape-rendering="crispEdges"/>
<line x1="410.5" y1="725" x2="410.5" y2="900" stroke="#000" stroke-opacity="0.024" stroke-width="1" stroke-dasharray="4 4" stroke-dashoffset="1" shape-rendering="crispEdges"/>
<line x1="426.5" y1="725" x2="426.5" y2="900" stroke="#000" stroke-opacity="0.09" stroke-width="1" stroke-dasharray="4 4" stroke-dashoffset="1" shape-rendering="crispEdges"/>
<line x1="442.5" y1="725" x2="442.5" y2="900" stroke="#000" stroke-opacity="0.024" stroke-width="1" stroke-dasharray="4 4" stroke-dashoffset="1" shape-rendering="crispEdges"/>
<line x1="457.5" y1="725" x2="457.5" y2="900" stroke="#000" stroke-opacity="0.024" stroke-width="1" stroke-dasharray="4 4" stroke-dashoffset="1" shape-rendering="crispEdges"/>
<line x1="473.5" y1="725" x2="473.5" y2="900" stroke="#000" stroke-opacity="0.024" stroke-width="1" stroke-dasharray="4 4" stroke-dashoffset="1" shape-rendering="crispEdges"/>
<line x1="489.5" y1="725" x2="489.5" y2="900" stroke="#000" stroke-opacity="0.024" stroke-width="1" stroke-dasharray="4 4" stroke-dashoffset="1" shape-rendering="crispEdges"/>
<line x1="505.5" y1="725" x2="505.5" y2="900" stroke="#000" stroke-opacity="0.09" stroke-width="1" stroke-dasharray="4 4" stroke-dashoffset="1" shape-rendering="crispEdges"/>
<line x1="521.5" y1="725" x2="521.5" y2="900" stroke="#000" stroke-opacity="0.024" stroke-width="1" stroke-dasharray="4 4" stroke-dashoffset="1" shape-rendering="crispEdges"/>
<line x1="537.5" y1="725" x2="537.5" y2="900" stroke="#000" stroke-opacity="0.024" stroke-width="1" stroke-dasharray="4 4" stroke-dashoffset="1" shape-rendering="crispEdges"/>
<line x1="553.5" y1="725" x2="553.5" y2="900" stroke="#000" stroke-opacity="0.024" stroke-width="1" stroke-dasharray="4 4" stroke-dashoffset="1" shape-rendering="crispEdges"/>
<line x1="569.5" y1="725" x2="569.5" y2="900" stroke="#000" stroke-opacity="0.024" stroke-width="1" stroke-dasharray="4 4" stroke-dashoffset="1" shape-rendering="crispEdges"/>
<line x1="585.5" y1="725" x2="585.5" y2="900" stroke="#000" stroke-opacity="0.09" stroke-width="1" stroke-dasharray="4 4" stroke-dashoffset="1" shape-rendering="crispEdges"/>
<line x1="601.5" y1="725" x2="601.5" y2="900" stroke="#000" stroke-opacity="0.024" stroke-width="1" stroke-dasharray="4 4" stroke-dashoffset="1" shape-rendering="crispEdges"/>
<line x1="617.5" y1="725" x2="617.5" y2="900" stroke="#000" stroke-opacity="0.024" stroke-width="1" stroke-dasharray="4 4" stroke-dashoffset="1" shape-rendering="crispEdges"/>
<line x1="632.5" y1="725" x2="632.5" y2="900" stroke="#000" stroke-opacity="0.024" stroke-width="1" stroke-dasharray="4 4" stroke-dashoffset="1" shape-rendering="crispEdges"/>
<line x1="648.5" y1="725" x2="648.5" y2="900" stroke="#000" stroke-opacity="0.024" stroke-width="1" stroke-dasharray="4 4" stroke-dashoffset="1" shape-rendering="crispEdges"/>
<line x1="664.5" y1="725" x2="664.5" y2="900" stroke="#000" stroke-opacity="0.09" stroke-width="1" stroke-dasharray="4 4" stroke-dashoffset="1" shape-rendering="crispEdges"/>
<line x1="680.5" y1="725" x2="680.5" y2="900" stroke="#000" stroke-opacity="0.024" stroke-width="1" stroke-dasharray="4 4" stroke-dashoffset="1" shape-rendering="crispEdges"/>
<line x1="696.5" y1="725" x2="696.5" y2="900" stroke="#000" stroke-opacity="0.024" stroke-width="1" stroke-dasharray="4 4" stroke-dashoffset="1" shape-rendering="crispEdges"/>
<line x1="712.5" y1="725" x2="712.5" y2="900" stroke="#000" stroke-opacity="0.024" stroke-width="1" stroke-dasharray="4 4" stroke-dashoffset="1" shape-rendering="crispEdges"/>
<line x1="728.5" y1="725" x2="728.5" y2="900" stroke="#000" stroke-opacity="0.024" stroke-width="1" stroke-dasharray="4 4" stroke-dashoffset="1" shape-rendering="crispEdges"/>
<line x1="744.5" y1="725" x2="744.5" y2="900" stroke="#000" stroke-opacity="0.09" stroke-width="1" stroke-dasharray="4 4" stroke-dashoffset="1" shape-rendering="crispEdges"/>
<line x1="760.5" y1="725" x2="760.5" y2="900" stroke="#000" stroke-opacity="0.024" stroke-width="1" stroke-dasharray="4 4" stroke-dashoffset="1" shape-rendering="crispEdges"/>
<line x1="776.5" y1="725" x2="776.5" y2="900" stroke="#000" stroke-opacity="0.024" stroke-width="1" stroke-dasharray="4 4" stroke-dashoffset="1" shape-rendering="crispEdges"/>
<line x1="792.5" y1="725" x2="792.5" y2="900" stroke="#000" stroke-opacity="0.024" stroke-width="1" stroke-dasharray="4 4" stroke-dashoffset="1" shape-rendering="crispEdges"/>
<line x1="807.5" y1="725" x2="807.5" y2="900" stroke="#000" stroke-opacity="0.024" stroke-width="1" stroke-dasharray="4 4" stroke-dashoffset="1" shape-rendering="crispEdges"/>
<line x1="823.5" y1="725" x2="823.5" y2="900" stroke="#000" stroke-opacity="0.09" stroke-width="1" stroke-dasharray="4 4" stroke-dashoffset="1" shape-rendering="crispEdges"/>
<line x1="839.5" y1="725" x2="839.5" y2="900" stroke="#000" stroke-opacity="0.024" stroke-width="1" stroke-dasharray="4 4" stroke-dashoffset="1" shape-rendering="crispEdges"/>
<line x1="855.5" y1="725" x2="855.5" y2="900" stroke="#000" stroke-opacity="0.024" stroke-width="1" stroke-dasharray="4 4" stroke-dashoffset="1" shape-rendering="crispEdges"/>
<line x1="871.5" y1="725" x2="871.5" y2="900" stroke="#000" stroke-opacity="0.024" stroke-width="1" stroke-dasharray="4 4" stroke-dashoffset="1" shape-rendering="crispEdges"/>
<line x1="887.5" y1="725" x2="887.5" y2="900" stroke="#000" stroke-opacity="0.024" stroke-width="1" stroke-dasharray="4 4" stroke-dashoffset="1" shape-rendering="crispEdges"/>
<line x1="903.5" y1="725" x2="903.5" y2="900" stroke="#000" stroke-opacity="0.09" stroke-width="1" stroke-dasharray="4 4" stroke-dashoffset="1" shape-rendering="crispEdges"/>
<line x1="919.5" y1="725" x2="919.5" y2="900" stroke="#000" stroke-opacity="0.024" stroke-width="1" stroke-dasharray="4 4" stroke-dashoffset="1" shape-rendering="crispEdges"/>
<line x1="935.5" y1="725" x2="935.5" y2="900" stroke="#000" stroke-opacity="0.024" stroke-width="1" stroke-dasharray="4 4" stroke-dashoffset="1" shape-rendering="crispEdges"/>
<line x1="951.5" y1="725" x2="951.5" y2="900" stroke="#000" stroke-opacity="0.024" stroke-width="1" stroke-dasharray="4 4" stroke-dashoffset="1" shape-rendering="crispEdges"/>
<line x1="967.5" y1="725" x2="967.5" y2="900" stroke="#000" stroke-opacity="0.024" stroke-width="1" stroke-dasharray="4 4" stroke-dashoffset="1" shape-rendering="crispEdges"/>
<line x1="982.5" y1="725" x2="982.5" y2="900" stroke="#000" stroke-opacity="0.09" stroke-width="1" stroke-dasharray="4 4" stroke-dashoffset="1" shape-rendering="crispEdges"/>
<line x1="998.5" y1="725" x2="998.5" y2="900" stroke="#000" stroke-opacity="0.024" stroke-width="1" stroke-dasharray="4 4" stroke-dashoffset="1" shape-rendering="crispEdges"/>
<line x1="1014.5" y1="725" x2="1014.5" y2="900" stroke="#000" stroke-opacity="0.024" stroke-width="1" stroke-dasharray="4 4" stroke-dashoffset="1" shape-rendering="crispEdges"/>
<line x1="1030.5" y1="725" x2="1030.5" y2="900" stroke="#000" stroke-opacity="0.024" stroke-width="1" stroke-dasharray="4 4" stroke-dashoffset="1" shape-rendering="crispEdges"/>
<line x1="1046.5" y1="725" x2="1046.5" y2="900" stroke="#000" stroke-opacity="0.024" stroke-width="1" stroke-dasharray="4 4" stroke-dashoffset="1" shape-rendering="crispEdges"/>
<line x1="1062.5" y1="725" x2="1062.5" y2="900" stroke="#000" stroke-opacity="0.09" stroke-width="1" stroke-dasharray="4 4" stroke-dashoffset="1" shape-rendering="crispEdges"/>
<line x1="1078.5" y1="725" x2="1078.5" y2="900" stroke="#000" stroke-opacity="0.024" stroke-width="1" stroke-dasharray="4 4" stroke-dashoffset="1" shape-rendering="crispEdges"/>
<line x1="1094.5" y1="725" x2="1094.5" y2="900" stroke="#000" stroke-opacity="0.024" stroke-width="1" stroke-dasharray="4 4" stroke-dashoffset="1" shape-rendering="crispEdges"/>
<line x1="1110.5" y1="725" x2="1110.5" y2="900" stroke="#000" stroke-opacity="0.024" stroke-width="1" stroke-dasharray="4 4" stroke-dashoffset="1" shape-rendering="crispEdges"/>
<line x1="1126.5" y1="725" x2="1126.5" y2="900" stroke="#000" stroke-opacity="0.024" stroke-width="1" stroke-dasharray="4 4" stroke-dashoffset="1" shape-rendering="crispEdges"/>
<line x1="1142.5" y1="725" x2="1142.5" y2="900" stroke="#000" stroke-opacity="0.09" stroke-width="1" stroke-dasharray="4 4" stroke-dashoffset="1" shape-rendering="crispEdges"/>
<line x1="107" y1="725.5" x2="1151" y2="725.5" stroke="#000" stroke-opacity="0.085" stroke-width="1" stroke-dasharray="4 4" shape-rendering="crispEdges"/>
<line x1="107" y1="750.5" x2="1151" y2="750.5" stroke="#000" stroke-opacity="0.085" stroke-width="1" stroke-dasharray="4 4" shape-rendering="crispEdges"/>
<line x1="107" y1="775.5" x2="1151" y2="775.5" stroke="#000" stroke-opacity="0.085" stroke-width="1" stroke-dasharray="4 4" shape-rendering="crispEdges"/>
<line x1="107" y1="800.5" x2="1151" y2="800.5" stroke="#000" stroke-opacity="0.085" stroke-width="1" stroke-dasharray="4 4" shape-rendering="crispEdges"/>
<line x1="107" y1="825.5" x2="1151" y2="825.5" stroke="#000" stroke-opacity="0.085" stroke-width="1" stroke-dasharray="4 4" shape-rendering="crispEdges"/>
<line x1="107" y1="850.5" x2="1151" y2="850.5" stroke="#000" stroke-opacity="0.085" stroke-width="1" stroke-dasharray="4 4" shape-rendering="crispEdges"/>
<line x1="107" y1="875.5" x2="1151" y2="875.5" stroke="#000" stroke-opacity="0.085" stroke-width="1" stroke-dasharray="4 4" shape-rendering="crispEdges"/>
<rect x="102" y="831.00" width="12" height="69.00" fill="#f00" fill-opacity="0.64"/>
<rect x="118" y="838.00" width="12" height="62.00" fill="#f00" fill-opacity="0.64"/>
<rect x="134" y="745.00" width="12" height="155.00" fill="#0f0" fill-opacity="0.64"/>
<rect x="150" y="801.00" width="12" height="99.00" fill="#0f0" fill-opacity="0.64"/>
<rect x="166" y="811.00" width="12" height="89.00" fill="#f00" fill-opacity="0.64"/>
<rect x="182" y="841.00" width="12" height="59.00" fill="#f00" fill-opacity="0.64"/>
<rect x="198" y="837.00" width="12" height="63.00" fill="#0f0" fill-opacity="0.64"/>
<rect x="214" y="851.00" width="12" height="49.00" fill="#f00" fill-opacity="0.64"/>
<rect x="229" y="838.00" width="12" height="62.00" fill="#0f0" fill-opacity="0.64"/>
<rect x="245" y="855.00" width="12" height="45.00" fill="#0f0" fill-opacity="0.64"/>
<rect x="261" y="825.00" width="12" height="75.00" fill="#0f0" fill-opacity="0.64"/>
<rect x="277" y="837.00" width="12" height="63.00" fill="#f00" fill-opacity="0.64"/>
<rect x="293" y="838.00" width="12" height="62.00" fill="#0f0" fill-opacity="0.64"/>
<rect x="309" y="853.00" width="12" height="47.00" fill="#f00" fill-opacity="0.64"/>
<rect x="325" y="852.00" width="12" height="48.00" fill="#0f0" fill-opacity="0.64"/>
<rect x="341" y="819.00" width="12" height="81.00" fill="#f00" fill-opacity="0.64"/>
<rect x="357" y="862.00" width="12" height="38.00" fill="#0f0" fill-opacity="0.64"/>
<rect x="373" y="833.00" width="12" height="67.00" fill="#0f0" fill-opacity="0.64"/>
<rect x="389" y="826.00" width="12" height="74.00" fill="#f00" fill-opacity="0.64"/>
<rect x="404" y="814.00" width="12" height="86.00" fill="#0f0" fill-opacity="0.64"/>
<rect x="420" y="842.00" width="12" height="58.00" fill="#0f0" fill-opacity="0.64"/>
<rect x="436" y="804.00" width="12" height="96.00" fill="#0f0" fill-opacity="0.64"/>
<rect x="452" y="839.00" width="12" height="61.00" fill="#0f0" fill-opacity="0.64"/>
<rect x="468" y="864.00" width="12" height="36.00" fill="#f00" fill-opacity="0.64"/>
<rect x="484" y="865.00" width="12" height="35.00" fill="#0f0" fill-opacity="0.64"/>
<rect x="500" y="835.00" width="12" height="65.00" fill="#0f0" fill-opacity="0.64"/>
<rect x="516" y="837.00" width="12" height="63.00" fill="#f00" fill-opacity="0.64"/>
<rect x="532" y="832.00" width="12" height="68.00" fill="#f00" fill-opacity="0.64"/>
<rect x="548" y="866.00" width="12" height="34.00" fill="#0f0" fill-opacity="0.64"/>
<rect x="564" y="889.00" width="12" height="11.00" fill="#0f0" fill-opacity="0.64"/>
<rect x="579" y="851.00" width="12" height="49.00" fill="#f00" fill-opacity="0.64"/>
<rect x="595" y="822.00" width="12" height="78.00" fill="#0f0" fill-opacity="0.64"/>
<rect x="611" y="857.00" width="12" height="43.00" fill="#0f0" fill-opacity="0.64"/>
<rect x="627" y="842.00" width="12" height="58.00" fill="#f00" fill-opacity="0.64"/>
<rect x="643" y="860.00" width="12" height="40.00" fill="#0f0" fill-opacity="0.64"/>
<rect x="659" y="842.00" width="12" height="58.00" fill="#0f0" fill-opacity="0.64"/>
<rect x="675" y="817.00" width="12" height="83.00" fill="#0f0" fill-opacity="0.64"/>
<rect x="691" y="756.00" width="12" height="144.00" fill="#0f0" fill-opacity="0.64"/>
<rect x="707" y="771.00" width="12" height="129.00" fill="#0f0" fill-opacity="0.64"/>
<rect x="723" y="852.00" width="12" height="48.00" fill="#0f0" fill-opacity="0.64"/>
<rect x="739" y="843.00" width="12" height="57.00" fill="#0f0" fill-opacity="0.64"/>
<rect x="754" y="763.00" width="12" height="137.00" fill="#f00" fill-opacity="0.64"/>
<rect x="770" y="786.00" width="12" height="114.00" fill="#0f0" fill-opacity="0.64"/>
<rect x="786" y="843.00" width="12" height="57.00" fill="#0f0" fill-opacity="0.64"/>
<rect x="802" y="839.00" width="12" height="61.00" fill="#0f0" fill-opacity="0.64"/>
<rect x="818" y="833.00" width="12" height="67.00" fill="#0f0" fill-opacity="0.64"/>
<rect x="834" y="845.00" width="12" height="55.00" fill="#f00" fill-opacity="0.64"/>
<rect x="850" y="809.00" width="12" height="91.00" fill="#f00" fill-opacity="0.64"/>
<rect x="866" y="818.00" width="12" height="82.00" fill="#f00" fill-opacity="0.64"/>
<rect x="882" y="829.00" width="12" height="71.00" fill="#0f0" fill-opacity="0.64"/>
<rect x="898" y="854.00" width="12" height="46.00" fill="#0f0" fill-opacity="0.64"/>
<rect x="914" y="831.00" width="12" height="69.00" fill="#0f0" fill-opacity="0.64"/>
<rect x="929" y="843.00" width="12" height="57.00" fill="#0f0" fill-opacity="0.64"/>
<rect x="945" y="829.00" width="12" height="71.00" fill="#f00" fill-opacity="0.64"/>
<rect x="961" y="812.00" width="12" height="88.00" fill="#f00" fill-opacity="0.64"/>
<rect x="977" y="816.00" width="12" height="84.00" fill="#0f0" fill-opacity="0.64"/>
<rect x="993" y="856.00" width="12" height="44.00" fill="#0f0" fill-opacity="0.64"/>
<rect x="1009" y="850.00" width="12" height="50.00" fill="#0f0" fill-opacity="0.64"/>
<rect x="1025" y="826.00" width="12" height="74.00" fill="#0f0" fill-opacity="0.64"/>
<rect x="1041" y="860.00" width="12" height="40.00" fill="#f00" fill-opacity="0.64"/>
<rect x="1057" y="852.00" width="12" height="48.00" fill="#f00" fill-opacity="0.64"/>
<rect x="1073" y="877.00" width="12" height="23.00" fill="#0f0" fill-opacity="0.64"/>
<rect x="1089" y="854.00" width="12" height="46.00" fill="#0f0" fill-opacity="0.64"/>
<rect x="1104" y="796.00" width="12" height="104.00" fill="#0f0" fill-opacity="0.64"/>
<rect x="1120" y="840.00" width="12" height="60.00" fill="#0f0" fill-opacity="0.64"/>
<rect x="1136" y="836.00" width="12" height="64.00" fill="#0f0" fill-opacity="0.64"/>
<rect x="100" y="718" width="1" height="183" fill="#000" shape-rendering="crispEdges"/>
<rect x="98" y="900" width="1059" height="1" fill="#000" shape-rendering="crispEdges"/>
<path d="M100.5 712.5 L104 719 L97 719 Z" fill="#000"/>
<path d="M1162.5 900.5 L1155.5 897 L1155.5 904 Z" fill="#000"/>
<rect x="98" y="725" width="5" height="1" fill="#000" shape-rendering="crispEdges"/>
<rect x="98" y="737" width="2" height="1" fill="#f00" shape-rendering="crispEdges"/>
<text x="98.30" y="728.00" font-size="11.3" text-anchor="end" textLength="63.00" lengthAdjust="spacingAndGlyphs" fill="#000" stroke="#000" stroke-width="0.09">140,000.00</text>
<rect x="98" y="750" width="5" height="1" fill="#000" shape-rendering="crispEdges"/>
<rect x="98" y="762" width="2" height="1" fill="#f00" shape-rendering="crispEdges"/>
<text x="98.30" y="753.00" font-size="11.3" text-anchor="end" textLength="63.00" lengthAdjust="spacingAndGlyphs" fill="#000" stroke="#000" stroke-width="0.09">120,000.00</text>
<rect x="98" y="775" width="5" height="1" fill="#000" shape-rendering="crispEdges"/>
<rect x="98" y="787" width="2" height="1" fill="#f00" shape-rendering="crispEdges"/>
<text x="98.30" y="778.00" font-size="11.3" text-anchor="end" textLength="63.00" lengthAdjust="spacingAndGlyphs" fill="#000" stroke="#000" stroke-width="0.09">100,000.00</text>
<rect x="98" y="800" width="5" height="1" fill="#000" shape-rendering="crispEdges"/>
<rect x="98" y="812" width="2" height="1" fill="#f00" shape-rendering="crispEdges"/>
<text x="98.30" y="803.00" font-size="11.3" text-anchor="end" textLength="56.00" lengthAdjust="spacingAndGlyphs" fill="#000" stroke="#000" stroke-width="0.09">80,000.00</text>
<rect x="98" y="825" width="5" height="1" fill="#000" shape-rendering="crispEdges"/>
<rect x="98" y="837" width="2" height="1" fill="#f00" shape-rendering="crispEdges"/>
<text x="98.30" y="828.00" font-size="11.3" text-anchor="end" textLength="56.00" lengthAdjust="spacingAndGlyphs" fill="#000" stroke="#000" stroke-width="0.09">60,000.00</text>
<rect x="98" y="850" width="5" height="1" fill="#000" shape-rendering="crispEdges"/>
<rect x="98" y="862" width="2" height="1" fill="#f00" shape-rendering="crispEdges"/>
<text x="98.30" y="853.00" font-size="11.3" text-anchor="end" textLength="56.00" lengthAdjust="spacingAndGlyphs" fill="#000" stroke="#000" stroke-width="0.09">40,000.00</text>
<rect x="98" y="875" width="5" height="1" fill="#000" shape-rendering="crispEdges"/>
<rect x="98" y="887" width="2" height="1" fill="#f00" shape-rendering="crispEdges"/>
<text x="98.30" y="878.00" font-size="11.3" text-anchor="end" textLength="56.00" lengthAdjust="spacingAndGlyphs" fill="#000" stroke="#000" stroke-width="0.09">20,000.00</text>
<rect x="98" y="900" width="5" height="1" fill="#000" shape-rendering="crispEdges"/>
<text x="98.30" y="905.00" font-size="11.3" text-anchor="end" textLength="24.00" lengthAdjust="spacingAndGlyphs" fill="#000" stroke="#000" stroke-width="0.09">0.00</text>
<rect x="107" y="898" width="1" height="5" fill="#000" shape-rendering="crispEdges"/>
<text x="108.80" y="915.00" font-size="11.3" text-anchor="middle" textLength="36.20" lengthAdjust="spacingAndGlyphs" fill="#000" stroke="#000" stroke-width="0.09">24 Fév</text>
<rect x="123" y="901" width="1" height="2" fill="#e6e6e6" shape-rendering="crispEdges"/>
<rect x="139" y="901" width="1" height="2" fill="#e6e6e6" shape-rendering="crispEdges"/>
<rect x="155" y="901" width="1" height="2" fill="#e6e6e6" shape-rendering="crispEdges"/>
<rect x="171" y="901" width="1" height="2" fill="#e6e6e6" shape-rendering="crispEdges"/>
<rect x="187" y="898" width="1" height="5" fill="#000" shape-rendering="crispEdges"/>
<text x="188.80" y="913.60" font-size="11.3" text-anchor="middle" textLength="37.50" lengthAdjust="spacingAndGlyphs" fill="#000" stroke="#000" stroke-width="0.09">3 Mars</text>
<rect x="203" y="901" width="1" height="2" fill="#e6e6e6" shape-rendering="crispEdges"/>
<rect x="219" y="901" width="1" height="2" fill="#e6e6e6" shape-rendering="crispEdges"/>
<rect x="235" y="901" width="1" height="2" fill="#e6e6e6" shape-rendering="crispEdges"/>
<rect x="251" y="901" width="1" height="2" fill="#e6e6e6" shape-rendering="crispEdges"/>
<rect x="267" y="898" width="1" height="5" fill="#000" shape-rendering="crispEdges"/>
<text x="268.80" y="913.60" font-size="11.3" text-anchor="middle" textLength="44.50" lengthAdjust="spacingAndGlyphs" fill="#000" stroke="#000" stroke-width="0.09">10 Mars</text>
<rect x="282" y="901" width="1" height="2" fill="#e6e6e6" shape-rendering="crispEdges"/>
<rect x="298" y="901" width="1" height="2" fill="#e6e6e6" shape-rendering="crispEdges"/>
<rect x="314" y="901" width="1" height="2" fill="#e6e6e6" shape-rendering="crispEdges"/>
<rect x="330" y="901" width="1" height="2" fill="#e6e6e6" shape-rendering="crispEdges"/>
<rect x="346" y="898" width="1" height="5" fill="#000" shape-rendering="crispEdges"/>
<text x="347.80" y="913.60" font-size="11.3" text-anchor="middle" textLength="44.50" lengthAdjust="spacingAndGlyphs" fill="#000" stroke="#000" stroke-width="0.09">17 Mars</text>
<rect x="362" y="901" width="1" height="2" fill="#e6e6e6" shape-rendering="crispEdges"/>
<rect x="378" y="901" width="1" height="2" fill="#e6e6e6" shape-rendering="crispEdges"/>
<rect x="394" y="901" width="1" height="2" fill="#e6e6e6" shape-rendering="crispEdges"/>
<rect x="410" y="901" width="1" height="2" fill="#e6e6e6" shape-rendering="crispEdges"/>
<rect x="426" y="898" width="1" height="5" fill="#000" shape-rendering="crispEdges"/>
<text x="427.80" y="913.60" font-size="11.3" text-anchor="middle" textLength="44.50" lengthAdjust="spacingAndGlyphs" fill="#000" stroke="#000" stroke-width="0.09">24 Mars</text>
<rect x="442" y="901" width="1" height="2" fill="#e6e6e6" shape-rendering="crispEdges"/>
<rect x="457" y="901" width="1" height="2" fill="#e6e6e6" shape-rendering="crispEdges"/>
<rect x="473" y="901" width="1" height="2" fill="#e6e6e6" shape-rendering="crispEdges"/>
<rect x="489" y="901" width="1" height="2" fill="#e6e6e6" shape-rendering="crispEdges"/>
<rect x="505" y="898" width="1" height="5" fill="#000" shape-rendering="crispEdges"/>
<text x="506.80" y="913.60" font-size="11.3" text-anchor="middle" textLength="44.50" lengthAdjust="spacingAndGlyphs" fill="#000" stroke="#000" stroke-width="0.09">31 Mars</text>
<rect x="521" y="901" width="1" height="2" fill="#e6e6e6" shape-rendering="crispEdges"/>
<rect x="537" y="901" width="1" height="2" fill="#e6e6e6" shape-rendering="crispEdges"/>
<rect x="553" y="901" width="1" height="2" fill="#e6e6e6" shape-rendering="crispEdges"/>
<rect x="569" y="901" width="1" height="2" fill="#e6e6e6" shape-rendering="crispEdges"/>
<rect x="585" y="898" width="1" height="5" fill="#000" shape-rendering="crispEdges"/>
<text x="586.80" y="913.60" font-size="11.3" text-anchor="middle" textLength="36.50" lengthAdjust="spacingAndGlyphs" fill="#000" stroke="#000" stroke-width="0.09">11 Avr</text>
<rect x="601" y="901" width="1" height="2" fill="#e6e6e6" shape-rendering="crispEdges"/>
<rect x="617" y="901" width="1" height="2" fill="#e6e6e6" shape-rendering="crispEdges"/>
<rect x="632" y="901" width="1" height="2" fill="#e6e6e6" shape-rendering="crispEdges"/>
<rect x="648" y="901" width="1" height="2" fill="#e6e6e6" shape-rendering="crispEdges"/>
<rect x="664" y="898" width="1" height="5" fill="#000" shape-rendering="crispEdges"/>
<text x="665.80" y="913.60" font-size="11.3" text-anchor="middle" textLength="36.50" lengthAdjust="spacingAndGlyphs" fill="#000" stroke="#000" stroke-width="0.09">20 Avr</text>
<rect x="680" y="901" width="1" height="2" fill="#e6e6e6" shape-rendering="crispEdges"/>
<rect x="696" y="901" width="1" height="2" fill="#e6e6e6" shape-rendering="crispEdges"/>
<rect x="712" y="901" width="1" height="2" fill="#e6e6e6" shape-rendering="crispEdges"/>
<rect x="728" y="901" width="1" height="2" fill="#e6e6e6" shape-rendering="crispEdges"/>
<rect x="744" y="898" width="1" height="5" fill="#000" shape-rendering="crispEdges"/>
<text x="745.80" y="913.60" font-size="11.3" text-anchor="middle" textLength="36.50" lengthAdjust="spacingAndGlyphs" fill="#000" stroke="#000" stroke-width="0.09">27 Avr</text>
<rect x="760" y="901" width="1" height="2" fill="#e6e6e6" shape-rendering="crispEdges"/>
<rect x="776" y="901" width="1" height="2" fill="#e6e6e6" shape-rendering="crispEdges"/>
<rect x="792" y="901" width="1" height="2" fill="#e6e6e6" shape-rendering="crispEdges"/>
<rect x="807" y="901" width="1" height="2" fill="#e6e6e6" shape-rendering="crispEdges"/>
<rect x="823" y="898" width="1" height="5" fill="#000" shape-rendering="crispEdges"/>
<text x="824.80" y="913.60" font-size="11.3" text-anchor="middle" textLength="29.50" lengthAdjust="spacingAndGlyphs" fill="#000" stroke="#000" stroke-width="0.09">5 Mai</text>
<rect x="839" y="901" width="1" height="2" fill="#e6e6e6" shape-rendering="crispEdges"/>
<rect x="855" y="901" width="1" height="2" fill="#e6e6e6" shape-rendering="crispEdges"/>
<rect x="871" y="901" width="1" height="2" fill="#e6e6e6" shape-rendering="crispEdges"/>
<rect x="887" y="901" width="1" height="2" fill="#e6e6e6" shape-rendering="crispEdges"/>
<rect x="903" y="898" width="1" height="5" fill="#000" shape-rendering="crispEdges"/>
<text x="904.80" y="913.60" font-size="11.3" text-anchor="middle" textLength="36.50" lengthAdjust="spacingAndGlyphs" fill="#000" stroke="#000" stroke-width="0.09">12 Mai</text>
<rect x="919" y="901" width="1" height="2" fill="#e6e6e6" shape-rendering="crispEdges"/>
<rect x="935" y="901" width="1" height="2" fill="#e6e6e6" shape-rendering="crispEdges"/>
<rect x="951" y="901" width="1" height="2" fill="#e6e6e6" shape-rendering="crispEdges"/>
<rect x="967" y="901" width="1" height="2" fill="#e6e6e6" shape-rendering="crispEdges"/>
<rect x="982" y="898" width="1" height="5" fill="#000" shape-rendering="crispEdges"/>
<text x="983.80" y="913.60" font-size="11.3" text-anchor="middle" textLength="36.50" lengthAdjust="spacingAndGlyphs" fill="#000" stroke="#000" stroke-width="0.09">19 Mai</text>
<rect x="998" y="901" width="1" height="2" fill="#e6e6e6" shape-rendering="crispEdges"/>
<rect x="1014" y="901" width="1" height="2" fill="#e6e6e6" shape-rendering="crispEdges"/>
<rect x="1030" y="901" width="1" height="2" fill="#e6e6e6" shape-rendering="crispEdges"/>
<rect x="1046" y="901" width="1" height="2" fill="#e6e6e6" shape-rendering="crispEdges"/>
<rect x="1062" y="898" width="1" height="5" fill="#000" shape-rendering="crispEdges"/>
<text x="1063.80" y="913.60" font-size="11.3" text-anchor="middle" textLength="36.50" lengthAdjust="spacingAndGlyphs" fill="#000" stroke="#000" stroke-width="0.09">26 Mai</text>
<rect x="1078" y="901" width="1" height="2" fill="#e6e6e6" shape-rendering="crispEdges"/>
<rect x="1094" y="901" width="1" height="2" fill="#e6e6e6" shape-rendering="crispEdges"/>
<rect x="1110" y="901" width="1" height="2" fill="#e6e6e6" shape-rendering="crispEdges"/>
<rect x="1126" y="901" width="1" height="2" fill="#e6e6e6" shape-rendering="crispEdges"/>
<rect x="1142" y="898" width="1" height="5" fill="#000" shape-rendering="crispEdges"/>
<text x="1143.80" y="913.60" font-size="11.3" text-anchor="middle" textLength="33.50" lengthAdjust="spacingAndGlyphs" fill="#000" stroke="#000" stroke-width="0.09">2 Juin</text>
<text x="627.40" y="925.00" font-size="11.3" text-anchor="middle" textLength="236.50" lengthAdjust="spacingAndGlyphs" fill="#000" stroke="#000" stroke-width="0.09">Date (du 24 Février 2017 au 2 Juin 2017)</text>
<text transform="translate(33,810.5) rotate(-90)" font-size="11.3" text-anchor="middle" textLength="43" lengthAdjust="spacingAndGlyphs">Volume</text>
<text x="111.20" y="694.7" font-size="24.3" textLength="45.30" lengthAdjust="spacingAndGlyphs" stroke="#000" stroke-width="0.15">Seb</text>
<text x="156.22" y="694.7" font-size="24.3" textLength="10.56" lengthAdjust="spacingAndGlyphs" stroke="#000" stroke-width="0.15">:</text>
<text x="174.50" y="694.7" font-size="24.3" textLength="120.00" lengthAdjust="spacingAndGlyphs" stroke="#000" stroke-width="0.15">graphique</text>
<text x="301.60" y="694.7" font-size="24.3" textLength="29.90" lengthAdjust="spacingAndGlyphs" stroke="#000" stroke-width="0.15">du</text>
<text x="339.70" y="694.7" font-size="24.3" textLength="87.85" lengthAdjust="spacingAndGlyphs" stroke="#000" stroke-width="0.15">volume</text>
<text x="435.14" y="694.7" font-size="24.3" textLength="10.43" lengthAdjust="spacingAndGlyphs" stroke="#000" stroke-width="0.15">-</text>
<text x="453.80" y="694.7" font-size="24.3" textLength="207.80" lengthAdjust="spacingAndGlyphs" stroke="#000" stroke-width="0.15">AnalyBourse.com</text>
<rect x="101" y="1060" width="1050" height="36" fill="#f8f8f8" shape-rendering="crispEdges"/>
<rect x="101" y="1130" width="1050" height="36" fill="#f8f8f8" shape-rendering="crispEdges"/>
<line x1="107.5" y1="1025" x2="107.5" y2="1200" stroke="#000" stroke-opacity="0.09" stroke-width="1" stroke-dasharray="4 4" stroke-dashoffset="1" shape-rendering="crispEdges"/>
<line x1="123.5" y1="1025" x2="123.5" y2="1200" stroke="#000" stroke-opacity="0.024" stroke-width="1" stroke-dasharray="4 4" stroke-dashoffset="1" shape-rendering="crispEdges"/>
<line x1="139.5" y1="1025" x2="139.5" y2="1200" stroke="#000" stroke-opacity="0.024" stroke-width="1" stroke-dasharray="4 4" stroke-dashoffset="1" shape-rendering="crispEdges"/>
<line x1="155.5" y1="1025" x2="155.5" y2="1200" stroke="#000" stroke-opacity="0.024" stroke-width="1" stroke-dasharray="4 4" stroke-dashoffset="1" shape-rendering="crispEdges"/>
<line x1="171.5" y1="1025" x2="171.5" y2="1200" stroke="#000" stroke-opacity="0.024" stroke-width="1" stroke-dasharray="4 4" stroke-dashoffset="1" shape-rendering="crispEdges"/>
<line x1="187.5" y1="1025" x2="187.5" y2="1200" stroke="#000" stroke-opacity="0.09" stroke-width="1" stroke-dasharray="4 4" stroke-dashoffset="1" shape-rendering="crispEdges"/>
<line x1="203.5" y1="1025" x2="203.5" y2="1200" stroke="#000" stroke-opacity="0.024" stroke-width="1" stroke-dasharray="4 4" stroke-dashoffset="1" shape-rendering="crispEdges"/>
<line x1="219.5" y1="1025" x2="219.5" y2="1200" stroke="#000" stroke-opacity="0.024" stroke-width="1" stroke-dasharray="4 4" stroke-dashoffset="1" shape-rendering="crispEdges"/>
<line x1="235.5" y1="1025" x2="235.5" y2="1200" stroke="#000" stroke-opacity="0.024" stroke-width="1" stroke-dasharray="4 4" stroke-dashoffset="1" shape-rendering="crispEdges"/>
<line x1="251.5" y1="1025" x2="251.5" y2="1200" stroke="#000" stroke-opacity="0.024" stroke-width="1" stroke-dasharray="4 4" stroke-dashoffset="1" shape-rendering="crispEdges"/>
<line x1="267.5" y1="1025" x2="267.5" y2="1200" stroke="#000" stroke-opacity="0.09" stroke-width="1" stroke-dasharray="4 4" stroke-dashoffset="1" shape-rendering="crispEdges"/>
<line x1="282.5" y1="1025" x2="282.5" y2="1200" stroke="#000" stroke-opacity="0.024" stroke-width="1" stroke-dasharray="4 4" stroke-dashoffset="1" shape-rendering="crispEdges"/>
<line x1="298.5" y1="1025" x2="298.5" y2="1200" stroke="#000" stroke-opacity="0.024" stroke-width="1" stroke-dasharray="4 4" stroke-dashoffset="1" shape-rendering="crispEdges"/>
<line x1="314.5" y1="1025" x2="314.5" y2="1200" stroke="#000" stroke-opacity="0.024" stroke-width="1" stroke-dasharray="4 4" stroke-dashoffset="1" shape-rendering="crispEdges"/>
<line x1="330.5" y1="1025" x2="330.5" y2="1200" stroke="#000" stroke-opacity="0.024" stroke-width="1" stroke-dasharray="4 4" stroke-dashoffset="1" shape-rendering="crispEdges"/>
<line x1="346.5" y1="1025" x2="346.5" y2="1200" stroke="#000" stroke-opacity="0.09" stroke-width="1" stroke-dasharray="4 4" stroke-dashoffset="1" shape-rendering="crispEdges"/>
<line x1="362.5" y1="1025" x2="362.5" y2="1200" stroke="#000" stroke-opacity="0.024" stroke-width="1" stroke-dasharray="4 4" stroke-dashoffset="1" shape-rendering="crispEdges"/>
<line x1="378.5" y1="1025" x2="378.5" y2="1200" stroke="#000" stroke-opacity="0.024" stroke-width="1" stroke-dasharray="4 4" stroke-dashoffset="1" shape-rendering="crispEdges"/>
<line x1="394.5" y1="1025" x2="394.5" y2="1200" stroke="#000" stroke-opacity="0.024" stroke-width="1" stroke-dasharray="4 4" stroke-dashoffset="1" shape-rendering="crispEdges"/>
<line x1="410.5" y1="1025" x2="410.5" y2="1200" stroke="#000" stroke-opacity="0.024" stroke-width="1" stroke-dasharray="4 4" stroke-dashoffset="1" shape-rendering="crispEdges"/>
<line x1="426.5" y1="1025" x2="426.5" y2="1200" stroke="#000" stroke-opacity="0.09" stroke-width="1" stroke-dasharray="4 4" stroke-dashoffset="1" shape-rendering="crispEdges"/>
<line x1="442.5" y1="1025" x2="442.5" y2="1200" stroke="#000" stroke-opacity="0.024" stroke-width="1" stroke-dasharray="4 4" stroke-dashoffset="1" shape-rendering="crispEdges"/>
<line x1="457.5" y1="1025" x2="457.5" y2="1200" stroke="#000" stroke-opacity="0.024" stroke-width="1" stroke-dasharray="4 4" stroke-dashoffset="1" shape-rendering="crispEdges"/>
<line x1="473.5" y1="1025" x2="473.5" y2="1200" stroke="#000" stroke-opacity="0.024" stroke-width="1" stroke-dasharray="4 4" stroke-dashoffset="1" shape-rendering="crispEdges"/>
<line x1="489.5" y1="1025" x2="489.5" y2="1200" stroke="#000" stroke-opacity="0.024" stroke-width="1" stroke-dasharray="4 4" stroke-dashoffset="1" shape-rendering="crispEdges"/>
<line x1="505.5" y1="1025" x2="505.5" y2="1200" stroke="#000" stroke-opacity="0.09" stroke-width="1" stroke-dasharray="4 4" stroke-dashoffset="1" shape-rendering="crispEdges"/>
<line x1="521.5" y1="1025" x2="521.5" y2="1200" stroke="#000" stroke-opacity="0.024" stroke-width="1" stroke-dasharray="4 4" stroke-dashoffset="1" shape-rendering="crispEdges"/>
<line x1="537.5" y1="1025" x2="537.5" y2="1200" stroke="#000" stroke-opacity="0.024" stroke-width="1" stroke-dasharray="4 4" stroke-dashoffset="1" shape-rendering="crispEdges"/>
<line x1="553.5" y1="1025" x2="553.5" y2="1200" stroke="#000" stroke-opacity="0.024" stroke-width="1" stroke-dasharray="4 4" stroke-dashoffset="1" shape-rendering="crispEdges"/>
<line x1="569.5" y1="1025" x2="569.5" y2="1200" stroke="#000" stroke-opacity="0.024" stroke-width="1" stroke-dasharray="4 4" stroke-dashoffset="1" shape-rendering="crispEdges"/>
<line x1="585.5" y1="1025" x2="585.5" y2="1200" stroke="#000" stroke-opacity="0.09" stroke-width="1" stroke-dasharray="4 4" stroke-dashoffset="1" shape-rendering="crispEdges"/>
<line x1="601.5" y1="1025" x2="601.5" y2="1200" stroke="#000" stroke-opacity="0.024" stroke-width="1" stroke-dasharray="4 4" stroke-dashoffset="1" shape-rendering="crispEdges"/>
<line x1="617.5" y1="1025" x2="617.5" y2="1200" stroke="#000" stroke-opacity="0.024" stroke-width="1" stroke-dasharray="4 4" stroke-dashoffset="1" shape-rendering="crispEdges"/>
<line x1="632.5" y1="1025" x2="632.5" y2="1200" stroke="#000" stroke-opacity="0.024" stroke-width="1" stroke-dasharray="4 4" stroke-dashoffset="1" shape-rendering="crispEdges"/>
<line x1="648.5" y1="1025" x2="648.5" y2="1200" stroke="#000" stroke-opacity="0.024" stroke-width="1" stroke-dasharray="4 4" stroke-dashoffset="1" shape-rendering="crispEdges"/>
<line x1="664.5" y1="1025" x2="664.5" y2="1200" stroke="#000" stroke-opacity="0.09" stroke-width="1" stroke-dasharray="4 4" stroke-dashoffset="1" shape-rendering="crispEdges"/>
<line x1="680.5" y1="1025" x2="680.5" y2="1200" stroke="#000" stroke-opacity="0.024" stroke-width="1" stroke-dasharray="4 4" stroke-dashoffset="1" shape-rendering="crispEdges"/>
<line x1="696.5" y1="1025" x2="696.5" y2="1200" stroke="#000" stroke-opacity="0.024" stroke-width="1" stroke-dasharray="4 4" stroke-dashoffset="1" shape-rendering="crispEdges"/>
<line x1="712.5" y1="1025" x2="712.5" y2="1200" stroke="#000" stroke-opacity="0.024" stroke-width="1" stroke-dasharray="4 4" stroke-dashoffset="1" shape-rendering="crispEdges"/>
<line x1="728.5" y1="1025" x2="728.5" y2="1200" stroke="#000" stroke-opacity="0.024" stroke-width="1" stroke-dasharray="4 4" stroke-dashoffset="1" shape-rendering="crispEdges"/>
<line x1="744.5" y1="1025" x2="744.5" y2="1200" stroke="#000" stroke-opacity="0.09" stroke-width="1" stroke-dasharray="4 4" stroke-dashoffset="1" shape-rendering="crispEdges"/>
<line x1="760.5" y1="1025" x2="760.5" y2="1200" stroke="#000" stroke-opacity="0.024" stroke-width="1" stroke-dasharray="4 4" stroke-dashoffset="1" shape-rendering="crispEdges"/>
<line x1="776.5" y1="1025" x2="776.5" y2="1200" stroke="#000" stroke-opacity="0.024" stroke-width="1" stroke-dasharray="4 4" stroke-dashoffset="1" shape-rendering="crispEdges"/>
<line x1="792.5" y1="1025" x2="792.5" y2="1200" stroke="#000" stroke-opacity="0.024" stroke-width="1" stroke-dasharray="4 4" stroke-dashoffset="1" shape-rendering="crispEdges"/>
<line x1="807.5" y1="1025" x2="807.5" y2="1200" stroke="#000" stroke-opacity="0.024" stroke-width="1" stroke-dasharray="4 4" stroke-dashoffset="1" shape-rendering="crispEdges"/>
<line x1="823.5" y1="1025" x2="823.5" y2="1200" stroke="#000" stroke-opacity="0.09" stroke-width="1" stroke-dasharray="4 4" stroke-dashoffset="1" shape-rendering="crispEdges"/>
<line x1="839.5" y1="1025" x2="839.5" y2="1200" stroke="#000" stroke-opacity="0.024" stroke-width="1" stroke-dasharray="4 4" stroke-dashoffset="1" shape-rendering="crispEdges"/>
<line x1="855.5" y1="1025" x2="855.5" y2="1200" stroke="#000" stroke-opacity="0.024" stroke-width="1" stroke-dasharray="4 4" stroke-dashoffset="1" shape-rendering="crispEdges"/>
<line x1="871.5" y1="1025" x2="871.5" y2="1200" stroke="#000" stroke-opacity="0.024" stroke-width="1" stroke-dasharray="4 4" stroke-dashoffset="1" shape-rendering="crispEdges"/>
<line x1="887.5" y1="1025" x2="887.5" y2="1200" stroke="#000" stroke-opacity="0.024" stroke-width="1" stroke-dasharray="4 4" stroke-dashoffset="1" shape-rendering="crispEdges"/>
<line x1="903.5" y1="1025" x2="903.5" y2="1200" stroke="#000" stroke-opacity="0.09" stroke-width="1" stroke-dasharray="4 4" stroke-dashoffset="1" shape-rendering="crispEdges"/>
<line x1="919.5" y1="1025" x2="919.5" y2="1200" stroke="#000" stroke-opacity="0.024" stroke-width="1" stroke-dasharray="4 4" stroke-dashoffset="1" shape-rendering="crispEdges"/>
<line x1="935.5" y1="1025" x2="935.5" y2="1200" stroke="#000" stroke-opacity="0.024" stroke-width="1" stroke-dasharray="4 4" stroke-dashoffset="1" shape-rendering="crispEdges"/>
<line x1="951.5" y1="1025" x2="951.5" y2="1200" stroke="#000" stroke-opacity="0.024" stroke-width="1" stroke-dasharray="4 4" stroke-dashoffset="1" shape-rendering="crispEdges"/>
<line x1="967.5" y1="1025" x2="967.5" y2="1200" stroke="#000" stroke-opacity="0.024" stroke-width="1" stroke-dasharray="4 4" stroke-dashoffset="1" shape-rendering="crispEdges"/>
<line x1="982.5" y1="1025" x2="982.5" y2="1200" stroke="#000" stroke-opacity="0.09" stroke-width="1" stroke-dasharray="4 4" stroke-dashoffset="1" shape-rendering="crispEdges"/>
<line x1="998.5" y1="1025" x2="998.5" y2="1200" stroke="#000" stroke-opacity="0.024" stroke-width="1" stroke-dasharray="4 4" stroke-dashoffset="1" shape-rendering="crispEdges"/>
<line x1="1014.5" y1="1025" x2="1014.5" y2="1200" stroke="#000" stroke-opacity="0.024" stroke-width="1" stroke-dasharray="4 4" stroke-dashoffset="1" shape-rendering="crispEdges"/>
<line x1="1030.5" y1="1025" x2="1030.5" y2="1200" stroke="#000" stroke-opacity="0.024" stroke-width="1" stroke-dasharray="4 4" stroke-dashoffset="1" shape-rendering="crispEdges"/>
<line x1="1046.5" y1="1025" x2="1046.5" y2="1200" stroke="#000" stroke-opacity="0.024" stroke-width="1" stroke-dasharray="4 4" stroke-dashoffset="1" shape-rendering="crispEdges"/>
<line x1="1062.5" y1="1025" x2="1062.5" y2="1200" stroke="#000" stroke-opacity="0.09" stroke-width="1" stroke-dasharray="4 4" stroke-dashoffset="1" shape-rendering="crispEdges"/>
<line x1="1078.5" y1="1025" x2="1078.5" y2="1200" stroke="#000" stroke-opacity="0.024" stroke-width="1" stroke-dasharray="4 4" stroke-dashoffset="1" shape-rendering="crispEdges"/>
<line x1="1094.5" y1="1025" x2="1094.5" y2="1200" stroke="#000" stroke-opacity="0.024" stroke-width="1" stroke-dasharray="4 4" stroke-dashoffset="1" shape-rendering="crispEdges"/>
<line x1="1110.5" y1="1025" x2="1110.5" y2="1200" stroke="#000" stroke-opacity="0.024" stroke-width="1" stroke-dasharray="4 4" stroke-dashoffset="1" shape-rendering="crispEdges"/>
<line x1="1126.5" y1="1025" x2="1126.5" y2="1200" stroke="#000" stroke-opacity="0.024" stroke-width="1" stroke-dasharray="4 4" stroke-dashoffset="1" shape-rendering="crispEdges"/>
<line x1="1142.5" y1="1025" x2="1142.5" y2="1200" stroke="#000" stroke-opacity="0.09" stroke-width="1" stroke-dasharray="4 4" stroke-dashoffset="1" shape-rendering="crispEdges"/>
<line x1="107" y1="1025.5" x2="1151" y2="1025.5" stroke="#000" stroke-opacity="0.085" stroke-width="1" stroke-dasharray="4 4" shape-rendering="crispEdges"/>
<line x1="107" y1="1060.5" x2="1151" y2="1060.5" stroke="#000" stroke-opacity="0.085" stroke-width="1" stroke-dasharray="4 4" shape-rendering="crispEdges"/>
<line x1="107" y1="1095.5" x2="1151" y2="1095.5" stroke="#000" stroke-opacity="0.085" stroke-width="1" stroke-dasharray="4 4" shape-rendering="crispEdges"/>
<line x1="107" y1="1130.5" x2="1151" y2="1130.5" stroke="#000" stroke-opacity="0.085" stroke-width="1" stroke-dasharray="4 4" shape-rendering="crispEdges"/>
<line x1="107" y1="1165.5" x2="1151" y2="1165.5" stroke="#000" stroke-opacity="0.085" stroke-width="1" stroke-dasharray="4 4" shape-rendering="crispEdges"/>
<line x1="107" y1="1112.5" x2="1143" y2="1112.5" stroke="#5a5a5a" stroke-width="1" shape-rendering="crispEdges"/>
<path d="M107.95 1105.33 L123.86 1105.33 L139.77 1101.33 L155.68 1098.00 L171.59 1102.67 L187.50 1103.67 L203.40 1105.33 L219.31 1105.33 L235.22 1105.33 L251.13 1102.67 L267.04 1094.33 L282.95 1098.33 L298.86 1094.33 L314.77 1097.33 L330.68 1095.33 L346.59 1097.00 L362.49 1095.67 L378.40 1094.33 L394.31 1101.67 L410.22 1082.33 L426.13 1081.33 L442.04 1076.00 L457.95 1073.33 L473.86 1079.33 L489.77 1072.67 L505.68 1066.00 L521.58 1070.00 L537.49 1075.00 L553.40 1078.67 L569.31 1083.33 L585.22 1080.00 L601.13 1070.00 L617.04 1066.00 L632.95 1082.33 L648.86 1077.33 L664.77 1071.67 L680.67 1065.00 L696.58 1048.33 L712.49 1047.33 L728.40 1051.33 L744.31 1047.33 L760.22 1043.33 L776.13 1039.67 L792.04 1039.33 L807.95 1039.33 L823.86 1037.33 L839.76 1052.33 L855.67 1056.67 L871.58 1069.33 L887.49 1069.33 L903.40 1068.00 L919.31 1067.33 L935.22 1075.00 L951.13 1086.67 L967.04 1097.33 L982.95 1088.67 L998.85 1085.00 L1014.76 1082.00 L1030.67 1076.00 L1046.58 1075.33 L1062.49 1075.33 L1078.40 1074.67 L1094.31 1074.33 L1110.22 1070.00 L1126.13 1064.67 L1142.04 1059.00" fill="none" stroke="#ff3c3c" stroke-width="1" stroke-opacity="1" stroke-linejoin="round" shape-rendering="crispEdges"/>
<rect x="100" y="1018" width="1" height="183" fill="#000" shape-rendering="crispEdges"/>
<rect x="98" y="1200" width="1059" height="1" fill="#000" shape-rendering="crispEdges"/>
<path d="M100.5 1012.5 L104 1019 L97 1019 Z" fill="#000"/>
<path d="M1162.5 1200.5 L1155.5 1197 L1155.5 1204 Z" fill="#000"/>
<rect x="98" y="1025" width="5" height="1" fill="#000" shape-rendering="crispEdges"/>
<rect x="98" y="1042" width="2" height="1" fill="#f00" shape-rendering="crispEdges"/>
<text x="98.30" y="1030.00" font-size="11.3" text-anchor="end" textLength="38.00" lengthAdjust="spacingAndGlyphs" fill="#000" stroke="#000" stroke-width="0.09">100.00</text>
<rect x="98" y="1060" width="5" height="1" fill="#000" shape-rendering="crispEdges"/>
<rect x="98" y="1077" width="2" height="1" fill="#f00" shape-rendering="crispEdges"/>
<text x="98.30" y="1065.00" font-size="11.3" text-anchor="end" textLength="31.00" lengthAdjust="spacingAndGlyphs" fill="#000" stroke="#000" stroke-width="0.09">80.00</text>
<rect x="98" y="1095" width="5" height="1" fill="#000" shape-rendering="crispEdges"/>
<rect x="98" y="1112" width="2" height="1" fill="#f00" shape-rendering="crispEdges"/>
<text x="98.30" y="1100.00" font-size="11.3" text-anchor="end" textLength="31.00" lengthAdjust="spacingAndGlyphs" fill="#000" stroke="#000" stroke-width="0.09">60.00</text>
<rect x="98" y="1130" width="5" height="1" fill="#000" shape-rendering="crispEdges"/>
<rect x="98" y="1147" width="2" height="1" fill="#f00" shape-rendering="crispEdges"/>
<text x="98.30" y="1135.00" font-size="11.3" text-anchor="end" textLength="31.00" lengthAdjust="spacingAndGlyphs" fill="#000" stroke="#000" stroke-width="0.09">40.00</text>
<rect x="98" y="1165" width="5" height="1" fill="#000" shape-rendering="crispEdges"/>
<rect x="98" y="1182" width="2" height="1" fill="#f00" shape-rendering="crispEdges"/>
<text x="98.30" y="1170.00" font-size="11.3" text-anchor="end" textLength="31.00" lengthAdjust="spacingAndGlyphs" fill="#000" stroke="#000" stroke-width="0.09">20.00</text>
<rect x="98" y="1200" width="5" height="1" fill="#000" shape-rendering="crispEdges"/>
<text x="98.30" y="1205.00" font-size="11.3" text-anchor="end" textLength="24.00" lengthAdjust="spacingAndGlyphs" fill="#000" stroke="#000" stroke-width="0.09">0.00</text>
<rect x="107" y="1198" width="1" height="5" fill="#000" shape-rendering="crispEdges"/>
<text x="108.80" y="1215.00" font-size="11.3" text-anchor="middle" textLength="36.20" lengthAdjust="spacingAndGlyphs" fill="#000" stroke="#000" stroke-width="0.09">24 Fév</text>
<rect x="123" y="1201" width="1" height="2" fill="#e6e6e6" shape-rendering="crispEdges"/>
<rect x="139" y="1201" width="1" height="2" fill="#e6e6e6" shape-rendering="crispEdges"/>
<rect x="155" y="1201" width="1" height="2" fill="#e6e6e6" shape-rendering="crispEdges"/>
<rect x="171" y="1201" width="1" height="2" fill="#e6e6e6" shape-rendering="crispEdges"/>
<rect x="187" y="1198" width="1" height="5" fill="#000" shape-rendering="crispEdges"/>
<text x="188.80" y="1213.60" font-size="11.3" text-anchor="middle" textLength="37.50" lengthAdjust="spacingAndGlyphs" fill="#000" stroke="#000" stroke-width="0.09">3 Mars</text>
<rect x="203" y="1201" width="1" height="2" fill="#e6e6e6" shape-rendering="crispEdges"/>
<rect x="219" y="1201" width="1" height="2" fill="#e6e6e6" shape-rendering="crispEdges"/>
<rect x="235" y="1201" width="1" height="2" fill="#e6e6e6" shape-rendering="crispEdges"/>
<rect x="251" y="1201" width="1" height="2" fill="#e6e6e6" shape-rendering="crispEdges"/>
<rect x="267" y="1198" width="1" height="5" fill="#000" shape-rendering="crispEdges"/>
<text x="268.80" y="1213.60" font-size="11.3" text-anchor="middle" textLength="44.50" lengthAdjust="spacingAndGlyphs" fill="#000" stroke="#000" stroke-width="0.09">10 Mars</text>
<rect x="282" y="1201" width="1" height="2" fill="#e6e6e6" shape-rendering="crispEdges"/>
<rect x="298" y="1201" width="1" height="2" fill="#e6e6e6" shape-rendering="crispEdges"/>
<rect x="314" y="1201" width="1" height="2" fill="#e6e6e6" shape-rendering="crispEdges"/>
<rect x="330" y="1201" width="1" height="2" fill="#e6e6e6" shape-rendering="crispEdges"/>
<rect x="346" y="1198" width="1" height="5" fill="#000" shape-rendering="crispEdges"/>
<text x="347.80" y="1213.60" font-size="11.3" text-anchor="middle" textLength="44.50" lengthAdjust="spacingAndGlyphs" fill="#000" stroke="#000" stroke-width="0.09">17 Mars</text>
<rect x="362" y="1201" width="1" height="2" fill="#e6e6e6" shape-rendering="crispEdges"/>
<rect x="378" y="1201" width="1" height="2" fill="#e6e6e6" shape-rendering="crispEdges"/>
<rect x="394" y="1201" width="1" height="2" fill="#e6e6e6" shape-rendering="crispEdges"/>
<rect x="410" y="1201" width="1" height="2" fill="#e6e6e6" shape-rendering="crispEdges"/>
<rect x="426" y="1198" width="1" height="5" fill="#000" shape-rendering="crispEdges"/>
<text x="427.80" y="1213.60" font-size="11.3" text-anchor="middle" textLength="44.50" lengthAdjust="spacingAndGlyphs" fill="#000" stroke="#000" stroke-width="0.09">24 Mars</text>
<rect x="442" y="1201" width="1" height="2" fill="#e6e6e6" shape-rendering="crispEdges"/>
<rect x="457" y="1201" width="1" height="2" fill="#e6e6e6" shape-rendering="crispEdges"/>
<rect x="473" y="1201" width="1" height="2" fill="#e6e6e6" shape-rendering="crispEdges"/>
<rect x="489" y="1201" width="1" height="2" fill="#e6e6e6" shape-rendering="crispEdges"/>
<rect x="505" y="1198" width="1" height="5" fill="#000" shape-rendering="crispEdges"/>
<text x="506.80" y="1213.60" font-size="11.3" text-anchor="middle" textLength="44.50" lengthAdjust="spacingAndGlyphs" fill="#000" stroke="#000" stroke-width="0.09">31 Mars</text>
<rect x="521" y="1201" width="1" height="2" fill="#e6e6e6" shape-rendering="crispEdges"/>
<rect x="537" y="1201" width="1" height="2" fill="#e6e6e6" shape-rendering="crispEdges"/>
<rect x="553" y="1201" width="1" height="2" fill="#e6e6e6" shape-rendering="crispEdges"/>
<rect x="569" y="1201" width="1" height="2" fill="#e6e6e6" shape-rendering="crispEdges"/>
<rect x="585" y="1198" width="1" height="5" fill="#000" shape-rendering="crispEdges"/>
<text x="586.80" y="1213.60" font-size="11.3" text-anchor="middle" textLength="36.50" lengthAdjust="spacingAndGlyphs" fill="#000" stroke="#000" stroke-width="0.09">11 Avr</text>
<rect x="601" y="1201" width="1" height="2" fill="#e6e6e6" shape-rendering="crispEdges"/>
<rect x="617" y="1201" width="1" height="2" fill="#e6e6e6" shape-rendering="crispEdges"/>
<rect x="632" y="1201" width="1" height="2" fill="#e6e6e6" shape-rendering="crispEdges"/>
<rect x="648" y="1201" width="1" height="2" fill="#e6e6e6" shape-rendering="crispEdges"/>
<rect x="664" y="1198" width="1" height="5" fill="#000" shape-rendering="crispEdges"/>
<text x="665.80" y="1213.60" font-size="11.3" text-anchor="middle" textLength="36.50" lengthAdjust="spacingAndGlyphs" fill="#000" stroke="#000" stroke-width="0.09">20 Avr</text>
<rect x="680" y="1201" width="1" height="2" fill="#e6e6e6" shape-rendering="crispEdges"/>
<rect x="696" y="1201" width="1" height="2" fill="#e6e6e6" shape-rendering="crispEdges"/>
<rect x="712" y="1201" width="1" height="2" fill="#e6e6e6" shape-rendering="crispEdges"/>
<rect x="728" y="1201" width="1" height="2" fill="#e6e6e6" shape-rendering="crispEdges"/>
<rect x="744" y="1198" width="1" height="5" fill="#000" shape-rendering="crispEdges"/>
<text x="745.80" y="1213.60" font-size="11.3" text-anchor="middle" textLength="36.50" lengthAdjust="spacingAndGlyphs" fill="#000" stroke="#000" stroke-width="0.09">27 Avr</text>
<rect x="760" y="1201" width="1" height="2" fill="#e6e6e6" shape-rendering="crispEdges"/>
<rect x="776" y="1201" width="1" height="2" fill="#e6e6e6" shape-rendering="crispEdges"/>
<rect x="792" y="1201" width="1" height="2" fill="#e6e6e6" shape-rendering="crispEdges"/>
<rect x="807" y="1201" width="1" height="2" fill="#e6e6e6" shape-rendering="crispEdges"/>
<rect x="823" y="1198" width="1" height="5" fill="#000" shape-rendering="crispEdges"/>
<text x="824.80" y="1213.60" font-size="11.3" text-anchor="middle" textLength="29.50" lengthAdjust="spacingAndGlyphs" fill="#000" stroke="#000" stroke-width="0.09">5 Mai</text>
<rect x="839" y="1201" width="1" height="2" fill="#e6e6e6" shape-rendering="crispEdges"/>
<rect x="855" y="1201" width="1" height="2" fill="#e6e6e6" shape-rendering="crispEdges"/>
<rect x="871" y="1201" width="1" height="2" fill="#e6e6e6" shape-rendering="crispEdges"/>
<rect x="887" y="1201" width="1" height="2" fill="#e6e6e6" shape-rendering="crispEdges"/>
<rect x="903" y="1198" width="1" height="5" fill="#000" shape-rendering="crispEdges"/>
<text x="904.80" y="1213.60" font-size="11.3" text-anchor="middle" textLength="36.50" lengthAdjust="spacingAndGlyphs" fill="#000" stroke="#000" stroke-width="0.09">12 Mai</text>
<rect x="919" y="1201" width="1" height="2" fill="#e6e6e6" shape-rendering="crispEdges"/>
<rect x="935" y="1201" width="1" height="2" fill="#e6e6e6" shape-rendering="crispEdges"/>
<rect x="951" y="1201" width="1" height="2" fill="#e6e6e6" shape-rendering="crispEdges"/>
<rect x="967" y="1201" width="1" height="2" fill="#e6e6e6" shape-rendering="crispEdges"/>
<rect x="982" y="1198" width="1" height="5" fill="#000" shape-rendering="crispEdges"/>
<text x="983.80" y="1213.60" font-size="11.3" text-anchor="middle" textLength="36.50" lengthAdjust="spacingAndGlyphs" fill="#000" stroke="#000" stroke-width="0.09">19 Mai</text>
<rect x="998" y="1201" width="1" height="2" fill="#e6e6e6" shape-rendering="crispEdges"/>
<rect x="1014" y="1201" width="1" height="2" fill="#e6e6e6" shape-rendering="crispEdges"/>
<rect x="1030" y="1201" width="1" height="2" fill="#e6e6e6" shape-rendering="crispEdges"/>
<rect x="1046" y="1201" width="1" height="2" fill="#e6e6e6" shape-rendering="crispEdges"/>
<rect x="1062" y="1198" width="1" height="5" fill="#000" shape-rendering="crispEdges"/>
<text x="1063.80" y="1213.60" font-size="11.3" text-anchor="middle" textLength="36.50" lengthAdjust="spacingAndGlyphs" fill="#000" stroke="#000" stroke-width="0.09">26 Mai</text>
<rect x="1078" y="1201" width="1" height="2" fill="#e6e6e6" shape-rendering="crispEdges"/>
<rect x="1094" y="1201" width="1" height="2" fill="#e6e6e6" shape-rendering="crispEdges"/>
<rect x="1110" y="1201" width="1" height="2" fill="#e6e6e6" shape-rendering="crispEdges"/>
<rect x="1126" y="1201" width="1" height="2" fill="#e6e6e6" shape-rendering="crispEdges"/>
<rect x="1142" y="1198" width="1" height="5" fill="#000" shape-rendering="crispEdges"/>
<text x="1143.80" y="1213.60" font-size="11.3" text-anchor="middle" textLength="33.50" lengthAdjust="spacingAndGlyphs" fill="#000" stroke="#000" stroke-width="0.09">2 Juin</text>
<text x="627.40" y="1225.00" font-size="11.3" text-anchor="middle" textLength="236.50" lengthAdjust="spacingAndGlyphs" fill="#000" stroke="#000" stroke-width="0.09">Date (du 24 Février 2017 au 2 Juin 2017)</text>
<text transform="translate(58,1110.5) rotate(-90)" font-size="11.3" text-anchor="middle" textLength="20" lengthAdjust="spacingAndGlyphs">RSI</text>
<text x="111.20" y="994.7" font-size="24.3" textLength="45.30" lengthAdjust="spacingAndGlyphs" stroke="#000" stroke-width="0.15">Seb</text>
<text x="156.22" y="994.7" font-size="24.3" textLength="10.56" lengthAdjust="spacingAndGlyphs" stroke="#000" stroke-width="0.15">:</text>
<text x="174.50" y="994.7" font-size="24.3" textLength="120.00" lengthAdjust="spacingAndGlyphs" stroke="#000" stroke-width="0.15">graphique</text>
<text x="301.60" y="994.7" font-size="24.3" textLength="29.90" lengthAdjust="spacingAndGlyphs" stroke="#000" stroke-width="0.15">du</text>
<text x="340.10" y="994.7" font-size="24.3" textLength="42.80" lengthAdjust="spacingAndGlyphs" stroke="#000" stroke-width="0.15">RSI</text>
<text x="391.46" y="994.7" font-size="24.3" textLength="10.29" lengthAdjust="spacingAndGlyphs" stroke="#000" stroke-width="0.15">-</text>
<text x="410.60" y="994.7" font-size="24.3" textLength="94.80" lengthAdjust="spacingAndGlyphs" stroke="#000" stroke-width="0.15">RSI(14)</text>
<text x="513.76" y="994.7" font-size="24.3" textLength="10.29" lengthAdjust="spacingAndGlyphs" stroke="#000" stroke-width="0.15">-</text>
<text x="531.90" y="994.7" font-size="24.3" textLength="207.70" lengthAdjust="spacingAndGlyphs" stroke="#000" stroke-width="0.15">AnalyBourse.com</text>
<rect x="101" y="1350" width="1050" height="26" fill="#f8f8f8" shape-rendering="crispEdges"/>
<rect x="101" y="1400" width="1050" height="26" fill="#f8f8f8" shape-rendering="crispEdges"/>
<rect x="101" y="1450" width="1050" height="26" fill="#f8f8f8" shape-rendering="crispEdges"/>
<line x1="107.5" y1="1325" x2="107.5" y2="1500" stroke="#000" stroke-opacity="0.09" stroke-width="1" stroke-dasharray="4 4" stroke-dashoffset="1" shape-rendering="crispEdges"/>
<line x1="123.5" y1="1325" x2="123.5" y2="1500" stroke="#000" stroke-opacity="0.024" stroke-width="1" stroke-dasharray="4 4" stroke-dashoffset="1" shape-rendering="crispEdges"/>
<line x1="139.5" y1="1325" x2="139.5" y2="1500" stroke="#000" stroke-opacity="0.024" stroke-width="1" stroke-dasharray="4 4" stroke-dashoffset="1" shape-rendering="crispEdges"/>
<line x1="155.5" y1="1325" x2="155.5" y2="1500" stroke="#000" stroke-opacity="0.024" stroke-width="1" stroke-dasharray="4 4" stroke-dashoffset="1" shape-rendering="crispEdges"/>
<line x1="171.5" y1="1325" x2="171.5" y2="1500" stroke="#000" stroke-opacity="0.024" stroke-width="1" stroke-dasharray="4 4" stroke-dashoffset="1" shape-rendering="crispEdges"/>
<line x1="187.5" y1="1325" x2="187.5" y2="1500" stroke="#000" stroke-opacity="0.09" stroke-width="1" stroke-dasharray="4 4" stroke-dashoffset="1" shape-rendering="crispEdges"/>
<line x1="203.5" y1="1325" x2="203.5" y2="1500" stroke="#000" stroke-opacity="0.024" stroke-width="1" stroke-dasharray="4 4" stroke-dashoffset="1" shape-rendering="crispEdges"/>
<line x1="219.5" y1="1325" x2="219.5" y2="1500" stroke="#000" stroke-opacity="0.024" stroke-width="1" stroke-dasharray="4 4" stroke-dashoffset="1" shape-rendering="crispEdges"/>
<line x1="235.5" y1="1325" x2="235.5" y2="1500" stroke="#000" stroke-opacity="0.024" stroke-width="1" stroke-dasharray="4 4" stroke-dashoffset="1" shape-rendering="crispEdges"/>
<line x1="251.5" y1="1325" x2="251.5" y2="1500" stroke="#000" stroke-opacity="0.024" stroke-width="1" stroke-dasharray="4 4" stroke-dashoffset="1" shape-rendering="crispEdges"/>
<line x1="267.5" y1="1325" x2="267.5" y2="1500" stroke="#000" stroke-opacity="0.09" stroke-width="1" stroke-dasharray="4 4" stroke-dashoffset="1" shape-rendering="crispEdges"/>
<line x1="282.5" y1="1325" x2="282.5" y2="1500" stroke="#000" stroke-opacity="0.024" stroke-width="1" stroke-dasharray="4 4" stroke-dashoffset="1" shape-rendering="crispEdges"/>
<line x1="298.5" y1="1325" x2="298.5" y2="1500" stroke="#000" stroke-opacity="0.024" stroke-width="1" stroke-dasharray="4 4" stroke-dashoffset="1" shape-rendering="crispEdges"/>
<line x1="314.5" y1="1325" x2="314.5" y2="1500" stroke="#000" stroke-opacity="0.024" stroke-width="1" stroke-dasharray="4 4" stroke-dashoffset="1" shape-rendering="crispEdges"/>
<line x1="330.5" y1="1325" x2="330.5" y2="1500" stroke="#000" stroke-opacity="0.024" stroke-width="1" stroke-dasharray="4 4" stroke-dashoffset="1" shape-rendering="crispEdges"/>
<line x1="346.5" y1="1325" x2="346.5" y2="1500" stroke="#000" stroke-opacity="0.09" stroke-width="1" stroke-dasharray="4 4" stroke-dashoffset="1" shape-rendering="crispEdges"/>
<line x1="362.5" y1="1325" x2="362.5" y2="1500" stroke="#000" stroke-opacity="0.024" stroke-width="1" stroke-dasharray="4 4" stroke-dashoffset="1" shape-rendering="crispEdges"/>
<line x1="378.5" y1="1325" x2="378.5" y2="1500" stroke="#000" stroke-opacity="0.024" stroke-width="1" stroke-dasharray="4 4" stroke-dashoffset="1" shape-rendering="crispEdges"/>
<line x1="394.5" y1="1325" x2="394.5" y2="1500" stroke="#000" stroke-opacity="0.024" stroke-width="1" stroke-dasharray="4 4" stroke-dashoffset="1" shape-rendering="crispEdges"/>
<line x1="410.5" y1="1325" x2="410.5" y2="1500" stroke="#000" stroke-opacity="0.024" stroke-width="1" stroke-dasharray="4 4" stroke-dashoffset="1" shape-rendering="crispEdges"/>
<line x1="426.5" y1="1325" x2="426.5" y2="1500" stroke="#000" stroke-opacity="0.09" stroke-width="1" stroke-dasharray="4 4" stroke-dashoffset="1" shape-rendering="crispEdges"/>
<line x1="442.5" y1="1325" x2="442.5" y2="1500" stroke="#000" stroke-opacity="0.024" stroke-width="1" stroke-dasharray="4 4" stroke-dashoffset="1" shape-rendering="crispEdges"/>
<line x1="457.5" y1="1325" x2="457.5" y2="1500" stroke="#000" stroke-opacity="0.024" stroke-width="1" stroke-dasharray="4 4" stroke-dashoffset="1" shape-rendering="crispEdges"/>
<line x1="473.5" y1="1325" x2="473.5" y2="1500" stroke="#000" stroke-opacity="0.024" stroke-width="1" stroke-dasharray="4 4" stroke-dashoffset="1" shape-rendering="crispEdges"/>
<line x1="489.5" y1="1325" x2="489.5" y2="1500" stroke="#000" stroke-opacity="0.024" stroke-width="1" stroke-dasharray="4 4" stroke-dashoffset="1" shape-rendering="crispEdges"/>
<line x1="505.5" y1="1325" x2="505.5" y2="1500" stroke="#000" stroke-opacity="0.09" stroke-width="1" stroke-dasharray="4 4" stroke-dashoffset="1" shape-rendering="crispEdges"/>
<line x1="521.5" y1="1325" x2="521.5" y2="1500" stroke="#000" stroke-opacity="0.024" stroke-width="1" stroke-dasharray="4 4" stroke-dashoffset="1" shape-rendering="crispEdges"/>
<line x1="537.5" y1="1325" x2="537.5" y2="1500" stroke="#000" stroke-opacity="0.024" stroke-width="1" stroke-dasharray="4 4" stroke-dashoffset="1" shape-rendering="crispEdges"/>
<line x1="553.5" y1="1325" x2="553.5" y2="1500" stroke="#000" stroke-opacity="0.024" stroke-width="1" stroke-dasharray="4 4" stroke-dashoffset="1" shape-rendering="crispEdges"/>
<line x1="569.5" y1="1325" x2="569.5" y2="1500" stroke="#000" stroke-opacity="0.024" stroke-width="1" stroke-dasharray="4 4" stroke-dashoffset="1" shape-rendering="crispEdges"/>
<line x1="585.5" y1="1325" x2="585.5" y2="1500" stroke="#000" stroke-opacity="0.09" stroke-width="1" stroke-dasharray="4 4" stroke-dashoffset="1" shape-rendering="crispEdges"/>
<line x1="601.5" y1="1325" x2="601.5" y2="1500" stroke="#000" stroke-opacity="0.024" stroke-width="1" stroke-dasharray="4 4" stroke-dashoffset="1" shape-rendering="crispEdges"/>
<line x1="617.5" y1="1325" x2="617.5" y2="1500" stroke="#000" stroke-opacity="0.024" stroke-width="1" stroke-dasharray="4 4" stroke-dashoffset="1" shape-rendering="crispEdges"/>
<line x1="632.5" y1="1325" x2="632.5" y2="1500" stroke="#000" stroke-opacity="0.024" stroke-width="1" stroke-dasharray="4 4" stroke-dashoffset="1" shape-rendering="crispEdges"/>
<line x1="648.5" y1="1325" x2="648.5" y2="1500" stroke="#000" stroke-opacity="0.024" stroke-width="1" stroke-dasharray="4 4" stroke-dashoffset="1" shape-rendering="crispEdges"/>
<line x1="664.5" y1="1325" x2="664.5" y2="1500" stroke="#000" stroke-opacity="0.09" stroke-width="1" stroke-dasharray="4 4" stroke-dashoffset="1" shape-rendering="crispEdges"/>
<line x1="680.5" y1="1325" x2="680.5" y2="1500" stroke="#000" stroke-opacity="0.024" stroke-width="1" stroke-dasharray="4 4" stroke-dashoffset="1" shape-rendering="crispEdges"/>
<line x1="696.5" y1="1325" x2="696.5" y2="1500" stroke="#000" stroke-opacity="0.024" stroke-width="1" stroke-dasharray="4 4" stroke-dashoffset="1" shape-rendering="crispEdges"/>
<line x1="712.5" y1="1325" x2="712.5" y2="1500" stroke="#000" stroke-opacity="0.024" stroke-width="1" stroke-dasharray="4 4" stroke-dashoffset="1" shape-rendering="crispEdges"/>
<line x1="728.5" y1="1325" x2="728.5" y2="1500" stroke="#000" stroke-opacity="0.024" stroke-width="1" stroke-dasharray="4 4" stroke-dashoffset="1" shape-rendering="crispEdges"/>
<line x1="744.5" y1="1325" x2="744.5" y2="1500" stroke="#000" stroke-opacity="0.09" stroke-width="1" stroke-dasharray="4 4" stroke-dashoffset="1" shape-rendering="crispEdges"/>
<line x1="760.5" y1="1325" x2="760.5" y2="1500" stroke="#000" stroke-opacity="0.024" stroke-width="1" stroke-dasharray="4 4" stroke-dashoffset="1" shape-rendering="crispEdges"/>
<line x1="776.5" y1="1325" x2="776.5" y2="1500" stroke="#000" stroke-opacity="0.024" stroke-width="1" stroke-dasharray="4 4" stroke-dashoffset="1" shape-rendering="crispEdges"/>
<line x1="792.5" y1="1325" x2="792.5" y2="1500" stroke="#000" stroke-opacity="0.024" stroke-width="1" stroke-dasharray="4 4" stroke-dashoffset="1" shape-rendering="crispEdges"/>
<line x1="807.5" y1="1325" x2="807.5" y2="1500" stroke="#000" stroke-opacity="0.024" stroke-width="1" stroke-dasharray="4 4" stroke-dashoffset="1" shape-rendering="crispEdges"/>
<line x1="823.5" y1="1325" x2="823.5" y2="1500" stroke="#000" stroke-opacity="0.09" stroke-width="1" stroke-dasharray="4 4" stroke-dashoffset="1" shape-rendering="crispEdges"/>
<line x1="839.5" y1="1325" x2="839.5" y2="1500" stroke="#000" stroke-opacity="0.024" stroke-width="1" stroke-dasharray="4 4" stroke-dashoffset="1" shape-rendering="crispEdges"/>
<line x1="855.5" y1="1325" x2="855.5" y2="1500" stroke="#000" stroke-opacity="0.024" stroke-width="1" stroke-dasharray="4 4" stroke-dashoffset="1" shape-rendering="crispEdges"/>
<line x1="871.5" y1="1325" x2="871.5" y2="1500" stroke="#000" stroke-opacity="0.024" stroke-width="1" stroke-dasharray="4 4" stroke-dashoffset="1" shape-rendering="crispEdges"/>
<line x1="887.5" y1="1325" x2="887.5" y2="1500" stroke="#000" stroke-opacity="0.024" stroke-width="1" stroke-dasharray="4 4" stroke-dashoffset="1" shape-rendering="crispEdges"/>
<line x1="903.5" y1="1325" x2="903.5" y2="1500" stroke="#000" stroke-opacity="0.09" stroke-width="1" stroke-dasharray="4 4" stroke-dashoffset="1" shape-rendering="crispEdges"/>
<line x1="919.5" y1="1325" x2="919.5" y2="1500" stroke="#000" stroke-opacity="0.024" stroke-width="1" stroke-dasharray="4 4" stroke-dashoffset="1" shape-rendering="crispEdges"/>
<line x1="935.5" y1="1325" x2="935.5" y2="1500" stroke="#000" stroke-opacity="0.024" stroke-width="1" stroke-dasharray="4 4" stroke-dashoffset="1" shape-rendering="crispEdges"/>
<line x1="951.5" y1="1325" x2="951.5" y2="1500" stroke="#000" stroke-opacity="0.024" stroke-width="1" stroke-dasharray="4 4" stroke-dashoffset="1" shape-rendering="crispEdges"/>
<line x1="967.5" y1="1325" x2="967.5" y2="1500" stroke="#000" stroke-opacity="0.024" stroke-width="1" stroke-dasharray="4 4" stroke-dashoffset="1" shape-rendering="crispEdges"/>
<line x1="982.5" y1="1325" x2="982.5" y2="1500" stroke="#000" stroke-opacity="0.09" stroke-width="1" stroke-dasharray="4 4" stroke-dashoffset="1" shape-rendering="crispEdges"/>
<line x1="998.5" y1="1325" x2="998.5" y2="1500" stroke="#000" stroke-opacity="0.024" stroke-width="1" stroke-dasharray="4 4" stroke-dashoffset="1" shape-rendering="crispEdges"/>
<line x1="1014.5" y1="1325" x2="1014.5" y2="1500" stroke="#000" stroke-opacity="0.024" stroke-width="1" stroke-dasharray="4 4" stroke-dashoffset="1" shape-rendering="crispEdges"/>
<line x1="1030.5" y1="1325" x2="1030.5" y2="1500" stroke="#000" stroke-opacity="0.024" stroke-width="1" stroke-dasharray="4 4" stroke-dashoffset="1" shape-rendering="crispEdges"/>
<line x1="1046.5" y1="1325" x2="1046.5" y2="1500" stroke="#000" stroke-opacity="0.024" stroke-width="1" stroke-dasharray="4 4" stroke-dashoffset="1" shape-rendering="crispEdges"/>
<line x1="1062.5" y1="1325" x2="1062.5" y2="1500" stroke="#000" stroke-opacity="0.09" stroke-width="1" stroke-dasharray="4 4" stroke-dashoffset="1" shape-rendering="crispEdges"/>
<line x1="1078.5" y1="1325" x2="1078.5" y2="1500" stroke="#000" stroke-opacity="0.024" stroke-width="1" stroke-dasharray="4 4" stroke-dashoffset="1" shape-rendering="crispEdges"/>
<line x1="1094.5" y1="1325" x2="1094.5" y2="1500" stroke="#000" stroke-opacity="0.024" stroke-width="1" stroke-dasharray="4 4" stroke-dashoffset="1" shape-rendering="crispEdges"/>
<line x1="1110.5" y1="1325" x2="1110.5" y2="1500" stroke="#000" stroke-opacity="0.024" stroke-width="1" stroke-dasharray="4 4" stroke-dashoffset="1" shape-rendering="crispEdges"/>
<line x1="1126.5" y1="1325" x2="1126.5" y2="1500" stroke="#000" stroke-opacity="0.024" stroke-width="1" stroke-dasharray="4 4" stroke-dashoffset="1" shape-rendering="crispEdges"/>
<line x1="1142.5" y1="1325" x2="1142.5" y2="1500" stroke="#000" stroke-opacity="0.09" stroke-width="1" stroke-dasharray="4 4" stroke-dashoffset="1" shape-rendering="crispEdges"/>
<line x1="107" y1="1325.5" x2="1151" y2="1325.5" stroke="#000" stroke-opacity="0.085" stroke-width="1" stroke-dasharray="4 4" shape-rendering="crispEdges"/>
<line x1="107" y1="1350.5" x2="1151" y2="1350.5" stroke="#000" stroke-opacity="0.085" stroke-width="1" stroke-dasharray="4 4" shape-rendering="crispEdges"/>
<line x1="107" y1="1375.5" x2="1151" y2="1375.5" stroke="#000" stroke-opacity="0.085" stroke-width="1" stroke-dasharray="4 4" shape-rendering="crispEdges"/>
<line x1="107" y1="1400.5" x2="1151" y2="1400.5" stroke="#000" stroke-opacity="0.085" stroke-width="1" stroke-dasharray="4 4" shape-rendering="crispEdges"/>
<line x1="107" y1="1425.5" x2="1151" y2="1425.5" stroke="#000" stroke-opacity="0.085" stroke-width="1" stroke-dasharray="4 4" shape-rendering="crispEdges"/>
<line x1="107" y1="1450.5" x2="1151" y2="1450.5" stroke="#000" stroke-opacity="0.085" stroke-width="1" stroke-dasharray="4 4" shape-rendering="crispEdges"/>
<line x1="107" y1="1475.5" x2="1151" y2="1475.5" stroke="#000" stroke-opacity="0.085" stroke-width="1" stroke-dasharray="4 4" shape-rendering="crispEdges"/>
<clipPath id="cp"><rect x="0" y="1325" width="1200" height="101"/></clipPath>
<clipPath id="cn"><rect x="0" y="1426" width="1200" height="74"/></clipPath>
<path d="M107.95 1396.00 C110.60 1397.61 118.56 1403.33 123.86 1405.67 C129.16 1408.00 134.47 1408.83 139.77 1410.00 C145.07 1411.17 150.37 1411.56 155.68 1412.67 C160.98 1413.78 166.28 1415.22 171.59 1416.67 C176.89 1418.11 182.19 1420.00 187.50 1421.33 C192.80 1422.67 198.10 1423.78 203.40 1424.67 C208.71 1425.56 214.01 1426.06 219.31 1426.67 C224.62 1427.28 229.92 1428.11 235.22 1428.33 C240.53 1428.56 245.83 1428.39 251.13 1428.00 C256.43 1427.61 261.74 1426.50 267.04 1426.00 C272.34 1425.50 277.65 1425.17 282.95 1425.00 C288.25 1424.83 293.56 1425.00 298.86 1425.00 C304.16 1425.00 309.46 1425.00 314.77 1425.00 C320.07 1425.00 325.37 1425.00 330.68 1425.00 C335.98 1425.00 341.28 1425.00 346.59 1425.00 C351.89 1425.00 357.19 1424.94 362.49 1425.00 C367.80 1425.06 373.10 1425.00 378.40 1425.33 C383.71 1425.67 389.01 1427.22 394.31 1427.00 C399.62 1426.78 404.92 1425.28 410.22 1424.00 C415.52 1422.72 420.83 1420.78 426.13 1419.33 C431.43 1417.89 436.74 1416.50 442.04 1415.33 C447.34 1414.17 452.64 1412.72 457.95 1412.33 C463.25 1411.94 468.55 1413.22 473.86 1413.00 C479.16 1412.78 484.46 1412.06 489.77 1411.00 C495.07 1409.94 500.37 1407.44 505.68 1406.67 C510.98 1405.89 516.28 1405.89 521.58 1406.33 C526.89 1406.78 532.19 1408.11 537.49 1409.33 C542.80 1410.56 548.10 1412.28 553.40 1413.67 C558.71 1415.06 564.01 1416.61 569.31 1417.67 C574.61 1418.72 579.92 1419.89 585.22 1420.00 C590.52 1420.11 595.83 1419.11 601.13 1418.33 C606.43 1417.56 611.74 1415.39 617.04 1415.33 C622.34 1415.28 627.64 1417.39 632.95 1418.00 C638.25 1418.61 643.55 1419.11 648.86 1419.00 C654.16 1418.89 659.46 1418.56 664.77 1417.33 C670.07 1416.11 675.37 1416.89 680.67 1411.67 C685.98 1406.44 691.28 1392.39 696.58 1386.00 C701.89 1379.61 707.19 1376.28 712.49 1373.33 C717.80 1370.39 723.10 1370.11 728.40 1368.33 C733.70 1366.56 739.01 1365.17 744.31 1362.67 C749.61 1360.17 754.92 1357.28 760.22 1353.33 C765.52 1349.39 770.83 1342.22 776.13 1339.00 C781.43 1335.78 786.73 1334.61 792.04 1334.00 C797.34 1333.39 802.64 1335.00 807.95 1335.33 C813.25 1335.67 818.55 1333.67 823.86 1336.00 C829.16 1338.33 834.46 1344.22 839.76 1349.33 C845.07 1354.44 850.37 1360.17 855.67 1366.67 C860.98 1373.17 866.28 1381.67 871.58 1388.33 C876.89 1395.00 882.19 1401.28 887.49 1406.67 C892.79 1412.06 898.10 1416.78 903.40 1420.67 C908.70 1424.56 914.01 1426.33 919.31 1430.00 C924.61 1433.67 929.92 1437.78 935.22 1442.67 C940.52 1447.56 945.82 1453.94 951.13 1459.33 C956.43 1464.72 961.73 1472.06 967.04 1475.00 C972.34 1477.94 977.64 1477.06 982.95 1477.00 C988.25 1476.94 993.55 1476.11 998.85 1474.67 C1004.16 1473.22 1009.46 1471.06 1014.76 1468.33 C1020.07 1465.61 1025.37 1461.00 1030.67 1458.33 C1035.98 1455.67 1041.28 1453.89 1046.58 1452.33 C1051.88 1450.78 1057.19 1449.83 1062.49 1449.00 C1067.79 1448.17 1073.10 1447.89 1078.40 1447.33 C1083.70 1446.78 1089.01 1446.44 1094.31 1445.67 C1099.61 1444.89 1104.91 1444.33 1110.22 1442.67 C1115.52 1441.00 1120.82 1438.50 1126.13 1435.67 C1131.43 1432.83 1139.38 1427.33 1142.04 1425.67 L1142.04 1426 L107.95 1426 Z" fill="#0f0" fill-opacity="0.41" clip-path="url(#cp)"/>
<path d="M107.95 1396.00 C110.60 1397.61 118.56 1403.33 123.86 1405.67 C129.16 1408.00 134.47 1408.83 139.77 1410.00 C145.07 1411.17 150.37 1411.56 155.68 1412.67 C160.98 1413.78 166.28 1415.22 171.59 1416.67 C176.89 1418.11 182.19 1420.00 187.50 1421.33 C192.80 1422.67 198.10 1423.78 203.40 1424.67 C208.71 1425.56 214.01 1426.06 219.31 1426.67 C224.62 1427.28 229.92 1428.11 235.22 1428.33 C240.53 1428.56 245.83 1428.39 251.13 1428.00 C256.43 1427.61 261.74 1426.50 267.04 1426.00 C272.34 1425.50 277.65 1425.17 282.95 1425.00 C288.25 1424.83 293.56 1425.00 298.86 1425.00 C304.16 1425.00 309.46 1425.00 314.77 1425.00 C320.07 1425.00 325.37 1425.00 330.68 1425.00 C335.98 1425.00 341.28 1425.00 346.59 1425.00 C351.89 1425.00 357.19 1424.94 362.49 1425.00 C367.80 1425.06 373.10 1425.00 378.40 1425.33 C383.71 1425.67 389.01 1427.22 394.31 1427.00 C399.62 1426.78 404.92 1425.28 410.22 1424.00 C415.52 1422.72 420.83 1420.78 426.13 1419.33 C431.43 1417.89 436.74 1416.50 442.04 1415.33 C447.34 1414.17 452.64 1412.72 457.95 1412.33 C463.25 1411.94 468.55 1413.22 473.86 1413.00 C479.16 1412.78 484.46 1412.06 489.77 1411.00 C495.07 1409.94 500.37 1407.44 505.68 1406.67 C510.98 1405.89 516.28 1405.89 521.58 1406.33 C526.89 1406.78 532.19 1408.11 537.49 1409.33 C542.80 1410.56 548.10 1412.28 553.40 1413.67 C558.71 1415.06 564.01 1416.61 569.31 1417.67 C574.61 1418.72 579.92 1419.89 585.22 1420.00 C590.52 1420.11 595.83 1419.11 601.13 1418.33 C606.43 1417.56 611.74 1415.39 617.04 1415.33 C622.34 1415.28 627.64 1417.39 632.95 1418.00 C638.25 1418.61 643.55 1419.11 648.86 1419.00 C654.16 1418.89 659.46 1418.56 664.77 1417.33 C670.07 1416.11 675.37 1416.89 680.67 1411.67 C685.98 1406.44 691.28 1392.39 696.58 1386.00 C701.89 1379.61 707.19 1376.28 712.49 1373.33 C717.80 1370.39 723.10 1370.11 728.40 1368.33 C733.70 1366.56 739.01 1365.17 744.31 1362.67 C749.61 1360.17 754.92 1357.28 760.22 1353.33 C765.52 1349.39 770.83 1342.22 776.13 1339.00 C781.43 1335.78 786.73 1334.61 792.04 1334.00 C797.34 1333.39 802.64 1335.00 807.95 1335.33 C813.25 1335.67 818.55 1333.67 823.86 1336.00 C829.16 1338.33 834.46 1344.22 839.76 1349.33 C845.07 1354.44 850.37 1360.17 855.67 1366.67 C860.98 1373.17 866.28 1381.67 871.58 1388.33 C876.89 1395.00 882.19 1401.28 887.49 1406.67 C892.79 1412.06 898.10 1416.78 903.40 1420.67 C908.70 1424.56 914.01 1426.33 919.31 1430.00 C924.61 1433.67 929.92 1437.78 935.22 1442.67 C940.52 1447.56 945.82 1453.94 951.13 1459.33 C956.43 1464.72 961.73 1472.06 967.04 1475.00 C972.34 1477.94 977.64 1477.06 982.95 1477.00 C988.25 1476.94 993.55 1476.11 998.85 1474.67 C1004.16 1473.22 1009.46 1471.06 1014.76 1468.33 C1020.07 1465.61 1025.37 1461.00 1030.67 1458.33 C1035.98 1455.67 1041.28 1453.89 1046.58 1452.33 C1051.88 1450.78 1057.19 1449.83 1062.49 1449.00 C1067.79 1448.17 1073.10 1447.89 1078.40 1447.33 C1083.70 1446.78 1089.01 1446.44 1094.31 1445.67 C1099.61 1444.89 1104.91 1444.33 1110.22 1442.67 C1115.52 1441.00 1120.82 1438.50 1126.13 1435.67 C1131.43 1432.83 1139.38 1427.33 1142.04 1425.67 L1142.04 1426 L107.95 1426 Z" fill="#f00" fill-opacity="0.41" clip-path="url(#cn)"/>
<rect x="107" y="1425" width="1036" height="1" fill="#0f0" fill-opacity="0.41" shape-rendering="crispEdges"/>
<rect x="100" y="1318" width="1" height="183" fill="#000" shape-rendering="crispEdges"/>
<rect x="98" y="1500" width="1059" height="1" fill="#000" shape-rendering="crispEdges"/>
<path d="M100.5 1312.5 L104 1319 L97 1319 Z" fill="#000"/>
<path d="M1162.5 1500.5 L1155.5 1497 L1155.5 1504 Z" fill="#000"/>
<rect x="98" y="1325" width="5" height="1" fill="#000" shape-rendering="crispEdges"/>
<rect x="98" y="1337" width="2" height="1" fill="#f00" shape-rendering="crispEdges"/>
<text x="98.30" y="1330.00" font-size="11.3" text-anchor="end" textLength="24.00" lengthAdjust="spacingAndGlyphs" fill="#000" stroke="#000" stroke-width="0.09">2.00</text>
<rect x="98" y="1350" width="5" height="1" fill="#000" shape-rendering="crispEdges"/>
<rect x="98" y="1362" width="2" height="1" fill="#f00" shape-rendering="crispEdges"/>
<text x="98.30" y="1355.00" font-size="11.3" text-anchor="end" textLength="24.00" lengthAdjust="spacingAndGlyphs" fill="#000" stroke="#000" stroke-width="0.09">1.50</text>
<rect x="98" y="1375" width="5" height="1" fill="#000" shape-rendering="crispEdges"/>
<rect x="98" y="1387" width="2" height="1" fill="#f00" shape-rendering="crispEdges"/>
<text x="98.30" y="1380.00" font-size="11.3" text-anchor="end" textLength="24.00" lengthAdjust="spacingAndGlyphs" fill="#000" stroke="#000" stroke-width="0.09">1.00</text>
<rect x="98" y="1400" width="5" height="1" fill="#000" shape-rendering="crispEdges"/>
<rect x="98" y="1412" width="2" height="1" fill="#f00" shape-rendering="crispEdges"/>
<text x="98.30" y="1405.00" font-size="11.3" text-anchor="end" textLength="24.00" lengthAdjust="spacingAndGlyphs" fill="#000" stroke="#000" stroke-width="0.09">0.50</text>
<rect x="98" y="1425" width="5" height="1" fill="#000" shape-rendering="crispEdges"/>
<rect x="98" y="1437" width="2" height="1" fill="#f00" shape-rendering="crispEdges"/>
<text x="98.30" y="1430.00" font-size="11.3" text-anchor="end" textLength="24.00" lengthAdjust="spacingAndGlyphs" fill="#000" stroke="#000" stroke-width="0.09">0.00</text>
<rect x="98" y="1450" width="5" height="1" fill="#000" shape-rendering="crispEdges"/>
<rect x="98" y="1462" width="2" height="1" fill="#f00" shape-rendering="crispEdges"/>
<text x="98.30" y="1455.00" font-size="11.3" text-anchor="end" textLength="29.00" lengthAdjust="spacingAndGlyphs" fill="#000" stroke="#000" stroke-width="0.09">-0.50</text>
<rect x="98" y="1475" width="5" height="1" fill="#000" shape-rendering="crispEdges"/>
<rect x="98" y="1487" width="2" height="1" fill="#f00" shape-rendering="crispEdges"/>
<text x="98.30" y="1480.00" font-size="11.3" text-anchor="end" textLength="29.00" lengthAdjust="spacingAndGlyphs" fill="#000" stroke="#000" stroke-width="0.09">-1.00</text>
<rect x="98" y="1500" width="5" height="1" fill="#000" shape-rendering="crispEdges"/>
<text x="98.30" y="1505.00" font-size="11.3" text-anchor="end" textLength="29.00" lengthAdjust="spacingAndGlyphs" fill="#000" stroke="#000" stroke-width="0.09">-1.50</text>
<rect x="107" y="1498" width="1" height="5" fill="#000" shape-rendering="crispEdges"/>
<text x="108.80" y="1515.00" font-size="11.3" text-anchor="middle" textLength="36.20" lengthAdjust="spacingAndGlyphs" fill="#000" stroke="#000" stroke-width="0.09">24 Fév</text>
<rect x="123" y="1501" width="1" height="2" fill="#e6e6e6" shape-rendering="crispEdges"/>
<rect x="139" y="1501" width="1" height="2" fill="#e6e6e6" shape-rendering="crispEdges"/>
<rect x="155" y="1501" width="1" height="2" fill="#e6e6e6" shape-rendering="crispEdges"/>
<rect x="171" y="1501" width="1" height="2" fill="#e6e6e6" shape-rendering="crispEdges"/>
<rect x="187" y="1498" width="1" height="5" fill="#000" shape-rendering="crispEdges"/>
<text x="188.80" y="1513.60" font-size="11.3" text-anchor="middle" textLength="37.50" lengthAdjust="spacingAndGlyphs" fill="#000" stroke="#000" stroke-width="0.09">3 Mars</text>
<rect x="203" y="1501" width="1" height="2" fill="#e6e6e6" shape-rendering="crispEdges"/>
<rect x="219" y="1501" width="1" height="2" fill="#e6e6e6" shape-rendering="crispEdges"/>
<rect x="235" y="1501" width="1" height="2" fill="#e6e6e6" shape-rendering="crispEdges"/>
<rect x="251" y="1501" width="1" height="2" fill="#e6e6e6" shape-rendering="crispEdges"/>
<rect x="267" y="1498" width="1" height="5" fill="#000" shape-rendering="crispEdges"/>
<text x="268.80" y="1513.60" font-size="11.3" text-anchor="middle" textLength="44.50" lengthAdjust="spacingAndGlyphs" fill="#000" stroke="#000" stroke-width="0.09">10 Mars</text>
<rect x="282" y="1501" width="1" height="2" fill="#e6e6e6" shape-rendering="crispEdges"/>
<rect x="298" y="1501" width="1" height="2" fill="#e6e6e6" shape-rendering="crispEdges"/>
<rect x="314" y="1501" width="1" height="2" fill="#e6e6e6" shape-rendering="crispEdges"/>
<rect x="330" y="1501" width="1" height="2" fill="#e6e6e6" shape-rendering="crispEdges"/>
<rect x="346" y="1498" width="1" height="5" fill="#000" shape-rendering="crispEdges"/>
<text x="347.80" y="1513.60" font-size="11.3" text-anchor="middle" textLength="44.50" lengthAdjust="spacingAndGlyphs" fill="#000" stroke="#000" stroke-width="0.09">17 Mars</text>
<rect x="362" y="1501" width="1" height="2" fill="#e6e6e6" shape-rendering="crispEdges"/>
<rect x="378" y="1501" width="1" height="2" fill="#e6e6e6" shape-rendering="crispEdges"/>
<rect x="394" y="1501" width="1" height="2" fill="#e6e6e6" shape-rendering="crispEdges"/>
<rect x="410" y="1501" width="1" height="2" fill="#e6e6e6" shape-rendering="crispEdges"/>
<rect x="426" y="1498" width="1" height="5" fill="#000" shape-rendering="crispEdges"/>
<text x="427.80" y="1513.60" font-size="11.3" text-anchor="middle" textLength="44.50" lengthAdjust="spacingAndGlyphs" fill="#000" stroke="#000" stroke-width="0.09">24 Mars</text>
<rect x="442" y="1501" width="1" height="2" fill="#e6e6e6" shape-rendering="crispEdges"/>
<rect x="457" y="1501" width="1" height="2" fill="#e6e6e6" shape-rendering="crispEdges"/>
<rect x="473" y="1501" width="1" height="2" fill="#e6e6e6" shape-rendering="crispEdges"/>
<rect x="489" y="1501" width="1" height="2" fill="#e6e6e6" shape-rendering="crispEdges"/>
<rect x="505" y="1498" width="1" height="5" fill="#000" shape-rendering="crispEdges"/>
<text x="506.80" y="1513.60" font-size="11.3" text-anchor="middle" textLength="44.50" lengthAdjust="spacingAndGlyphs" fill="#000" stroke="#000" stroke-width="0.09">31 Mars</text>
<rect x="521" y="1501" width="1" height="2" fill="#e6e6e6" shape-rendering="crispEdges"/>
<rect x="537" y="1501" width="1" height="2" fill="#e6e6e6" shape-rendering="crispEdges"/>
<rect x="553" y="1501" width="1" height="2" fill="#e6e6e6" shape-rendering="crispEdges"/>
<rect x="569" y="1501" width="1" height="2" fill="#e6e6e6" shape-rendering="crispEdges"/>
<rect x="585" y="1498" width="1" height="5" fill="#000" shape-rendering="crispEdges"/>
<text x="586.80" y="1513.60" font-size="11.3" text-anchor="middle" textLength="36.50" lengthAdjust="spacingAndGlyphs" fill="#000" stroke="#000" stroke-width="0.09">11 Avr</text>
<rect x="601" y="1501" width="1" height="2" fill="#e6e6e6" shape-rendering="crispEdges"/>
<rect x="617" y="1501" width="1" height="2" fill="#e6e6e6" shape-rendering="crispEdges"/>
<rect x="632" y="1501" width="1" height="2" fill="#e6e6e6" shape-rendering="crispEdges"/>
<rect x="648" y="1501" width="1" height="2" fill="#e6e6e6" shape-rendering="crispEdges"/>
<rect x="664" y="1498" width="1" height="5" fill="#000" shape-rendering="crispEdges"/>
<text x="665.80" y="1513.60" font-size="11.3" text-anchor="middle" textLength="36.50" lengthAdjust="spacingAndGlyphs" fill="#000" stroke="#000" stroke-width="0.09">20 Avr</text>
<rect x="680" y="1501" width="1" height="2" fill="#e6e6e6" shape-rendering="crispEdges"/>
<rect x="696" y="1501" width="1" height="2" fill="#e6e6e6" shape-rendering="crispEdges"/>
<rect x="712" y="1501" width="1" height="2" fill="#e6e6e6" shape-rendering="crispEdges"/>
<rect x="728" y="1501" width="1" height="2" fill="#e6e6e6" shape-rendering="crispEdges"/>
<rect x="744" y="1498" width="1" height="5" fill="#000" shape-rendering="crispEdges"/>
<text x="745.80" y="1513.60" font-size="11.3" text-anchor="middle" textLength="36.50" lengthAdjust="spacingAndGlyphs" fill="#000" stroke="#000" stroke-width="0.09">27 Avr</text>
<rect x="760" y="1501" width="1" height="2" fill="#e6e6e6" shape-rendering="crispEdges"/>
<rect x="776" y="1501" width="1" height="2" fill="#e6e6e6" shape-rendering="crispEdges"/>
<rect x="792" y="1501" width="1" height="2" fill="#e6e6e6" shape-rendering="crispEdges"/>
<rect x="807" y="1501" width="1" height="2" fill="#e6e6e6" shape-rendering="crispEdges"/>
<rect x="823" y="1498" width="1" height="5" fill="#000" shape-rendering="crispEdges"/>
<text x="824.80" y="1513.60" font-size="11.3" text-anchor="middle" textLength="29.50" lengthAdjust="spacingAndGlyphs" fill="#000" stroke="#000" stroke-width="0.09">5 Mai</text>
<rect x="839" y="1501" width="1" height="2" fill="#e6e6e6" shape-rendering="crispEdges"/>
<rect x="855" y="1501" width="1" height="2" fill="#e6e6e6" shape-rendering="crispEdges"/>
<rect x="871" y="1501" width="1" height="2" fill="#e6e6e6" shape-rendering="crispEdges"/>
<rect x="887" y="1501" width="1" height="2" fill="#e6e6e6" shape-rendering="crispEdges"/>
<rect x="903" y="1498" width="1" height="5" fill="#000" shape-rendering="crispEdges"/>
<text x="904.80" y="1513.60" font-size="11.3" text-anchor="middle" textLength="36.50" lengthAdjust="spacingAndGlyphs" fill="#000" stroke="#000" stroke-width="0.09">12 Mai</text>
<rect x="919" y="1501" width="1" height="2" fill="#e6e6e6" shape-rendering="crispEdges"/>
<rect x="935" y="1501" width="1" height="2" fill="#e6e6e6" shape-rendering="crispEdges"/>
<rect x="951" y="1501" width="1" height="2" fill="#e6e6e6" shape-rendering="crispEdges"/>
<rect x="967" y="1501" width="1" height="2" fill="#e6e6e6" shape-rendering="crispEdges"/>
<rect x="982" y="1498" width="1" height="5" fill="#000" shape-rendering="crispEdges"/>
<text x="983.80" y="1513.60" font-size="11.3" text-anchor="middle" textLength="36.50" lengthAdjust="spacingAndGlyphs" fill="#000" stroke="#000" stroke-width="0.09">19 Mai</text>
<rect x="998" y="1501" width="1" height="2" fill="#e6e6e6" shape-rendering="crispEdges"/>
<rect x="1014" y="1501" width="1" height="2" fill="#e6e6e6" shape-rendering="crispEdges"/>
<rect x="1030" y="1501" width="1" height="2" fill="#e6e6e6" shape-rendering="crispEdges"/>
<rect x="1046" y="1501" width="1" height="2" fill="#e6e6e6" shape-rendering="crispEdges"/>
<rect x="1062" y="1498" width="1" height="5" fill="#000" shape-rendering="crispEdges"/>
<text x="1063.80" y="1513.60" font-size="11.3" text-anchor="middle" textLength="36.50" lengthAdjust="spacingAndGlyphs" fill="#000" stroke="#000" stroke-width="0.09">26 Mai</text>
<rect x="1078" y="1501" width="1" height="2" fill="#e6e6e6" shape-rendering="crispEdges"/>
<rect x="1094" y="1501" width="1" height="2" fill="#e6e6e6" shape-rendering="crispEdges"/>
<rect x="1110" y="1501" width="1" height="2" fill="#e6e6e6" shape-rendering="crispEdges"/>
<rect x="1126" y="1501" width="1" height="2" fill="#e6e6e6" shape-rendering="crispEdges"/>
<rect x="1142" y="1498" width="1" height="5" fill="#000" shape-rendering="crispEdges"/>
<text x="1143.80" y="1513.60" font-size="11.3" text-anchor="middle" textLength="33.50" lengthAdjust="spacingAndGlyphs" fill="#000" stroke="#000" stroke-width="0.09">2 Juin</text>
<text x="627.40" y="1525.00" font-size="11.3" text-anchor="middle" textLength="236.50" lengthAdjust="spacingAndGlyphs" fill="#000" stroke="#000" stroke-width="0.09">Date (du 24 Février 2017 au 2 Juin 2017)</text>
<text transform="translate(67,1410.5) rotate(-90)" font-size="11.3" text-anchor="middle" textLength="34.3" lengthAdjust="spacingAndGlyphs">MACD</text>
<text x="111.20" y="1294.7" font-size="24.3" textLength="45.30" lengthAdjust="spacingAndGlyphs" stroke="#000" stroke-width="0.15">Seb</text>
<text x="156.22" y="1294.7" font-size="24.3" textLength="10.56" lengthAdjust="spacingAndGlyphs" stroke="#000" stroke-width="0.15">:</text>
<text x="174.50" y="1294.7" font-size="24.3" textLength="120.00" lengthAdjust="spacingAndGlyphs" stroke="#000" stroke-width="0.15">graphique</text>
<text x="301.60" y="1294.7" font-size="24.3" textLength="29.90" lengthAdjust="spacingAndGlyphs" stroke="#000" stroke-width="0.15">du</text>
<text x="340.10" y="1294.7" font-size="24.3" textLength="72.60" lengthAdjust="spacingAndGlyphs" stroke="#000" stroke-width="0.15">MACD</text>
<text x="420.66" y="1294.7" font-size="24.3" textLength="10.29" lengthAdjust="spacingAndGlyphs" stroke="#000" stroke-width="0.15">-</text>
<text x="438.95" y="1294.7" font-size="24.3" textLength="186.35" lengthAdjust="spacingAndGlyphs" stroke="#000" stroke-width="0.15">MACD(12,26,9)</text>
<text x="634.26" y="1294.7" font-size="24.3" textLength="10.29" lengthAdjust="spacingAndGlyphs" stroke="#000" stroke-width="0.15">-</text>
<text x="653.20" y="1294.7" font-size="24.3" textLength="207.70" lengthAdjust="spacingAndGlyphs" stroke="#000" stroke-width="0.15">AnalyBourse.com</text>
</svg>
</body></html>
